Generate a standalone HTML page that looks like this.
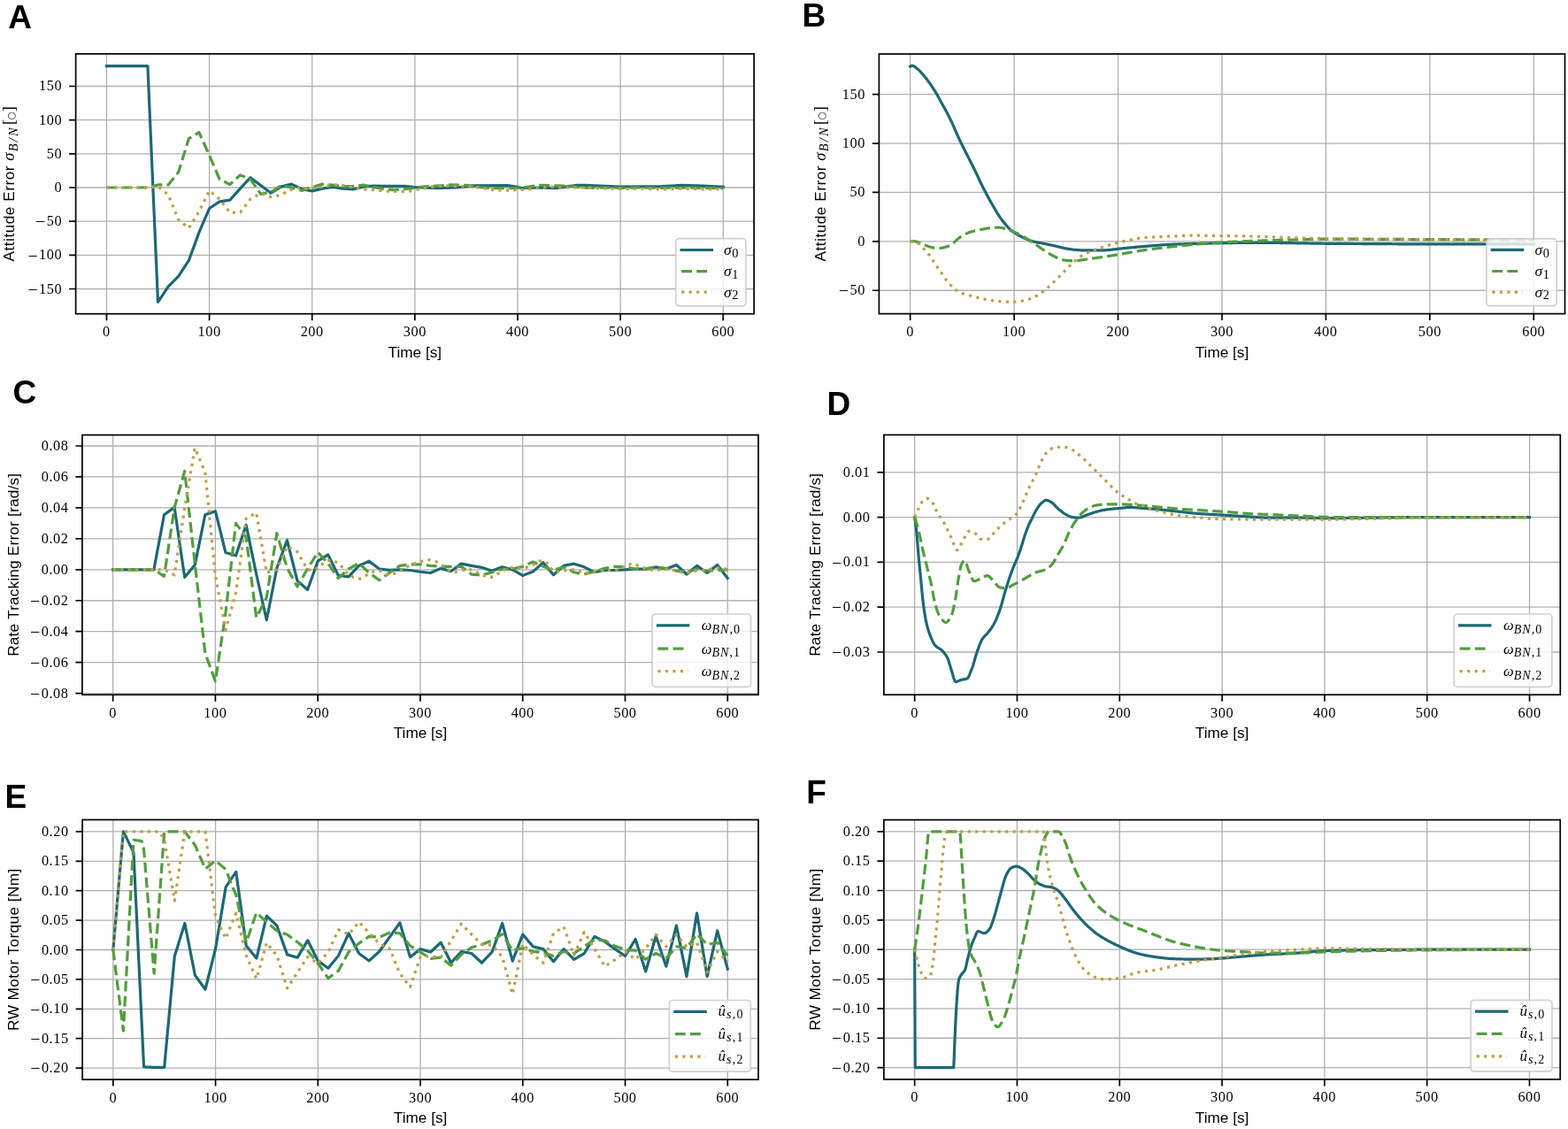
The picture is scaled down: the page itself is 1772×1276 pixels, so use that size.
<!DOCTYPE html>
<html><head><meta charset="utf-8"><title>Figure</title>
<style>
html,body{margin:0;padding:0;background:#fff;width:1772px;height:1276px;overflow:hidden;}
svg{display:block;}
</style></head>
<body>
<svg width="1772" height="1276" viewBox="0 0 1772 1276">
<rect width="1772" height="1276" fill="#fff"/>
<clipPath id="clipA"><rect x="85.60" y="60.90" width="766.50" height="293.80"/></clipPath>
<path d="M120.44 60.90V354.70M236.58 60.90V354.70M352.71 60.90V354.70M468.85 60.90V354.70M584.99 60.90V354.70M701.12 60.90V354.70M817.26 60.90V354.70M85.60 97.49H852.10M85.60 135.66H852.10M85.60 173.83H852.10M85.60 212.00H852.10M85.60 250.17H852.10M85.60 288.34H852.10M85.60 326.51H852.10" stroke="#b0b0b0" stroke-width="1.30" fill="none"/>
<path d="M120.44 74.59L166.90 74.59L178.51 341.40L190.12 323.76L201.74 312.01L213.35 294.45L224.96 262.61L236.58 235.51L248.19 227.80L259.80 226.12L271.42 213.15L283.03 200.70L306.26 218.18L317.87 210.85L329.49 208.11L341.10 213.68L352.71 215.89L364.33 213.15L375.94 211.47L387.55 213.15L399.17 213.98L410.78 210.85L422.40 210.02L434.01 210.32L445.62 210.32L457.24 210.32L468.85 211.54L494.40 212.69L516.47 212.00L533.89 209.86L573.37 209.63L584.99 211.24L589.63 212.69L607.05 212.00L629.12 212.69L652.35 209.33L660.47 209.33L677.90 210.09L701.12 211.08L724.35 210.85L747.58 210.55L770.80 209.40L794.03 210.17L817.26 211.31" stroke="#1d6874" stroke-width="3.20" fill="none" stroke-linejoin="round" stroke-linecap="square" clip-path="url(#clipA)"/>
<path d="M120.44 212.00L166.90 212.00L178.51 208.95L190.12 208.95L201.74 194.44L213.35 156.73L224.96 149.63L236.58 175.51L248.19 202.61L259.80 208.49L271.42 197.88L283.03 202.61L294.65 219.33L306.26 217.04L317.87 209.71L329.49 212.00L341.10 215.36L352.71 211.47L364.33 208.11L375.94 209.18L387.55 210.85L399.17 210.32L410.78 209.18L422.40 211.47L434.01 213.68L445.62 214.82L457.24 213.68L468.85 212.53L476.98 211.01L493.24 210.09L509.50 208.95L526.92 209.33L543.18 211.77L560.60 212.69L576.86 212.69L594.28 211.54L610.54 209.33L627.96 209.86L643.05 210.09L660.47 212.08L677.90 212.00L701.12 212.38L724.35 212.00L747.58 212.38L770.80 212.00L794.03 212.38L817.26 212.76" stroke="#529d3f" stroke-width="3.20" fill="none" stroke-linejoin="round" stroke-dasharray="11.9 5.2" clip-path="url(#clipA)"/>
<path d="M120.44 212.00L166.90 212.00L178.51 210.85L190.12 220.24L201.74 248.49L213.35 257.80L224.96 239.10L236.58 215.51L248.19 224.98L259.80 240.25L271.42 240.25L283.03 224.98L294.65 218.49L306.26 222.69L317.87 220.40L324.84 215.82L332.97 213.15L341.10 212.00L350.39 213.15L358.52 212.00L366.65 210.85L374.78 209.18L382.91 208.64L392.20 210.32L400.33 212.00L408.46 213.68L417.75 214.21L425.88 214.82L434.01 215.89L443.30 216.50L459.56 216.50L467.69 215.28L476.98 213.22L485.11 211.77L493.24 210.40L501.37 209.86L518.79 210.40L535.05 211.24L544.34 212.31L552.47 213.83L560.60 214.90L569.89 215.28L586.15 214.60L594.28 214.14L603.57 212.99L611.70 211.92L619.83 211.01L627.96 211.54L637.25 211.92L660.47 212.08L677.90 212.76L701.12 213.53L724.35 213.15L747.58 213.91L770.80 213.15L794.03 213.91L817.26 213.53" stroke="#bd9f4a" stroke-width="3.20" fill="none" stroke-linejoin="round" stroke-dasharray="3.2 5.3" clip-path="url(#clipA)"/>
<rect x="85.60" y="60.90" width="766.50" height="293.80" fill="none" stroke="#000" stroke-width="1.70" stroke-linejoin="miter"/>
<path d="M120.44 354.70v7.50M236.58 354.70v7.50M352.71 354.70v7.50M468.85 354.70v7.50M584.99 354.70v7.50M701.12 354.70v7.50M817.26 354.70v7.50M85.60 97.49h-7.50M85.60 135.66h-7.50M85.60 173.83h-7.50M85.60 212.00h-7.50M85.60 250.17h-7.50M85.60 288.34h-7.50M85.60 326.51h-7.50" stroke="#000" stroke-width="1.70" fill="none"/>
<g font-family="'Liberation Serif', 'DejaVu Serif', serif" font-size="16.3" letter-spacing="0.55" fill="#000"><text x="120.44" y="380.10" text-anchor="middle">0</text><text x="236.58" y="380.10" text-anchor="middle">100</text><text x="352.71" y="380.10" text-anchor="middle">200</text><text x="468.85" y="380.10" text-anchor="middle">300</text><text x="584.99" y="380.10" text-anchor="middle">400</text><text x="701.12" y="380.10" text-anchor="middle">500</text><text x="817.26" y="380.10" text-anchor="middle">600</text><text x="70.10" y="102.49" text-anchor="end">150</text><text x="70.10" y="140.66" text-anchor="end">100</text><text x="70.10" y="178.83" text-anchor="end">50</text><text x="70.10" y="217.00" text-anchor="end">0</text><text x="70.10" y="255.17" text-anchor="end"><tspan font-size="20" dy="2.2">−</tspan><tspan dx="0.8" dy="-2.2">50</tspan></text><text x="70.10" y="293.34" text-anchor="end"><tspan font-size="20" dy="2.2">−</tspan><tspan dx="0.8" dy="-2.2">100</tspan></text><text x="70.10" y="331.51" text-anchor="end"><tspan font-size="20" dy="2.2">−</tspan><tspan dx="0.8" dy="-2.2">150</tspan></text></g>
<text x="468.85" y="403.80" text-anchor="middle" font-family="'Liberation Sans', 'DejaVu Sans', sans-serif" font-size="17.2" fill="#000" textLength="60.5" lengthAdjust="spacing">Time [s]</text>
<text transform="translate(15.90 207.80) rotate(-90)" text-anchor="middle" font-family="'Liberation Sans', 'DejaVu Sans', sans-serif" font-size="17.2" fill="#000" textLength="175.5" lengthAdjust="spacing">Attitude Error <tspan font-family="'Liberation Serif', 'DejaVu Serif', serif" font-style="italic" font-size="18.5">σ</tspan><tspan font-family="'Liberation Serif', 'DejaVu Serif', serif" font-style="italic" font-size="14.5" dy="3.6" dx="0.8" letter-spacing="1.6">B/N</tspan><tspan font-family="'Liberation Serif', 'DejaVu Serif', serif" font-size="19.5" dy="-3.6" dx="1">[</tspan><tspan font-family="'DejaVu Sans', sans-serif" font-size="11" dy="-0.3" dx="-1.2">○</tspan><tspan font-family="'Liberation Serif', 'DejaVu Serif', serif" font-size="19.5" dy="0.3" dx="-1.2">]</tspan></text>
<rect x="763.70" y="269.70" width="79.20" height="76.20" rx="3.8" ry="3.8" fill="#fff" fill-opacity="0.8" stroke="#cccccc" stroke-opacity="0.9" stroke-width="1.7"/>
<path d="M770.10 282.50H804.40" stroke="#1d6874" stroke-width="3.20" stroke-linecap="square"/>
<text x="818.00" y="288.10" font-family="'Liberation Serif', 'DejaVu Serif', serif" fill="#000"><tspan font-style="italic" font-size="17.5">σ</tspan><tspan font-size="14.3" dy="2.6" dx="0.6">0</tspan></text>
<path d="M770.10 306.60H804.40" stroke="#529d3f" stroke-width="3.20" stroke-dasharray="11.9 5.2"/>
<text x="818.00" y="312.20" font-family="'Liberation Serif', 'DejaVu Serif', serif" fill="#000"><tspan font-style="italic" font-size="17.5">σ</tspan><tspan font-size="14.3" dy="2.6" dx="0.6">1</tspan></text>
<path d="M770.10 330.20H804.40" stroke="#bd9f4a" stroke-width="3.20" stroke-dasharray="3.2 5.3"/>
<text x="818.00" y="335.80" font-family="'Liberation Serif', 'DejaVu Serif', serif" fill="#000"><tspan font-style="italic" font-size="17.5">σ</tspan><tspan font-size="14.3" dy="2.6" dx="0.6">2</tspan></text>
<text x="9.30" y="31.90" font-family="'Liberation Sans', 'DejaVu Sans', sans-serif" font-weight="bold" font-size="37" fill="#000">A</text>
<clipPath id="clipB"><rect x="993.40" y="61.00" width="775.10" height="293.60"/></clipPath>
<path d="M1028.63 61.00V354.60M1146.07 61.00V354.60M1263.51 61.00V354.60M1380.95 61.00V354.60M1498.39 61.00V354.60M1615.83 61.00V354.60M1733.27 61.00V354.60M993.40 106.65H1768.50M993.40 162.05H1768.50M993.40 217.45H1768.50M993.40 272.85H1768.50M993.40 328.25H1768.50" stroke="#b0b0b0" stroke-width="1.30" fill="none"/>
<path d="M1028.63 75.07L1029.22 74.75L1029.81 74.51L1030.39 74.35L1030.98 74.30L1031.57 74.36L1032.15 74.54L1032.74 74.81L1033.33 75.16L1033.92 75.57L1034.50 76.02L1035.09 76.50L1035.68 76.98L1036.27 77.44L1036.50 77.62L1036.85 77.89L1037.44 78.38L1038.03 78.90L1038.61 79.46L1039.20 80.04L1039.79 80.65L1040.38 81.27L1040.96 81.90L1041.55 82.54L1042.02 83.05L1042.14 83.18L1042.72 83.83L1043.31 84.50L1043.90 85.19L1044.49 85.89L1045.07 86.61L1045.66 87.33L1046.25 88.08L1046.83 88.83L1047.42 89.59L1048.01 90.36L1048.60 91.14L1049.18 91.94L1049.77 92.76L1050.36 93.58L1050.95 94.42L1051.53 95.27L1052.12 96.13L1052.71 96.99L1052.94 97.34L1053.29 97.87L1053.88 98.76L1054.47 99.65L1055.06 100.56L1055.64 101.48L1056.23 102.42L1056.82 103.37L1057.40 104.33L1057.99 105.30L1058.46 106.10L1058.58 106.30L1059.17 107.32L1059.75 108.36L1060.34 109.43L1060.93 110.52L1061.51 111.61L1062.10 112.71L1062.69 113.80L1063.28 114.89L1063.86 115.96L1064.45 117.01L1065.04 118.05L1065.63 119.08L1066.21 120.11L1066.80 121.15L1067.39 122.18L1067.97 123.23L1068.56 124.30L1069.15 125.38L1069.38 125.82L1069.74 126.48L1070.32 127.60L1070.91 128.73L1071.50 129.88L1072.08 131.03L1072.67 132.20L1073.26 133.39L1073.85 134.59L1074.43 135.80L1074.90 136.79L1075.02 137.04L1075.61 138.29L1076.19 139.58L1076.78 140.89L1077.37 142.22L1077.96 143.56L1078.54 144.90L1079.13 146.23L1079.72 147.56L1080.31 148.86L1080.89 150.17L1081.48 151.47L1082.07 152.78L1082.65 154.08L1083.24 155.38L1083.83 156.67L1084.42 157.95L1085.00 159.21L1085.59 160.45L1085.82 160.94L1086.18 161.67L1086.76 162.87L1087.35 164.05L1087.94 165.22L1088.53 166.38L1089.11 167.53L1089.70 168.68L1090.29 169.83L1090.87 170.98L1091.34 171.91L1091.46 172.14L1092.05 173.31L1092.64 174.48L1093.22 175.65L1093.81 176.81L1094.40 177.98L1094.99 179.15L1095.57 180.31L1096.16 181.48L1096.75 182.65L1096.86 182.88L1097.33 183.81L1097.92 184.97L1098.51 186.12L1099.10 187.28L1099.68 188.43L1100.27 189.59L1100.86 190.76L1101.44 191.94L1102.03 193.13L1102.38 193.85L1102.62 194.34L1103.21 195.57L1103.79 196.83L1104.38 198.10L1104.97 199.39L1105.55 200.67L1106.14 201.95L1106.73 203.23L1107.32 204.48L1107.90 205.72L1108.49 206.92L1109.08 208.11L1109.66 209.29L1110.25 210.46L1110.84 211.63L1111.43 212.79L1112.01 213.94L1112.60 215.08L1113.19 216.22L1113.78 217.35L1114.36 218.47L1114.95 219.58L1115.54 220.69L1116.12 221.79L1116.71 222.87L1117.30 223.95L1117.89 225.02L1118.47 226.08L1119.06 227.13L1119.65 228.17L1120.23 229.19L1120.82 230.22L1121.41 231.25L1122.00 232.27L1122.58 233.29L1123.17 234.31L1123.76 235.33L1124.34 236.33L1124.93 237.33L1125.52 238.32L1126.11 239.30L1126.69 240.27L1127.28 241.22L1127.87 242.16L1128.46 243.08L1129.04 243.98L1129.63 244.86L1130.22 245.71L1130.80 246.55L1131.39 247.36L1131.98 248.14L1132.57 248.91L1133.15 249.67L1133.74 250.42L1134.33 251.17L1134.91 251.91L1135.50 252.63L1136.09 253.35L1136.68 254.05L1137.26 254.74L1137.85 255.41L1138.44 256.07L1139.02 256.71L1139.61 257.34L1140.20 257.94L1140.79 258.53L1141.37 259.09L1141.96 259.63L1142.55 260.15L1143.14 260.64L1143.72 261.11L1144.31 261.55L1144.90 261.98L1145.48 262.40L1146.07 262.81L1146.66 263.21L1147.25 263.59L1147.83 263.96L1148.42 264.33L1149.01 264.68L1149.59 265.02L1150.18 265.36L1150.77 265.68L1151.36 266.00L1151.94 266.32L1152.53 266.62L1153.12 266.93L1153.70 267.22L1154.29 267.51L1154.88 267.80L1155.47 268.09L1156.05 268.37L1156.64 268.65L1157.23 268.93L1157.82 269.21L1158.40 269.48L1158.99 269.75L1159.58 270.02L1160.16 270.28L1160.75 270.53L1161.34 270.78L1161.93 271.03L1162.51 271.27L1163.10 271.50L1163.69 271.72L1164.27 271.93L1164.86 272.14L1165.45 272.33L1166.04 272.51L1166.62 272.69L1167.21 272.85L1167.80 273.00L1168.38 273.15L1168.97 273.28L1169.56 273.42L1170.15 273.54L1170.73 273.66L1171.32 273.78L1171.91 273.89L1172.50 274.00L1173.08 274.11L1173.67 274.21L1174.26 274.32L1174.84 274.42L1175.43 274.52L1176.02 274.62L1176.61 274.73L1177.19 274.84L1177.78 274.95L1178.37 275.06L1178.95 275.18L1179.54 275.30L1180.13 275.41L1180.72 275.53L1181.30 275.65L1181.89 275.77L1182.48 275.89L1183.06 276.01L1183.65 276.13L1184.24 276.25L1184.83 276.37L1185.41 276.49L1186.00 276.61L1186.59 276.73L1187.17 276.86L1187.76 276.98L1188.35 277.11L1188.94 277.23L1189.52 277.36L1190.11 277.49L1190.70 277.61L1191.29 277.75L1191.87 277.88L1192.46 278.02L1193.05 278.16L1193.63 278.31L1194.22 278.45L1194.81 278.60L1195.40 278.75L1195.98 278.90L1196.57 279.04L1197.16 279.19L1197.74 279.34L1198.33 279.48L1198.92 279.62L1199.51 279.76L1200.09 279.89L1200.68 280.02L1201.27 280.15L1201.85 280.27L1202.44 280.38L1203.03 280.50L1203.62 280.61L1204.20 280.72L1204.79 280.84L1205.38 280.95L1205.97 281.06L1206.55 281.17L1207.14 281.28L1207.73 281.38L1208.31 281.48L1208.90 281.58L1209.49 281.68L1210.08 281.77L1210.66 281.86L1211.25 281.94L1211.84 282.02L1212.42 282.09L1213.01 282.16L1213.60 282.22L1214.19 282.27L1214.77 282.32L1215.36 282.37L1215.95 282.41L1216.53 282.46L1217.12 282.51L1217.71 282.56L1218.30 282.60L1218.88 282.64L1219.47 282.68L1220.06 282.72L1220.65 282.76L1221.23 282.79L1221.82 282.82L1222.41 282.85L1222.99 282.87L1223.58 282.90L1224.17 282.91L1224.76 282.92L1225.34 282.93L1225.93 282.93L1226.52 282.93L1227.10 282.93L1227.69 282.93L1228.28 282.93L1228.87 282.93L1229.45 282.93L1230.04 282.93L1230.63 282.93L1231.21 282.93L1231.80 282.93L1232.39 282.93L1232.98 282.93L1233.56 282.93L1234.15 282.93L1234.74 282.93L1235.33 282.93L1235.91 282.93L1236.50 282.93L1237.09 282.93L1237.67 282.93L1238.26 282.93L1238.85 282.93L1239.44 282.93L1240.02 282.92L1240.61 282.92L1241.20 282.91L1241.78 282.91L1242.37 282.90L1242.96 282.89L1243.55 282.88L1244.13 282.87L1244.72 282.86L1245.31 282.85L1245.89 282.83L1246.48 282.82L1247.07 282.81L1247.66 282.79L1248.24 282.78L1248.83 282.76L1249.42 282.75L1250.01 282.73L1250.59 282.71L1251.18 282.69L1251.77 282.66L1252.35 282.62L1252.94 282.58L1253.53 282.52L1254.12 282.47L1254.70 282.40L1255.29 282.33L1255.88 282.26L1256.46 282.19L1257.05 282.11L1257.64 282.03L1258.23 281.95L1258.81 281.87L1259.40 281.79L1259.99 281.71L1260.57 281.63L1261.16 281.55L1261.75 281.47L1262.34 281.40L1262.92 281.33L1263.51 281.27L1264.10 281.21L1264.68 281.15L1265.27 281.09L1265.86 281.03L1266.45 280.97L1267.03 280.91L1267.62 280.85L1268.21 280.79L1268.80 280.73L1269.38 280.67L1269.97 280.61L1270.56 280.56L1271.14 280.50L1271.73 280.44L1272.32 280.38L1272.91 280.32L1273.49 280.27L1274.08 280.21L1274.67 280.15L1275.25 280.09L1275.84 280.04L1276.43 279.98L1277.02 279.92L1277.60 279.87L1278.19 279.81L1278.78 279.76L1279.36 279.70L1279.95 279.65L1280.54 279.59L1281.13 279.54L1281.71 279.48L1282.30 279.43L1282.89 279.37L1283.48 279.32L1284.06 279.27L1284.65 279.21L1285.24 279.16L1285.82 279.11L1286.41 279.06L1287.00 279.00L1287.59 278.95L1288.17 278.90L1288.76 278.85L1289.35 278.80L1289.93 278.75L1290.52 278.70L1291.11 278.65L1291.70 278.60L1292.28 278.55L1292.87 278.50L1293.46 278.45L1294.04 278.40L1294.63 278.35L1295.22 278.30L1295.81 278.25L1296.39 278.20L1296.98 278.15L1297.57 278.10L1298.16 278.05L1298.74 278.00L1299.33 277.95L1299.92 277.91L1300.50 277.86L1301.09 277.81L1301.68 277.76L1302.27 277.71L1302.85 277.66L1303.44 277.61L1304.03 277.56L1304.61 277.51L1305.20 277.47L1305.79 277.42L1306.38 277.37L1306.96 277.32L1307.55 277.28L1308.14 277.23L1308.72 277.19L1309.31 277.14L1309.90 277.10L1310.49 277.05L1311.07 277.01L1311.66 276.97L1312.25 276.93L1312.84 276.88L1313.42 276.84L1314.01 276.80L1314.60 276.77L1315.18 276.73L1315.77 276.69L1316.36 276.65L1316.95 276.62L1317.53 276.58L1318.12 276.55L1318.71 276.52L1319.29 276.48L1319.88 276.45L1320.47 276.42L1321.06 276.40L1321.64 276.37L1322.23 276.34L1322.82 276.31L1323.40 276.29L1323.99 276.26L1324.58 276.23L1325.17 276.21L1325.75 276.18L1326.34 276.16L1326.93 276.13L1327.52 276.11L1328.10 276.08L1328.69 276.06L1329.28 276.04L1329.86 276.01L1330.45 275.99L1331.04 275.97L1331.63 275.95L1332.21 275.93L1332.80 275.90L1333.39 275.88L1333.97 275.86L1334.56 275.84L1335.15 275.82L1335.74 275.80L1336.32 275.78L1336.91 275.76L1337.50 275.74L1338.08 275.72L1338.67 275.70L1339.26 275.69L1339.85 275.67L1340.43 275.65L1341.02 275.63L1341.61 275.61L1342.19 275.60L1342.78 275.58L1343.37 275.56L1343.96 275.54L1344.54 275.53L1345.13 275.51L1345.72 275.49L1346.31 275.48L1346.89 275.46L1347.48 275.45L1348.07 275.43L1348.65 275.41L1349.24 275.40L1349.83 275.38L1350.42 275.37L1351.00 275.35L1351.59 275.34L1352.18 275.32L1352.76 275.31L1353.35 275.29L1353.94 275.28L1354.53 275.26L1355.11 275.25L1355.70 275.23L1356.29 275.22L1356.87 275.21L1357.46 275.19L1358.05 275.18L1358.64 275.16L1359.22 275.15L1359.81 275.14L1360.40 275.12L1360.99 275.11L1361.57 275.10L1362.16 275.08L1362.75 275.07L1363.33 275.06L1363.92 275.05L1364.51 275.03L1365.10 275.02L1365.68 275.01L1366.27 275.00L1366.86 274.98L1367.44 274.97L1368.03 274.96L1368.62 274.95L1369.21 274.94L1369.79 274.93L1370.38 274.91L1370.97 274.90L1371.55 274.89L1372.14 274.88L1372.73 274.87L1373.32 274.86L1373.90 274.85L1374.49 274.84L1375.08 274.83L1375.67 274.82L1376.25 274.81L1376.84 274.80L1377.43 274.79L1378.01 274.78L1378.60 274.77L1379.19 274.76L1379.78 274.75L1380.36 274.74L1380.95 274.73L1381.54 274.72L1382.12 274.72L1382.71 274.71L1383.30 274.70L1383.89 274.69L1384.47 274.68L1385.06 274.67L1385.65 274.66L1386.23 274.65L1386.82 274.64L1387.41 274.63L1388.00 274.62L1388.58 274.62L1389.17 274.61L1389.76 274.60L1390.35 274.59L1390.93 274.58L1391.52 274.57L1392.11 274.56L1392.69 274.55L1393.28 274.54L1393.87 274.53L1394.46 274.52L1395.04 274.52L1395.63 274.51L1396.22 274.50L1396.80 274.49L1397.39 274.48L1397.98 274.47L1398.57 274.46L1399.15 274.46L1399.74 274.45L1400.33 274.44L1400.91 274.43L1401.50 274.42L1402.09 274.42L1402.68 274.41L1403.26 274.40L1403.85 274.39L1404.44 274.39L1405.03 274.38L1405.61 274.37L1406.20 274.37L1406.79 274.36L1407.37 274.36L1407.96 274.35L1408.55 274.35L1409.14 274.34L1409.72 274.33L1410.31 274.33L1410.90 274.33L1411.48 274.32L1412.07 274.32L1412.66 274.31L1413.25 274.31L1413.83 274.31L1414.42 274.30L1415.01 274.30L1415.59 274.30L1416.18 274.30L1416.77 274.29L1417.36 274.29L1417.94 274.29L1418.53 274.29L1419.12 274.29L1419.70 274.29L1420.29 274.29L1420.88 274.29L1421.47 274.29L1422.05 274.29L1422.64 274.29L1423.23 274.30L1423.82 274.30L1424.40 274.30L1424.99 274.30L1425.58 274.31L1426.16 274.31L1426.75 274.31L1427.34 274.31L1427.93 274.32L1428.51 274.32L1429.10 274.33L1429.69 274.33L1430.27 274.34L1430.86 274.34L1431.45 274.35L1432.04 274.35L1432.62 274.36L1433.21 274.36L1433.80 274.37L1434.38 274.37L1434.97 274.38L1435.56 274.38L1436.15 274.39L1436.73 274.40L1437.32 274.40L1437.91 274.41L1438.50 274.42L1439.08 274.43L1439.67 274.43L1440.26 274.44L1440.84 274.45L1441.43 274.45L1442.02 274.46L1442.61 274.47L1443.19 274.48L1443.78 274.49L1444.37 274.49L1444.95 274.50L1445.54 274.51L1446.13 274.52L1446.72 274.53L1447.30 274.53L1447.89 274.54L1448.48 274.55L1449.06 274.56L1449.65 274.57L1450.24 274.57L1450.83 274.58L1451.41 274.59L1452.00 274.60L1452.59 274.61L1453.18 274.62L1453.76 274.62L1454.35 274.63L1454.94 274.64L1455.52 274.65L1456.11 274.66L1456.70 274.66L1457.29 274.67L1457.87 274.68L1458.46 274.69L1459.05 274.70L1459.63 274.70L1460.22 274.71L1460.81 274.72L1461.40 274.73L1461.98 274.73L1462.57 274.74L1463.16 274.75L1463.74 274.76L1464.33 274.76L1464.92 274.77L1465.51 274.78L1466.09 274.79L1466.68 274.80L1467.27 274.81L1467.86 274.81L1468.44 274.82L1469.03 274.83L1469.62 274.84L1470.20 274.85L1470.79 274.86L1471.38 274.87L1471.97 274.88L1472.55 274.89L1473.14 274.90L1473.73 274.91L1474.31 274.92L1474.90 274.93L1475.49 274.94L1476.08 274.95L1476.66 274.96L1477.25 274.97L1477.84 274.98L1478.42 274.99L1479.01 275.00L1479.60 275.01L1480.19 275.02L1480.77 275.03L1481.36 275.04L1481.95 275.05L1482.54 275.06L1483.12 275.07L1483.71 275.08L1484.30 275.09L1484.88 275.10L1485.47 275.11L1486.06 275.12L1486.65 275.12L1487.23 275.13L1487.82 275.14L1488.41 275.15L1488.99 275.16L1489.58 275.17L1490.17 275.18L1490.76 275.19L1491.34 275.19L1491.93 275.20L1492.52 275.21L1493.10 275.22L1493.69 275.22L1494.28 275.23L1494.87 275.24L1495.45 275.25L1496.04 275.25L1496.63 275.26L1497.21 275.27L1497.80 275.27L1498.39 275.28L1498.98 275.28L1499.56 275.29L1500.15 275.29L1500.74 275.30L1501.33 275.30L1501.91 275.31L1502.50 275.31L1503.09 275.32L1503.67 275.32L1504.26 275.33L1504.85 275.33L1505.44 275.33L1506.02 275.34L1506.61 275.34L1507.20 275.35L1507.78 275.35L1508.37 275.36L1508.96 275.36L1509.55 275.36L1510.13 275.37L1510.72 275.37L1511.31 275.38L1511.89 275.38L1512.48 275.38L1513.07 275.39L1513.66 275.39L1514.24 275.40L1514.83 275.40L1515.42 275.40L1516.01 275.41L1516.59 275.41L1517.18 275.41L1517.77 275.42L1518.35 275.42L1518.94 275.42L1519.53 275.43L1520.12 275.43L1520.70 275.43L1521.29 275.44L1521.88 275.44L1522.46 275.44L1523.05 275.45L1523.64 275.45L1524.23 275.45L1524.81 275.46L1525.40 275.46L1525.99 275.46L1526.57 275.47L1527.16 275.47L1527.75 275.47L1528.34 275.47L1528.92 275.48L1529.51 275.48L1530.10 275.48L1530.69 275.49L1531.27 275.49L1531.86 275.49L1532.45 275.49L1533.03 275.50L1533.62 275.50L1534.21 275.50L1534.80 275.51L1535.38 275.51L1535.97 275.51L1536.56 275.51L1537.14 275.52L1537.73 275.52L1538.32 275.52L1538.91 275.53L1539.49 275.53L1540.08 275.53L1540.67 275.53L1541.25 275.54L1541.84 275.54L1542.43 275.54L1543.02 275.55L1543.60 275.55L1544.19 275.55L1544.78 275.55L1545.37 275.56L1545.95 275.56L1546.54 275.56L1547.13 275.57L1547.71 275.57L1548.30 275.57L1548.89 275.58L1549.48 275.58L1550.06 275.58L1550.65 275.58L1551.24 275.59L1551.82 275.59L1552.41 275.59L1553.00 275.60L1553.59 275.60L1554.17 275.60L1554.76 275.61L1555.35 275.61L1555.93 275.61L1556.52 275.62L1557.11 275.62L1557.70 275.62L1558.28 275.63L1558.87 275.63L1559.46 275.63L1560.05 275.64L1560.63 275.64L1561.22 275.64L1561.81 275.65L1562.39 275.65L1562.98 275.66L1563.57 275.66L1564.16 275.66L1564.74 275.67L1565.33 275.67L1565.92 275.68L1566.50 275.68L1567.09 275.68L1567.68 275.69L1568.27 275.69L1568.85 275.70L1569.44 275.70L1570.03 275.71L1570.61 275.71L1571.20 275.71L1571.79 275.72L1572.38 275.72L1572.96 275.73L1573.55 275.73L1574.14 275.74L1574.72 275.74L1575.31 275.75L1575.90 275.75L1576.49 275.75L1577.07 275.76L1577.66 275.76L1578.25 275.77L1578.84 275.77L1579.42 275.78L1580.01 275.78L1580.60 275.79L1581.18 275.79L1581.77 275.79L1582.36 275.80L1582.95 275.80L1583.53 275.81L1584.12 275.81L1584.71 275.82L1585.29 275.82L1585.88 275.82L1586.47 275.83L1587.06 275.83L1587.64 275.84L1588.23 275.84L1588.82 275.84L1589.40 275.85L1589.99 275.85L1590.58 275.86L1591.17 275.86L1591.75 275.86L1592.34 275.87L1592.93 275.87L1593.52 275.87L1594.10 275.88L1594.69 275.88L1595.28 275.89L1595.86 275.89L1596.45 275.89L1597.04 275.90L1597.63 275.90L1598.21 275.90L1598.80 275.90L1599.39 275.91L1599.97 275.91L1600.56 275.91L1601.15 275.92L1601.74 275.92L1602.32 275.92L1602.91 275.92L1603.50 275.93L1604.08 275.93L1604.67 275.93L1605.26 275.93L1605.85 275.93L1606.43 275.94L1607.02 275.94L1607.61 275.94L1608.20 275.94L1608.78 275.94L1609.37 275.94L1609.96 275.95L1610.54 275.95L1611.13 275.95L1611.72 275.95L1612.31 275.95L1612.89 275.95L1613.48 275.95L1614.07 275.95L1614.65 275.95L1615.24 275.95L1615.83 275.95L1616.42 275.95L1617.00 275.95L1617.59 275.95L1618.18 275.95L1618.76 275.95L1619.35 275.95L1619.94 275.95L1620.53 275.95L1621.11 275.95L1621.70 275.95L1622.29 275.95L1622.88 275.95L1623.46 275.95L1624.05 275.95L1624.64 275.95L1625.22 275.95L1625.81 275.95L1626.40 275.95L1626.99 275.95L1627.57 275.95L1628.16 275.95L1628.75 275.95L1629.33 275.95L1629.92 275.95L1630.51 275.95L1631.10 275.95L1631.68 275.95L1632.27 275.95L1632.86 275.95L1633.44 275.95L1634.03 275.95L1634.62 275.95L1635.21 275.95L1635.79 275.95L1636.38 275.95L1636.97 275.95L1637.56 275.95L1638.14 275.95L1638.73 275.95L1639.32 275.95L1639.90 275.95L1640.49 275.95L1641.08 275.95L1641.67 275.95L1642.25 275.95L1642.84 275.95L1643.43 275.95L1644.01 275.95L1644.60 275.95L1645.19 275.95L1645.78 275.95L1646.36 275.95L1646.95 275.95L1647.54 275.95L1648.12 275.95L1648.71 275.95L1649.30 275.95L1649.89 275.95L1650.47 275.95L1651.06 275.95L1651.65 275.95L1652.23 275.95L1652.82 275.95L1653.41 275.95L1654.00 275.95L1654.58 275.95L1655.17 275.95L1655.76 275.95L1656.35 275.95L1656.93 275.95L1657.52 275.95L1658.11 275.95L1658.69 275.95L1659.28 275.95L1659.87 275.95L1660.46 275.95L1661.04 275.95L1661.63 275.95L1662.22 275.95L1662.80 275.95L1663.39 275.95L1663.98 275.95L1664.57 275.95L1665.15 275.95L1665.74 275.95L1666.33 275.95L1666.91 275.95L1667.50 275.95L1668.09 275.95L1668.68 275.95L1669.26 275.95L1669.85 275.95L1670.44 275.95L1671.03 275.95L1671.61 275.95L1672.20 275.95L1672.79 275.95L1673.37 275.95L1673.96 275.95L1674.55 275.95L1675.14 275.95L1675.72 275.95L1676.31 275.95L1676.90 275.95L1677.48 275.95L1678.07 275.95L1678.66 275.95L1679.25 275.95L1679.83 275.95L1680.42 275.95L1681.01 275.95L1681.59 275.95L1682.18 275.95L1682.77 275.95L1683.36 275.95L1683.94 275.95L1684.53 275.95L1685.12 275.95L1685.71 275.95L1686.29 275.95L1686.88 275.95L1687.47 275.95L1688.05 275.95L1688.64 275.95L1689.23 275.95L1689.82 275.95L1690.40 275.95L1690.99 275.95L1691.58 275.95L1692.16 275.95L1692.75 275.95L1693.34 275.95L1693.93 275.95L1694.51 275.95L1695.10 275.95L1695.69 275.95L1696.27 275.95L1696.86 275.95L1697.45 275.95L1698.04 275.95L1698.62 275.95L1699.21 275.95L1699.80 275.95L1700.39 275.95L1700.97 275.95L1701.56 275.95L1702.15 275.95L1702.73 275.95L1703.32 275.95L1703.91 275.95L1704.50 275.95L1705.08 275.95L1705.67 275.95L1706.26 275.95L1706.84 275.95L1707.43 275.95L1708.02 275.95L1708.61 275.95L1709.19 275.95L1709.78 275.95L1710.37 275.95L1710.95 275.95L1711.54 275.95L1712.13 275.95L1712.72 275.95L1713.30 275.95L1713.89 275.95L1714.48 275.95L1715.07 275.95L1715.65 275.95L1716.24 275.95L1716.83 275.95L1717.41 275.95L1718.00 275.95L1718.59 275.95L1719.18 275.95L1719.76 275.95L1720.35 275.95L1720.94 275.95L1721.52 275.95L1722.11 275.95L1722.70 275.95L1723.29 275.95L1723.87 275.95L1724.46 275.95L1725.05 275.95L1725.63 275.95L1726.22 275.95L1726.81 275.95L1727.40 275.95L1727.98 275.95L1728.57 275.95L1729.16 275.95L1729.74 275.95L1730.33 275.95L1730.92 275.95L1731.51 275.95L1732.09 275.95L1732.68 275.95L1733.27 275.95" stroke="#1d6874" stroke-width="3.20" fill="none" stroke-linejoin="round" stroke-linecap="square" clip-path="url(#clipB)"/>
<path d="M1028.63 272.85L1029.22 272.76L1029.81 272.70L1030.39 272.67L1030.98 272.64L1031.57 272.63L1032.15 272.63L1032.51 272.63L1032.74 272.63L1033.33 272.67L1033.92 272.74L1034.50 272.85L1035.09 272.99L1035.68 273.15L1036.27 273.33L1036.85 273.52L1037.44 273.73L1038.03 273.94L1038.61 274.15L1039.20 274.35L1039.67 274.51L1039.79 274.55L1040.38 274.76L1040.96 275.00L1041.55 275.25L1042.14 275.51L1042.72 275.78L1043.31 276.05L1043.90 276.32L1044.49 276.59L1045.07 276.84L1045.66 277.09L1046.25 277.34L1046.83 277.60L1047.42 277.85L1048.01 278.10L1048.60 278.33L1049.18 278.54L1049.77 278.72L1050.36 278.90L1050.95 279.07L1051.53 279.24L1052.12 279.41L1052.71 279.56L1053.29 279.71L1053.88 279.84L1054.47 279.95L1055.06 280.05L1055.64 280.12L1056.11 280.16L1056.23 280.17L1056.82 280.21L1057.40 280.25L1057.99 280.28L1058.58 280.31L1059.17 280.33L1059.75 280.36L1060.34 280.37L1060.93 280.38L1061.51 280.38L1062.10 280.37L1062.69 280.35L1063.28 280.30L1063.86 280.23L1064.45 280.15L1065.04 280.06L1065.63 279.95L1066.21 279.82L1066.80 279.68L1067.39 279.54L1067.97 279.38L1068.56 279.21L1069.15 279.03L1069.74 278.84L1070.32 278.65L1070.91 278.45L1071.50 278.25L1072.08 278.04L1072.67 277.83L1073.26 277.61L1073.85 277.37L1074.43 277.07L1075.02 276.71L1075.61 276.31L1076.19 275.86L1076.78 275.38L1077.37 274.87L1077.96 274.34L1078.54 273.79L1079.13 273.22L1079.72 272.65L1080.31 272.07L1080.89 271.50L1081.48 270.94L1082.07 270.40L1082.65 269.87L1083.24 269.37L1083.83 268.90L1084.42 268.47L1085.00 268.09L1085.59 267.72L1086.18 267.37L1086.76 267.01L1087.35 266.67L1087.94 266.32L1088.53 265.99L1089.11 265.66L1089.70 265.33L1090.29 265.02L1090.87 264.71L1091.46 264.41L1092.05 264.12L1092.64 263.85L1093.22 263.58L1093.81 263.32L1094.40 263.07L1094.99 262.84L1095.57 262.62L1096.16 262.41L1096.75 262.21L1097.33 262.03L1097.92 261.85L1098.51 261.68L1099.10 261.52L1099.68 261.36L1100.27 261.20L1100.86 261.05L1101.44 260.91L1102.03 260.77L1102.62 260.64L1103.21 260.51L1103.79 260.38L1104.38 260.26L1104.97 260.13L1105.55 260.01L1106.14 259.90L1106.73 259.78L1107.32 259.67L1107.90 259.56L1108.49 259.44L1109.08 259.33L1109.66 259.22L1110.25 259.11L1110.84 259.00L1111.43 258.89L1112.01 258.78L1112.60 258.68L1113.19 258.57L1113.78 258.47L1114.36 258.37L1114.95 258.27L1115.54 258.18L1116.12 258.09L1116.71 258.00L1117.30 257.92L1117.89 257.84L1118.47 257.76L1119.06 257.69L1119.65 257.62L1120.23 257.56L1120.82 257.50L1121.41 257.43L1122.00 257.37L1122.58 257.31L1123.17 257.25L1123.76 257.19L1124.34 257.14L1124.93 257.10L1125.52 257.06L1126.11 257.03L1126.69 257.01L1127.28 257.01L1127.87 257.02L1128.46 257.05L1129.04 257.09L1129.63 257.16L1130.22 257.24L1130.80 257.33L1131.39 257.44L1131.98 257.55L1132.57 257.68L1133.15 257.81L1133.74 257.95L1134.33 258.09L1134.91 258.23L1135.50 258.38L1136.09 258.52L1136.68 258.67L1137.26 258.82L1137.85 258.98L1138.44 259.16L1139.02 259.35L1139.61 259.55L1140.20 259.76L1140.79 259.99L1141.37 260.22L1141.96 260.45L1142.55 260.69L1143.14 260.94L1143.72 261.19L1144.31 261.45L1144.90 261.70L1145.48 261.96L1146.07 262.21L1146.66 262.47L1147.25 262.74L1147.83 263.01L1148.42 263.29L1149.01 263.57L1149.59 263.86L1150.18 264.16L1150.77 264.46L1151.36 264.76L1151.94 265.07L1152.53 265.38L1153.12 265.70L1153.70 266.02L1154.29 266.33L1154.88 266.66L1155.47 266.98L1156.05 267.30L1156.64 267.63L1157.23 267.96L1157.82 268.30L1158.40 268.64L1158.99 268.98L1159.58 269.32L1160.16 269.67L1160.75 270.02L1161.34 270.38L1161.93 270.74L1162.51 271.10L1163.10 271.46L1163.69 271.83L1164.27 272.19L1164.86 272.56L1165.45 272.94L1166.04 273.31L1166.62 273.69L1167.21 274.07L1167.80 274.45L1168.38 274.85L1168.97 275.25L1169.56 275.65L1170.15 276.06L1170.73 276.48L1171.32 276.90L1171.91 277.32L1172.50 277.74L1173.08 278.17L1173.67 278.59L1174.26 279.02L1174.84 279.44L1175.43 279.86L1176.02 280.27L1176.61 280.69L1177.19 281.09L1177.78 281.49L1178.37 281.88L1178.95 282.27L1179.54 282.65L1180.13 283.03L1180.72 283.42L1181.30 283.80L1181.89 284.18L1182.48 284.56L1183.06 284.94L1183.65 285.32L1184.24 285.69L1184.83 286.06L1185.41 286.43L1186.00 286.78L1186.59 287.14L1187.17 287.48L1187.76 287.82L1188.35 288.15L1188.94 288.46L1189.52 288.77L1190.11 289.07L1190.70 289.36L1191.29 289.64L1191.87 289.93L1192.46 290.23L1193.05 290.52L1193.63 290.81L1194.22 291.11L1194.81 291.40L1195.40 291.68L1195.98 291.96L1196.57 292.22L1197.16 292.48L1197.74 292.72L1198.33 292.95L1198.92 293.17L1199.51 293.36L1200.09 293.54L1200.68 293.69L1201.27 293.83L1201.85 293.93L1202.44 294.01L1203.03 294.08L1203.62 294.14L1204.20 294.20L1204.79 294.26L1205.38 294.32L1205.97 294.38L1206.55 294.43L1207.14 294.48L1207.73 294.52L1208.31 294.57L1208.90 294.61L1209.49 294.64L1210.08 294.68L1210.66 294.70L1211.25 294.73L1211.84 294.75L1212.42 294.77L1213.01 294.78L1213.60 294.79L1214.19 294.79L1214.77 294.78L1215.36 294.76L1215.95 294.73L1216.53 294.69L1217.12 294.64L1217.71 294.57L1218.30 294.51L1218.88 294.43L1219.47 294.35L1220.06 294.26L1220.65 294.17L1221.23 294.08L1221.82 293.98L1222.41 293.89L1222.99 293.79L1223.58 293.70L1224.17 293.60L1224.76 293.51L1225.34 293.43L1225.93 293.35L1226.52 293.27L1227.10 293.19L1227.69 293.11L1228.28 293.03L1228.87 292.95L1229.45 292.87L1230.04 292.79L1230.63 292.70L1231.21 292.62L1231.80 292.53L1232.39 292.45L1232.98 292.37L1233.56 292.28L1234.15 292.20L1234.74 292.11L1235.33 292.03L1235.91 291.94L1236.50 291.86L1237.09 291.77L1237.67 291.69L1238.26 291.60L1238.85 291.52L1239.44 291.43L1240.02 291.35L1240.61 291.27L1241.20 291.18L1241.78 291.10L1242.37 291.01L1242.96 290.93L1243.55 290.85L1244.13 290.76L1244.72 290.68L1245.31 290.59L1245.89 290.51L1246.48 290.42L1247.07 290.33L1247.66 290.25L1248.24 290.16L1248.83 290.07L1249.42 289.98L1250.01 289.89L1250.59 289.80L1251.18 289.71L1251.77 289.62L1252.35 289.53L1252.94 289.43L1253.53 289.34L1254.12 289.25L1254.70 289.15L1255.29 289.06L1255.88 288.96L1256.46 288.87L1257.05 288.77L1257.64 288.67L1258.23 288.58L1258.81 288.48L1259.40 288.38L1259.99 288.28L1260.57 288.19L1261.16 288.09L1261.75 287.99L1262.34 287.89L1262.92 287.79L1263.51 287.70L1264.10 287.60L1264.68 287.50L1265.27 287.40L1265.86 287.30L1266.45 287.20L1267.03 287.10L1267.62 287.00L1268.21 286.90L1268.80 286.79L1269.38 286.69L1269.97 286.59L1270.56 286.48L1271.14 286.38L1271.73 286.28L1272.32 286.17L1272.91 286.07L1273.49 285.96L1274.08 285.86L1274.67 285.75L1275.25 285.65L1275.84 285.54L1276.43 285.44L1277.02 285.33L1277.60 285.23L1278.19 285.13L1278.78 285.02L1279.36 284.92L1279.95 284.81L1280.54 284.71L1281.13 284.61L1281.71 284.51L1282.30 284.41L1282.89 284.30L1283.48 284.20L1284.06 284.10L1284.65 284.01L1285.24 283.91L1285.82 283.81L1286.41 283.71L1287.00 283.62L1287.59 283.52L1288.17 283.43L1288.76 283.33L1289.35 283.24L1289.93 283.15L1290.52 283.06L1291.11 282.97L1291.70 282.88L1292.28 282.80L1292.87 282.71L1293.46 282.63L1294.04 282.54L1294.63 282.46L1295.22 282.38L1295.81 282.29L1296.39 282.21L1296.98 282.13L1297.57 282.05L1298.16 281.97L1298.74 281.89L1299.33 281.81L1299.92 281.73L1300.50 281.65L1301.09 281.57L1301.68 281.50L1302.27 281.42L1302.85 281.34L1303.44 281.27L1304.03 281.19L1304.61 281.12L1305.20 281.04L1305.79 280.97L1306.38 280.89L1306.96 280.82L1307.55 280.75L1308.14 280.67L1308.72 280.60L1309.31 280.53L1309.90 280.46L1310.49 280.39L1311.07 280.31L1311.66 280.24L1312.25 280.17L1312.84 280.10L1313.42 280.04L1314.01 279.97L1314.60 279.90L1315.18 279.83L1315.77 279.76L1316.36 279.69L1316.95 279.63L1317.53 279.56L1318.12 279.49L1318.71 279.43L1319.29 279.36L1319.88 279.30L1320.47 279.23L1321.06 279.17L1321.64 279.10L1322.23 279.04L1322.82 278.97L1323.40 278.91L1323.99 278.85L1324.58 278.78L1325.17 278.72L1325.75 278.66L1326.34 278.60L1326.93 278.53L1327.52 278.47L1328.10 278.41L1328.69 278.35L1329.28 278.29L1329.86 278.23L1330.45 278.17L1331.04 278.11L1331.63 278.05L1332.21 277.99L1332.80 277.94L1333.39 277.88L1333.97 277.82L1334.56 277.76L1335.15 277.70L1335.74 277.65L1336.32 277.59L1336.91 277.53L1337.50 277.48L1338.08 277.42L1338.67 277.36L1339.26 277.31L1339.85 277.25L1340.43 277.20L1341.02 277.14L1341.61 277.09L1342.19 277.03L1342.78 276.98L1343.37 276.93L1343.96 276.87L1344.54 276.82L1345.13 276.76L1345.72 276.71L1346.31 276.66L1346.89 276.61L1347.48 276.55L1348.07 276.50L1348.65 276.45L1349.24 276.40L1349.83 276.34L1350.42 276.29L1351.00 276.24L1351.59 276.19L1352.18 276.13L1352.76 276.08L1353.35 276.03L1353.94 275.98L1354.53 275.92L1355.11 275.87L1355.70 275.82L1356.29 275.77L1356.87 275.71L1357.46 275.66L1358.05 275.61L1358.64 275.56L1359.22 275.50L1359.81 275.45L1360.40 275.40L1360.99 275.35L1361.57 275.30L1362.16 275.25L1362.75 275.19L1363.33 275.14L1363.92 275.09L1364.51 275.04L1365.10 274.99L1365.68 274.94L1366.27 274.90L1366.86 274.85L1367.44 274.80L1368.03 274.75L1368.62 274.70L1369.21 274.66L1369.79 274.61L1370.38 274.57L1370.97 274.52L1371.55 274.48L1372.14 274.43L1372.73 274.39L1373.32 274.34L1373.90 274.30L1374.49 274.26L1375.08 274.22L1375.67 274.18L1376.25 274.14L1376.84 274.10L1377.43 274.06L1378.01 274.02L1378.60 273.99L1379.19 273.95L1379.78 273.92L1380.36 273.88L1380.95 273.85L1381.54 273.81L1382.12 273.78L1382.71 273.75L1383.30 273.72L1383.89 273.69L1384.47 273.65L1385.06 273.62L1385.65 273.59L1386.23 273.56L1386.82 273.53L1387.41 273.50L1388.00 273.47L1388.58 273.44L1389.17 273.41L1389.76 273.39L1390.35 273.36L1390.93 273.33L1391.52 273.30L1392.11 273.27L1392.69 273.25L1393.28 273.22L1393.87 273.19L1394.46 273.16L1395.04 273.14L1395.63 273.11L1396.22 273.09L1396.80 273.06L1397.39 273.03L1397.98 273.01L1398.57 272.98L1399.15 272.96L1399.74 272.93L1400.33 272.91L1400.91 272.89L1401.50 272.86L1402.09 272.84L1402.68 272.81L1403.26 272.79L1403.85 272.77L1404.44 272.74L1405.03 272.72L1405.61 272.70L1406.20 272.68L1406.79 272.65L1407.37 272.63L1407.96 272.61L1408.55 272.59L1409.14 272.56L1409.72 272.54L1410.31 272.52L1410.90 272.50L1411.48 272.48L1412.07 272.46L1412.66 272.43L1413.25 272.41L1413.83 272.39L1414.42 272.37L1415.01 272.35L1415.59 272.33L1416.18 272.31L1416.77 272.29L1417.36 272.27L1417.94 272.25L1418.53 272.23L1419.12 272.21L1419.70 272.19L1420.29 272.16L1420.88 272.14L1421.47 272.12L1422.05 272.11L1422.64 272.09L1423.23 272.07L1423.82 272.05L1424.40 272.03L1424.99 272.01L1425.58 271.99L1426.16 271.97L1426.75 271.95L1427.34 271.93L1427.93 271.91L1428.51 271.90L1429.10 271.88L1429.69 271.86L1430.27 271.84L1430.86 271.82L1431.45 271.80L1432.04 271.79L1432.62 271.77L1433.21 271.75L1433.80 271.73L1434.38 271.72L1434.97 271.70L1435.56 271.68L1436.15 271.66L1436.73 271.65L1437.32 271.63L1437.91 271.61L1438.50 271.60L1439.08 271.58L1439.67 271.56L1440.26 271.55L1440.84 271.53L1441.43 271.51L1442.02 271.50L1442.61 271.48L1443.19 271.46L1443.78 271.45L1444.37 271.43L1444.95 271.42L1445.54 271.40L1446.13 271.38L1446.72 271.37L1447.30 271.35L1447.89 271.34L1448.48 271.32L1449.06 271.30L1449.65 271.29L1450.24 271.27L1450.83 271.26L1451.41 271.24L1452.00 271.23L1452.59 271.21L1453.18 271.20L1453.76 271.18L1454.35 271.16L1454.94 271.15L1455.52 271.13L1456.11 271.12L1456.70 271.10L1457.29 271.09L1457.87 271.07L1458.46 271.06L1459.05 271.04L1459.63 271.03L1460.22 271.01L1460.81 271.00L1461.40 270.98L1461.98 270.97L1462.57 270.95L1463.16 270.94L1463.74 270.92L1464.33 270.90L1464.92 270.89L1465.51 270.87L1466.09 270.85L1466.68 270.84L1467.27 270.82L1467.86 270.80L1468.44 270.78L1469.03 270.76L1469.62 270.75L1470.20 270.73L1470.79 270.71L1471.38 270.69L1471.97 270.67L1472.55 270.65L1473.14 270.64L1473.73 270.62L1474.31 270.60L1474.90 270.58L1475.49 270.56L1476.08 270.54L1476.66 270.53L1477.25 270.51L1477.84 270.49L1478.42 270.47L1479.01 270.45L1479.60 270.44L1480.19 270.42L1480.77 270.40L1481.36 270.38L1481.95 270.37L1482.54 270.35L1483.12 270.34L1483.71 270.32L1484.30 270.30L1484.88 270.29L1485.47 270.27L1486.06 270.26L1486.65 270.25L1487.23 270.23L1487.82 270.22L1488.41 270.21L1488.99 270.20L1489.58 270.18L1490.17 270.17L1490.76 270.16L1491.34 270.15L1491.93 270.14L1492.52 270.13L1493.10 270.13L1493.69 270.12L1494.28 270.11L1494.87 270.10L1495.45 270.10L1496.04 270.09L1496.63 270.09L1497.21 270.09L1497.80 270.08L1498.39 270.08L1498.98 270.08L1499.56 270.08L1500.15 270.08L1500.74 270.08L1501.33 270.08L1501.91 270.08L1502.50 270.08L1503.09 270.08L1503.67 270.08L1504.26 270.08L1504.85 270.08L1505.44 270.08L1506.02 270.08L1506.61 270.09L1507.20 270.09L1507.78 270.09L1508.37 270.09L1508.96 270.09L1509.55 270.09L1510.13 270.09L1510.72 270.09L1511.31 270.10L1511.89 270.10L1512.48 270.10L1513.07 270.10L1513.66 270.10L1514.24 270.10L1514.83 270.10L1515.42 270.11L1516.01 270.11L1516.59 270.11L1517.18 270.11L1517.77 270.11L1518.35 270.12L1518.94 270.12L1519.53 270.12L1520.12 270.12L1520.70 270.13L1521.29 270.13L1521.88 270.13L1522.46 270.13L1523.05 270.13L1523.64 270.14L1524.23 270.14L1524.81 270.14L1525.40 270.14L1525.99 270.15L1526.57 270.15L1527.16 270.15L1527.75 270.16L1528.34 270.16L1528.92 270.16L1529.51 270.16L1530.10 270.17L1530.69 270.17L1531.27 270.17L1531.86 270.17L1532.45 270.18L1533.03 270.18L1533.62 270.18L1534.21 270.19L1534.80 270.19L1535.38 270.19L1535.97 270.20L1536.56 270.20L1537.14 270.20L1537.73 270.20L1538.32 270.21L1538.91 270.21L1539.49 270.21L1540.08 270.22L1540.67 270.22L1541.25 270.22L1541.84 270.23L1542.43 270.23L1543.02 270.23L1543.60 270.23L1544.19 270.24L1544.78 270.24L1545.37 270.24L1545.95 270.25L1546.54 270.25L1547.13 270.25L1547.71 270.26L1548.30 270.26L1548.89 270.26L1549.48 270.26L1550.06 270.27L1550.65 270.27L1551.24 270.27L1551.82 270.28L1552.41 270.28L1553.00 270.28L1553.59 270.28L1554.17 270.29L1554.76 270.29L1555.35 270.29L1555.93 270.30L1556.52 270.30L1557.11 270.30L1557.70 270.30L1558.28 270.31L1558.87 270.31L1559.46 270.31L1560.05 270.32L1560.63 270.32L1561.22 270.32L1561.81 270.32L1562.39 270.33L1562.98 270.33L1563.57 270.33L1564.16 270.34L1564.74 270.34L1565.33 270.34L1565.92 270.35L1566.50 270.35L1567.09 270.35L1567.68 270.36L1568.27 270.36L1568.85 270.36L1569.44 270.37L1570.03 270.37L1570.61 270.37L1571.20 270.38L1571.79 270.38L1572.38 270.38L1572.96 270.39L1573.55 270.39L1574.14 270.39L1574.72 270.40L1575.31 270.40L1575.90 270.40L1576.49 270.41L1577.07 270.41L1577.66 270.41L1578.25 270.42L1578.84 270.42L1579.42 270.42L1580.01 270.43L1580.60 270.43L1581.18 270.44L1581.77 270.44L1582.36 270.44L1582.95 270.45L1583.53 270.45L1584.12 270.45L1584.71 270.46L1585.29 270.46L1585.88 270.46L1586.47 270.47L1587.06 270.47L1587.64 270.48L1588.23 270.48L1588.82 270.48L1589.40 270.49L1589.99 270.49L1590.58 270.49L1591.17 270.50L1591.75 270.50L1592.34 270.50L1592.93 270.51L1593.52 270.51L1594.10 270.52L1594.69 270.52L1595.28 270.52L1595.86 270.53L1596.45 270.53L1597.04 270.53L1597.63 270.54L1598.21 270.54L1598.80 270.54L1599.39 270.55L1599.97 270.55L1600.56 270.55L1601.15 270.56L1601.74 270.56L1602.32 270.56L1602.91 270.57L1603.50 270.57L1604.08 270.57L1604.67 270.58L1605.26 270.58L1605.85 270.58L1606.43 270.59L1607.02 270.59L1607.61 270.59L1608.20 270.60L1608.78 270.60L1609.37 270.60L1609.96 270.61L1610.54 270.61L1611.13 270.61L1611.72 270.61L1612.31 270.62L1612.89 270.62L1613.48 270.62L1614.07 270.63L1614.65 270.63L1615.24 270.63L1615.83 270.63L1616.42 270.64L1617.00 270.64L1617.59 270.64L1618.18 270.64L1618.76 270.65L1619.35 270.65L1619.94 270.65L1620.53 270.65L1621.11 270.66L1621.70 270.66L1622.29 270.66L1622.88 270.66L1623.46 270.67L1624.05 270.67L1624.64 270.67L1625.22 270.67L1625.81 270.68L1626.40 270.68L1626.99 270.68L1627.57 270.68L1628.16 270.68L1628.75 270.69L1629.33 270.69L1629.92 270.69L1630.51 270.69L1631.10 270.70L1631.68 270.70L1632.27 270.70L1632.86 270.70L1633.44 270.70L1634.03 270.71L1634.62 270.71L1635.21 270.71L1635.79 270.71L1636.38 270.71L1636.97 270.72L1637.56 270.72L1638.14 270.72L1638.73 270.72L1639.32 270.72L1639.90 270.73L1640.49 270.73L1641.08 270.73L1641.67 270.73L1642.25 270.73L1642.84 270.74L1643.43 270.74L1644.01 270.74L1644.60 270.74L1645.19 270.74L1645.78 270.75L1646.36 270.75L1646.95 270.75L1647.54 270.75L1648.12 270.75L1648.71 270.76L1649.30 270.76L1649.89 270.76L1650.47 270.76L1651.06 270.76L1651.65 270.77L1652.23 270.77L1652.82 270.77L1653.41 270.77L1654.00 270.78L1654.58 270.78L1655.17 270.78L1655.76 270.78L1656.35 270.78L1656.93 270.79L1657.52 270.79L1658.11 270.79L1658.69 270.79L1659.28 270.79L1659.87 270.80L1660.46 270.80L1661.04 270.80L1661.63 270.80L1662.22 270.80L1662.80 270.81L1663.39 270.81L1663.98 270.81L1664.57 270.81L1665.15 270.82L1665.74 270.82L1666.33 270.82L1666.91 270.82L1667.50 270.83L1668.09 270.83L1668.68 270.83L1669.26 270.83L1669.85 270.84L1670.44 270.84L1671.03 270.84L1671.61 270.84L1672.20 270.85L1672.79 270.85L1673.37 270.85L1673.96 270.85L1674.55 270.86L1675.14 270.86L1675.72 270.86L1676.31 270.86L1676.90 270.87L1677.48 270.87L1678.07 270.87L1678.66 270.87L1679.25 270.88L1679.83 270.88L1680.42 270.88L1681.01 270.89L1681.59 270.89L1682.18 270.89L1682.77 270.89L1683.36 270.90L1683.94 270.90L1684.53 270.90L1685.12 270.91L1685.71 270.91L1686.29 270.91L1686.88 270.91L1687.47 270.92L1688.05 270.92L1688.64 270.92L1689.23 270.93L1689.82 270.93L1690.40 270.93L1690.99 270.94L1691.58 270.94L1692.16 270.94L1692.75 270.95L1693.34 270.95L1693.93 270.95L1694.51 270.95L1695.10 270.96L1695.69 270.96L1696.27 270.96L1696.86 270.97L1697.45 270.97L1698.04 270.97L1698.62 270.98L1699.21 270.98L1699.80 270.98L1700.39 270.99L1700.97 270.99L1701.56 270.99L1702.15 271.00L1702.73 271.00L1703.32 271.00L1703.91 271.01L1704.50 271.01L1705.08 271.01L1705.67 271.02L1706.26 271.02L1706.84 271.02L1707.43 271.03L1708.02 271.03L1708.61 271.03L1709.19 271.04L1709.78 271.04L1710.37 271.04L1710.95 271.05L1711.54 271.05L1712.13 271.05L1712.72 271.06L1713.30 271.06L1713.89 271.07L1714.48 271.07L1715.07 271.07L1715.65 271.08L1716.24 271.08L1716.83 271.08L1717.41 271.09L1718.00 271.09L1718.59 271.09L1719.18 271.10L1719.76 271.10L1720.35 271.10L1720.94 271.11L1721.52 271.11L1722.11 271.12L1722.70 271.12L1723.29 271.12L1723.87 271.13L1724.46 271.13L1725.05 271.13L1725.63 271.14L1726.22 271.14L1726.81 271.15L1727.40 271.15L1727.98 271.15L1728.57 271.16L1729.16 271.16L1729.74 271.16L1730.33 271.17L1730.92 271.17L1731.51 271.18L1732.09 271.18L1732.68 271.18L1733.27 271.19" stroke="#529d3f" stroke-width="3.20" fill="none" stroke-linejoin="round" stroke-dasharray="11.9 5.2" clip-path="url(#clipB)"/>
<path d="M1028.63 272.85L1029.22 272.88L1029.81 272.92L1030.39 272.99L1030.98 273.08L1031.57 273.17L1032.15 273.28L1032.74 273.40L1033.33 273.51L1033.92 273.65L1034.50 273.81L1035.09 274.00L1035.68 274.21L1036.27 274.44L1036.85 274.70L1037.44 274.98L1038.03 275.29L1038.61 275.65L1039.20 276.09L1039.79 276.60L1040.38 277.17L1040.96 277.78L1041.55 278.43L1042.14 279.09L1042.72 279.75L1043.31 280.41L1043.90 281.05L1044.49 281.67L1045.07 282.31L1045.66 282.94L1046.25 283.59L1046.83 284.26L1047.42 284.93L1048.01 285.62L1048.60 286.33L1049.18 287.06L1049.77 287.81L1050.36 288.59L1050.95 289.41L1051.53 290.26L1052.12 291.14L1052.71 292.02L1053.29 292.92L1053.88 293.80L1054.47 294.68L1055.06 295.55L1055.64 296.42L1056.23 297.30L1056.82 298.18L1057.40 299.06L1057.99 299.93L1058.58 300.80L1059.17 301.66L1059.75 302.51L1060.34 303.35L1060.93 304.18L1061.51 305.01L1062.10 305.84L1062.69 306.67L1063.28 307.49L1063.86 308.31L1064.45 309.13L1065.04 309.98L1065.63 310.84L1066.21 311.71L1066.80 312.58L1067.39 313.45L1067.97 314.31L1068.56 315.17L1069.15 316.01L1069.74 316.84L1070.32 317.64L1070.91 318.42L1071.50 319.16L1072.08 319.87L1072.67 320.54L1073.26 321.16L1073.85 321.76L1074.43 322.35L1075.02 322.93L1075.61 323.51L1076.19 324.08L1076.78 324.63L1077.37 325.18L1077.96 325.71L1078.54 326.22L1079.13 326.72L1079.72 327.21L1080.31 327.67L1080.89 328.12L1081.48 328.54L1082.07 328.94L1082.65 329.32L1083.24 329.68L1083.83 330.00L1084.42 330.30L1085.00 330.58L1085.59 330.83L1086.18 331.06L1086.76 331.29L1087.35 331.50L1087.94 331.70L1088.53 331.89L1089.11 332.07L1089.70 332.25L1090.29 332.42L1090.87 332.58L1091.46 332.74L1092.05 332.89L1092.64 333.04L1093.22 333.19L1093.81 333.34L1094.40 333.49L1094.99 333.65L1095.57 333.80L1096.16 333.96L1096.75 334.12L1097.33 334.29L1097.92 334.45L1098.51 334.62L1099.10 334.78L1099.68 334.95L1100.27 335.11L1100.86 335.27L1101.44 335.44L1102.03 335.60L1102.62 335.75L1103.21 335.91L1103.79 336.07L1104.38 336.22L1104.97 336.37L1105.55 336.52L1106.14 336.67L1106.73 336.81L1107.32 336.95L1107.90 337.09L1108.49 337.22L1109.08 337.36L1109.66 337.49L1110.25 337.62L1110.84 337.76L1111.43 337.89L1112.01 338.02L1112.60 338.15L1113.19 338.27L1113.78 338.40L1114.36 338.52L1114.95 338.64L1115.54 338.76L1116.12 338.87L1116.71 338.98L1117.30 339.09L1117.89 339.19L1118.47 339.29L1119.06 339.38L1119.65 339.47L1120.23 339.55L1120.82 339.63L1121.41 339.71L1122.00 339.79L1122.58 339.86L1123.17 339.94L1123.76 340.01L1124.34 340.08L1124.93 340.15L1125.52 340.22L1126.11 340.28L1126.69 340.34L1127.28 340.40L1127.87 340.46L1128.46 340.51L1129.04 340.56L1129.63 340.61L1130.22 340.66L1130.80 340.70L1131.39 340.74L1131.98 340.77L1132.57 340.80L1133.15 340.84L1133.74 340.87L1134.33 340.90L1134.91 340.93L1135.50 340.96L1136.09 340.99L1136.68 341.02L1137.26 341.05L1137.85 341.07L1138.44 341.10L1139.02 341.12L1139.61 341.14L1140.20 341.16L1140.79 341.17L1141.37 341.19L1141.96 341.20L1142.55 341.21L1143.14 341.21L1143.72 341.21L1144.31 341.21L1144.90 341.20L1145.48 341.17L1146.07 341.14L1146.66 341.11L1147.25 341.06L1147.83 341.01L1148.42 340.96L1149.01 340.90L1149.59 340.83L1150.18 340.76L1150.77 340.69L1151.36 340.61L1151.94 340.52L1152.53 340.44L1153.12 340.35L1153.70 340.27L1154.29 340.18L1154.88 340.09L1155.47 339.99L1156.05 339.90L1156.64 339.79L1157.23 339.67L1157.82 339.55L1158.40 339.41L1158.99 339.26L1159.58 339.10L1160.16 338.94L1160.75 338.77L1161.34 338.59L1161.93 338.40L1162.51 338.20L1163.10 338.00L1163.69 337.80L1164.27 337.58L1164.86 337.37L1165.45 337.14L1166.04 336.92L1166.62 336.68L1167.21 336.45L1167.80 336.20L1168.38 335.94L1168.97 335.67L1169.56 335.38L1170.15 335.07L1170.73 334.76L1171.32 334.43L1171.91 334.09L1172.50 333.73L1173.08 333.37L1173.67 333.00L1174.26 332.62L1174.84 332.23L1175.43 331.84L1176.02 331.44L1176.61 331.03L1177.19 330.62L1177.78 330.20L1178.37 329.78L1178.95 329.36L1179.54 328.93L1180.13 328.48L1180.72 328.01L1181.30 327.53L1181.89 327.04L1182.48 326.54L1183.06 326.02L1183.65 325.50L1184.24 324.96L1184.83 324.42L1185.41 323.88L1186.00 323.32L1186.59 322.76L1187.17 322.20L1187.76 321.64L1188.35 321.08L1188.94 320.51L1189.52 319.95L1190.11 319.39L1190.70 318.83L1191.29 318.27L1191.87 317.71L1192.46 317.14L1193.05 316.57L1193.63 315.99L1194.22 315.41L1194.81 314.82L1195.40 314.23L1195.98 313.64L1196.57 313.05L1197.16 312.45L1197.74 311.85L1198.33 311.26L1198.92 310.66L1199.51 310.06L1200.09 309.46L1200.68 308.87L1201.27 308.27L1201.85 307.68L1202.44 307.09L1203.03 306.49L1203.62 305.89L1204.20 305.27L1204.79 304.65L1205.38 304.03L1205.97 303.40L1206.55 302.77L1207.14 302.15L1207.73 301.52L1208.31 300.90L1208.90 300.28L1209.49 299.67L1210.08 299.07L1210.66 298.47L1211.25 297.89L1211.84 297.33L1212.42 296.78L1213.01 296.24L1213.60 295.73L1214.19 295.23L1214.77 294.75L1215.36 294.27L1215.95 293.80L1216.53 293.33L1217.12 292.87L1217.71 292.42L1218.30 291.97L1218.88 291.53L1219.47 291.10L1220.06 290.67L1220.65 290.26L1221.23 289.86L1221.82 289.46L1222.41 289.08L1222.99 288.71L1223.58 288.35L1224.17 288.00L1224.76 287.66L1225.34 287.34L1225.93 287.03L1226.52 286.74L1227.10 286.45L1227.69 286.17L1228.28 285.91L1228.87 285.65L1229.45 285.39L1230.04 285.15L1230.63 284.91L1231.21 284.67L1231.80 284.44L1232.39 284.22L1232.98 284.00L1233.56 283.78L1234.15 283.56L1234.74 283.34L1235.33 283.13L1235.91 282.92L1236.50 282.70L1237.09 282.49L1237.67 282.27L1238.26 282.05L1238.85 281.83L1239.44 281.62L1240.02 281.40L1240.61 281.19L1241.20 280.98L1241.78 280.77L1242.37 280.56L1242.96 280.35L1243.55 280.15L1244.13 279.94L1244.72 279.74L1245.31 279.54L1245.89 279.34L1246.48 279.15L1247.07 278.95L1247.66 278.76L1248.24 278.57L1248.83 278.38L1249.42 278.20L1250.01 278.02L1250.59 277.84L1251.18 277.66L1251.77 277.48L1252.35 277.31L1252.94 277.14L1253.53 276.97L1254.12 276.80L1254.70 276.63L1255.29 276.46L1255.88 276.30L1256.46 276.14L1257.05 275.98L1257.64 275.82L1258.23 275.66L1258.81 275.50L1259.40 275.35L1259.99 275.19L1260.57 275.04L1261.16 274.89L1261.75 274.74L1262.34 274.59L1262.92 274.44L1263.51 274.29L1264.10 274.14L1264.68 273.99L1265.27 273.84L1265.86 273.70L1266.45 273.55L1267.03 273.40L1267.62 273.25L1268.21 273.10L1268.80 272.96L1269.38 272.81L1269.97 272.67L1270.56 272.52L1271.14 272.38L1271.73 272.24L1272.32 272.10L1272.91 271.97L1273.49 271.83L1274.08 271.70L1274.67 271.57L1275.25 271.44L1275.84 271.32L1276.43 271.20L1277.02 271.08L1277.60 270.96L1278.19 270.85L1278.78 270.74L1279.36 270.64L1279.95 270.53L1280.54 270.43L1281.13 270.32L1281.71 270.21L1282.30 270.11L1282.89 270.01L1283.48 269.90L1284.06 269.80L1284.65 269.71L1285.24 269.61L1285.82 269.51L1286.41 269.42L1287.00 269.33L1287.59 269.25L1288.17 269.16L1288.76 269.08L1289.35 269.01L1289.93 268.94L1290.52 268.87L1291.11 268.80L1291.70 268.74L1292.28 268.69L1292.87 268.64L1293.46 268.59L1294.04 268.55L1294.63 268.50L1295.22 268.46L1295.81 268.42L1296.39 268.38L1296.98 268.34L1297.57 268.30L1298.16 268.26L1298.74 268.22L1299.33 268.19L1299.92 268.15L1300.50 268.12L1301.09 268.08L1301.68 268.05L1302.27 268.02L1302.85 267.99L1303.44 267.95L1304.03 267.92L1304.61 267.90L1305.20 267.87L1305.79 267.84L1306.38 267.81L1306.96 267.78L1307.55 267.76L1308.14 267.73L1308.72 267.70L1309.31 267.68L1309.90 267.65L1310.49 267.63L1311.07 267.60L1311.66 267.58L1312.25 267.55L1312.84 267.53L1313.42 267.51L1314.01 267.48L1314.60 267.46L1315.18 267.44L1315.77 267.41L1316.36 267.39L1316.95 267.37L1317.53 267.34L1318.12 267.32L1318.71 267.30L1319.29 267.27L1319.88 267.25L1320.47 267.22L1321.06 267.20L1321.64 267.17L1322.23 267.15L1322.82 267.12L1323.40 267.10L1323.99 267.07L1324.58 267.04L1325.17 267.02L1325.75 266.99L1326.34 266.96L1326.93 266.93L1327.52 266.91L1328.10 266.88L1328.69 266.85L1329.28 266.82L1329.86 266.79L1330.45 266.77L1331.04 266.74L1331.63 266.71L1332.21 266.68L1332.80 266.66L1333.39 266.63L1333.97 266.60L1334.56 266.58L1335.15 266.55L1335.74 266.53L1336.32 266.50L1336.91 266.48L1337.50 266.46L1338.08 266.44L1338.67 266.41L1339.26 266.39L1339.85 266.37L1340.43 266.35L1341.02 266.34L1341.61 266.32L1342.19 266.30L1342.78 266.29L1343.37 266.27L1343.96 266.26L1344.54 266.25L1345.13 266.24L1345.72 266.23L1346.31 266.22L1346.89 266.21L1347.48 266.21L1348.07 266.21L1348.65 266.20L1349.24 266.20L1349.83 266.20L1350.42 266.20L1351.00 266.20L1351.59 266.21L1352.18 266.21L1352.76 266.21L1353.35 266.21L1353.94 266.21L1354.53 266.22L1355.11 266.22L1355.70 266.22L1356.29 266.23L1356.87 266.23L1357.46 266.24L1358.05 266.24L1358.64 266.25L1359.22 266.25L1359.81 266.26L1360.40 266.26L1360.99 266.27L1361.57 266.28L1362.16 266.28L1362.75 266.29L1363.33 266.30L1363.92 266.30L1364.51 266.31L1365.10 266.32L1365.68 266.32L1366.27 266.33L1366.86 266.34L1367.44 266.35L1368.03 266.36L1368.62 266.36L1369.21 266.37L1369.79 266.38L1370.38 266.39L1370.97 266.40L1371.55 266.40L1372.14 266.41L1372.73 266.42L1373.32 266.43L1373.90 266.44L1374.49 266.45L1375.08 266.45L1375.67 266.46L1376.25 266.47L1376.84 266.48L1377.43 266.49L1378.01 266.50L1378.60 266.50L1379.19 266.51L1379.78 266.52L1380.36 266.53L1380.95 266.53L1381.54 266.54L1382.12 266.55L1382.71 266.56L1383.30 266.57L1383.89 266.57L1384.47 266.58L1385.06 266.59L1385.65 266.60L1386.23 266.60L1386.82 266.61L1387.41 266.62L1388.00 266.63L1388.58 266.64L1389.17 266.65L1389.76 266.65L1390.35 266.66L1390.93 266.67L1391.52 266.68L1392.11 266.69L1392.69 266.70L1393.28 266.71L1393.87 266.72L1394.46 266.72L1395.04 266.73L1395.63 266.74L1396.22 266.75L1396.80 266.76L1397.39 266.77L1397.98 266.78L1398.57 266.79L1399.15 266.80L1399.74 266.81L1400.33 266.82L1400.91 266.83L1401.50 266.84L1402.09 266.85L1402.68 266.86L1403.26 266.87L1403.85 266.88L1404.44 266.89L1405.03 266.90L1405.61 266.91L1406.20 266.92L1406.79 266.93L1407.37 266.94L1407.96 266.96L1408.55 266.97L1409.14 266.98L1409.72 266.99L1410.31 267.00L1410.90 267.01L1411.48 267.02L1412.07 267.04L1412.66 267.05L1413.25 267.06L1413.83 267.07L1414.42 267.08L1415.01 267.10L1415.59 267.11L1416.18 267.12L1416.77 267.13L1417.36 267.15L1417.94 267.16L1418.53 267.17L1419.12 267.19L1419.70 267.20L1420.29 267.21L1420.88 267.23L1421.47 267.24L1422.05 267.26L1422.64 267.27L1423.23 267.29L1423.82 267.30L1424.40 267.32L1424.99 267.34L1425.58 267.35L1426.16 267.37L1426.75 267.39L1427.34 267.41L1427.93 267.42L1428.51 267.44L1429.10 267.46L1429.69 267.48L1430.27 267.50L1430.86 267.52L1431.45 267.54L1432.04 267.56L1432.62 267.58L1433.21 267.60L1433.80 267.62L1434.38 267.64L1434.97 267.66L1435.56 267.69L1436.15 267.71L1436.73 267.73L1437.32 267.75L1437.91 267.77L1438.50 267.79L1439.08 267.82L1439.67 267.84L1440.26 267.86L1440.84 267.88L1441.43 267.90L1442.02 267.93L1442.61 267.95L1443.19 267.97L1443.78 267.99L1444.37 268.02L1444.95 268.04L1445.54 268.06L1446.13 268.08L1446.72 268.11L1447.30 268.13L1447.89 268.15L1448.48 268.17L1449.06 268.20L1449.65 268.22L1450.24 268.24L1450.83 268.26L1451.41 268.28L1452.00 268.30L1452.59 268.33L1453.18 268.35L1453.76 268.37L1454.35 268.39L1454.94 268.41L1455.52 268.43L1456.11 268.45L1456.70 268.47L1457.29 268.49L1457.87 268.51L1458.46 268.53L1459.05 268.55L1459.63 268.57L1460.22 268.59L1460.81 268.60L1461.40 268.62L1461.98 268.64L1462.57 268.66L1463.16 268.67L1463.74 268.69L1464.33 268.71L1464.92 268.73L1465.51 268.75L1466.09 268.76L1466.68 268.78L1467.27 268.80L1467.86 268.82L1468.44 268.83L1469.03 268.85L1469.62 268.87L1470.20 268.89L1470.79 268.91L1471.38 268.92L1471.97 268.94L1472.55 268.96L1473.14 268.98L1473.73 268.99L1474.31 269.01L1474.90 269.03L1475.49 269.05L1476.08 269.06L1476.66 269.08L1477.25 269.10L1477.84 269.12L1478.42 269.13L1479.01 269.15L1479.60 269.17L1480.19 269.18L1480.77 269.20L1481.36 269.22L1481.95 269.23L1482.54 269.25L1483.12 269.27L1483.71 269.28L1484.30 269.30L1484.88 269.31L1485.47 269.33L1486.06 269.34L1486.65 269.36L1487.23 269.37L1487.82 269.39L1488.41 269.40L1488.99 269.42L1489.58 269.43L1490.17 269.45L1490.76 269.46L1491.34 269.47L1491.93 269.49L1492.52 269.50L1493.10 269.51L1493.69 269.53L1494.28 269.54L1494.87 269.55L1495.45 269.56L1496.04 269.57L1496.63 269.58L1497.21 269.60L1497.80 269.61L1498.39 269.62L1498.98 269.63L1499.56 269.64L1500.15 269.65L1500.74 269.66L1501.33 269.67L1501.91 269.68L1502.50 269.68L1503.09 269.69L1503.67 269.70L1504.26 269.71L1504.85 269.72L1505.44 269.73L1506.02 269.74L1506.61 269.75L1507.20 269.76L1507.78 269.77L1508.37 269.77L1508.96 269.78L1509.55 269.79L1510.13 269.80L1510.72 269.81L1511.31 269.82L1511.89 269.83L1512.48 269.83L1513.07 269.84L1513.66 269.85L1514.24 269.86L1514.83 269.87L1515.42 269.87L1516.01 269.88L1516.59 269.89L1517.18 269.90L1517.77 269.91L1518.35 269.91L1518.94 269.92L1519.53 269.93L1520.12 269.94L1520.70 269.94L1521.29 269.95L1521.88 269.96L1522.46 269.96L1523.05 269.97L1523.64 269.98L1524.23 269.99L1524.81 269.99L1525.40 270.00L1525.99 270.01L1526.57 270.01L1527.16 270.02L1527.75 270.03L1528.34 270.03L1528.92 270.04L1529.51 270.05L1530.10 270.05L1530.69 270.06L1531.27 270.07L1531.86 270.07L1532.45 270.08L1533.03 270.08L1533.62 270.09L1534.21 270.10L1534.80 270.10L1535.38 270.11L1535.97 270.12L1536.56 270.12L1537.14 270.13L1537.73 270.13L1538.32 270.14L1538.91 270.14L1539.49 270.15L1540.08 270.16L1540.67 270.16L1541.25 270.17L1541.84 270.17L1542.43 270.18L1543.02 270.18L1543.60 270.19L1544.19 270.19L1544.78 270.20L1545.37 270.20L1545.95 270.21L1546.54 270.22L1547.13 270.22L1547.71 270.23L1548.30 270.23L1548.89 270.24L1549.48 270.24L1550.06 270.25L1550.65 270.25L1551.24 270.26L1551.82 270.26L1552.41 270.26L1553.00 270.27L1553.59 270.27L1554.17 270.28L1554.76 270.28L1555.35 270.29L1555.93 270.29L1556.52 270.30L1557.11 270.30L1557.70 270.31L1558.28 270.31L1558.87 270.31L1559.46 270.32L1560.05 270.32L1560.63 270.33L1561.22 270.33L1561.81 270.34L1562.39 270.34L1562.98 270.34L1563.57 270.35L1564.16 270.35L1564.74 270.35L1565.33 270.36L1565.92 270.36L1566.50 270.37L1567.09 270.37L1567.68 270.37L1568.27 270.38L1568.85 270.38L1569.44 270.38L1570.03 270.39L1570.61 270.39L1571.20 270.39L1571.79 270.40L1572.38 270.40L1572.96 270.40L1573.55 270.41L1574.14 270.41L1574.72 270.41L1575.31 270.42L1575.90 270.42L1576.49 270.42L1577.07 270.43L1577.66 270.43L1578.25 270.43L1578.84 270.43L1579.42 270.44L1580.01 270.44L1580.60 270.44L1581.18 270.45L1581.77 270.45L1582.36 270.45L1582.95 270.45L1583.53 270.46L1584.12 270.46L1584.71 270.46L1585.29 270.47L1585.88 270.47L1586.47 270.47L1587.06 270.47L1587.64 270.48L1588.23 270.48L1588.82 270.48L1589.40 270.49L1589.99 270.49L1590.58 270.49L1591.17 270.49L1591.75 270.50L1592.34 270.50L1592.93 270.50L1593.52 270.51L1594.10 270.51L1594.69 270.51L1595.28 270.51L1595.86 270.52L1596.45 270.52L1597.04 270.52L1597.63 270.53L1598.21 270.53L1598.80 270.53L1599.39 270.54L1599.97 270.54L1600.56 270.54L1601.15 270.54L1601.74 270.55L1602.32 270.55L1602.91 270.55L1603.50 270.56L1604.08 270.56L1604.67 270.56L1605.26 270.57L1605.85 270.57L1606.43 270.57L1607.02 270.58L1607.61 270.58L1608.20 270.58L1608.78 270.59L1609.37 270.59L1609.96 270.60L1610.54 270.60L1611.13 270.60L1611.72 270.61L1612.31 270.61L1612.89 270.61L1613.48 270.62L1614.07 270.62L1614.65 270.63L1615.24 270.63L1615.83 270.63L1616.42 270.64L1617.00 270.64L1617.59 270.65L1618.18 270.65L1618.76 270.66L1619.35 270.66L1619.94 270.67L1620.53 270.67L1621.11 270.67L1621.70 270.68L1622.29 270.68L1622.88 270.69L1623.46 270.69L1624.05 270.70L1624.64 270.70L1625.22 270.71L1625.81 270.72L1626.40 270.72L1626.99 270.73L1627.57 270.73L1628.16 270.74L1628.75 270.74L1629.33 270.75L1629.92 270.75L1630.51 270.76L1631.10 270.77L1631.68 270.77L1632.27 270.78L1632.86 270.78L1633.44 270.79L1634.03 270.79L1634.62 270.80L1635.21 270.81L1635.79 270.81L1636.38 270.82L1636.97 270.82L1637.56 270.83L1638.14 270.84L1638.73 270.84L1639.32 270.85L1639.90 270.86L1640.49 270.86L1641.08 270.87L1641.67 270.87L1642.25 270.88L1642.84 270.89L1643.43 270.89L1644.01 270.90L1644.60 270.90L1645.19 270.91L1645.78 270.92L1646.36 270.92L1646.95 270.93L1647.54 270.94L1648.12 270.94L1648.71 270.95L1649.30 270.95L1649.89 270.96L1650.47 270.97L1651.06 270.97L1651.65 270.98L1652.23 270.99L1652.82 270.99L1653.41 271.00L1654.00 271.00L1654.58 271.01L1655.17 271.02L1655.76 271.02L1656.35 271.03L1656.93 271.03L1657.52 271.04L1658.11 271.05L1658.69 271.05L1659.28 271.06L1659.87 271.06L1660.46 271.07L1661.04 271.07L1661.63 271.08L1662.22 271.08L1662.80 271.09L1663.39 271.10L1663.98 271.10L1664.57 271.11L1665.15 271.11L1665.74 271.12L1666.33 271.12L1666.91 271.13L1667.50 271.13L1668.09 271.14L1668.68 271.14L1669.26 271.15L1669.85 271.15L1670.44 271.16L1671.03 271.16L1671.61 271.17L1672.20 271.17L1672.79 271.18L1673.37 271.18L1673.96 271.18L1674.55 271.19L1675.14 271.19L1675.72 271.20L1676.31 271.20L1676.90 271.20L1677.48 271.21L1678.07 271.21L1678.66 271.22L1679.25 271.22L1679.83 271.22L1680.42 271.23L1681.01 271.23L1681.59 271.24L1682.18 271.24L1682.77 271.25L1683.36 271.25L1683.94 271.25L1684.53 271.26L1685.12 271.26L1685.71 271.26L1686.29 271.27L1686.88 271.27L1687.47 271.28L1688.05 271.28L1688.64 271.28L1689.23 271.29L1689.82 271.29L1690.40 271.30L1690.99 271.30L1691.58 271.30L1692.16 271.31L1692.75 271.31L1693.34 271.31L1693.93 271.32L1694.51 271.32L1695.10 271.33L1695.69 271.33L1696.27 271.33L1696.86 271.34L1697.45 271.34L1698.04 271.34L1698.62 271.35L1699.21 271.35L1699.80 271.35L1700.39 271.36L1700.97 271.36L1701.56 271.36L1702.15 271.37L1702.73 271.37L1703.32 271.38L1703.91 271.38L1704.50 271.38L1705.08 271.39L1705.67 271.39L1706.26 271.39L1706.84 271.40L1707.43 271.40L1708.02 271.40L1708.61 271.40L1709.19 271.41L1709.78 271.41L1710.37 271.41L1710.95 271.42L1711.54 271.42L1712.13 271.42L1712.72 271.43L1713.30 271.43L1713.89 271.43L1714.48 271.44L1715.07 271.44L1715.65 271.44L1716.24 271.45L1716.83 271.45L1717.41 271.45L1718.00 271.45L1718.59 271.46L1719.18 271.46L1719.76 271.46L1720.35 271.47L1720.94 271.47L1721.52 271.47L1722.11 271.47L1722.70 271.48L1723.29 271.48L1723.87 271.48L1724.46 271.48L1725.05 271.49L1725.63 271.49L1726.22 271.49L1726.81 271.49L1727.40 271.50L1727.98 271.50L1728.57 271.50L1729.16 271.50L1729.74 271.51L1730.33 271.51L1730.92 271.51L1731.51 271.51L1732.09 271.52L1732.68 271.52L1733.27 271.52" stroke="#bd9f4a" stroke-width="3.20" fill="none" stroke-linejoin="round" stroke-dasharray="3.2 5.3" clip-path="url(#clipB)"/>
<rect x="993.40" y="61.00" width="775.10" height="293.60" fill="none" stroke="#000" stroke-width="1.70" stroke-linejoin="miter"/>
<path d="M1028.63 354.60v7.50M1146.07 354.60v7.50M1263.51 354.60v7.50M1380.95 354.60v7.50M1498.39 354.60v7.50M1615.83 354.60v7.50M1733.27 354.60v7.50M993.40 106.65h-7.50M993.40 162.05h-7.50M993.40 217.45h-7.50M993.40 272.85h-7.50M993.40 328.25h-7.50" stroke="#000" stroke-width="1.70" fill="none"/>
<g font-family="'Liberation Serif', 'DejaVu Serif', serif" font-size="16.3" letter-spacing="0.55" fill="#000"><text x="1028.63" y="380.00" text-anchor="middle">0</text><text x="1146.07" y="380.00" text-anchor="middle">100</text><text x="1263.51" y="380.00" text-anchor="middle">200</text><text x="1380.95" y="380.00" text-anchor="middle">300</text><text x="1498.39" y="380.00" text-anchor="middle">400</text><text x="1615.83" y="380.00" text-anchor="middle">500</text><text x="1733.27" y="380.00" text-anchor="middle">600</text><text x="977.90" y="111.65" text-anchor="end">150</text><text x="977.90" y="167.05" text-anchor="end">100</text><text x="977.90" y="222.45" text-anchor="end">50</text><text x="977.90" y="277.85" text-anchor="end">0</text><text x="977.90" y="333.25" text-anchor="end"><tspan font-size="20" dy="2.2">−</tspan><tspan dx="0.8" dy="-2.2">50</tspan></text></g>
<text x="1380.95" y="403.70" text-anchor="middle" font-family="'Liberation Sans', 'DejaVu Sans', sans-serif" font-size="17.2" fill="#000" textLength="60.5" lengthAdjust="spacing">Time [s]</text>
<text transform="translate(932.60 207.80) rotate(-90)" text-anchor="middle" font-family="'Liberation Sans', 'DejaVu Sans', sans-serif" font-size="17.2" fill="#000" textLength="175.5" lengthAdjust="spacing">Attitude Error <tspan font-family="'Liberation Serif', 'DejaVu Serif', serif" font-style="italic" font-size="18.5">σ</tspan><tspan font-family="'Liberation Serif', 'DejaVu Serif', serif" font-style="italic" font-size="14.5" dy="3.6" dx="0.8" letter-spacing="1.6">B/N</tspan><tspan font-family="'Liberation Serif', 'DejaVu Serif', serif" font-size="19.5" dy="-3.6" dx="1">[</tspan><tspan font-family="'DejaVu Sans', sans-serif" font-size="11" dy="-0.3" dx="-1.2">○</tspan><tspan font-family="'Liberation Serif', 'DejaVu Serif', serif" font-size="19.5" dy="0.3" dx="-1.2">]</tspan></text>
<rect x="1679.90" y="269.90" width="79.30" height="75.80" rx="3.8" ry="3.8" fill="#fff" fill-opacity="0.8" stroke="#cccccc" stroke-opacity="0.9" stroke-width="1.7"/>
<path d="M1686.30 282.40H1720.60" stroke="#1d6874" stroke-width="3.20" stroke-linecap="square"/>
<text x="1734.50" y="288.00" font-family="'Liberation Serif', 'DejaVu Serif', serif" fill="#000"><tspan font-style="italic" font-size="17.5">σ</tspan><tspan font-size="14.3" dy="2.6" dx="0.6">0</tspan></text>
<path d="M1686.30 306.50H1720.60" stroke="#529d3f" stroke-width="3.20" stroke-dasharray="11.9 5.2"/>
<text x="1734.50" y="312.10" font-family="'Liberation Serif', 'DejaVu Serif', serif" fill="#000"><tspan font-style="italic" font-size="17.5">σ</tspan><tspan font-size="14.3" dy="2.6" dx="0.6">1</tspan></text>
<path d="M1686.30 330.20H1720.60" stroke="#bd9f4a" stroke-width="3.20" stroke-dasharray="3.2 5.3"/>
<text x="1734.50" y="335.80" font-family="'Liberation Serif', 'DejaVu Serif', serif" fill="#000"><tspan font-style="italic" font-size="17.5">σ</tspan><tspan font-size="14.3" dy="2.6" dx="0.6">2</tspan></text>
<text x="906.60" y="30.00" font-family="'Liberation Sans', 'DejaVu Sans', sans-serif" font-weight="bold" font-size="37" fill="#000">B</text>
<clipPath id="clipC"><rect x="92.90" y="491.60" width="764.10" height="293.60"/></clipPath>
<path d="M127.63 491.60V785.20M243.40 491.60V785.20M359.18 491.60V785.20M474.95 491.60V785.20M590.72 491.60V785.20M706.50 491.60V785.20M822.27 491.60V785.20M92.90 504.00H857.00M92.90 538.95H857.00M92.90 573.90H857.00M92.90 608.85H857.00M92.90 643.80H857.00M92.90 678.75H857.00M92.90 713.70H857.00M92.90 748.65H857.00M92.90 783.60H857.00" stroke="#b0b0b0" stroke-width="1.30" fill="none"/>
<path d="M127.63 643.80L173.94 643.80L185.52 581.76L197.10 573.38L208.67 652.36L220.25 638.56L231.83 581.76L243.40 577.74L254.98 624.58L266.56 628.07L278.14 593.30L289.71 649.04L301.29 700.77L312.87 642.05L324.45 610.60L336.02 656.38L347.60 666.52L359.18 634.19L370.75 626.85L382.33 650.44L393.91 651.84L405.49 639.43L417.06 634.19L428.64 643.10L440.22 644.32L451.80 643.80L463.37 644.50L474.95 646.25L486.53 647.47L498.10 642.40L509.68 645.72L521.26 637.16L532.84 639.43L544.41 641.35L555.99 645.20L567.57 640.83L579.15 643.80L590.72 650.44L602.30 646.07L613.88 635.76L625.45 649.74L637.03 639.43L648.61 637.16L660.19 640.83L671.76 646.77L683.34 644.50L694.92 644.50L706.50 643.80L718.07 643.10L729.65 643.10L741.23 640.83L752.80 643.10L764.38 638.56L775.96 649.04L787.54 639.43L799.11 647.47L810.69 638.56L822.27 653.41" stroke="#1d6874" stroke-width="3.20" fill="none" stroke-linejoin="round" stroke-linecap="square" clip-path="url(#clipC)"/>
<path d="M127.63 643.80L173.94 643.80L185.52 651.31L197.10 573.90L208.67 532.48L220.25 636.81L231.83 738.16L243.40 769.97L254.98 692.73L266.56 591.38L278.14 607.10L289.71 697.97L301.29 675.25L312.87 602.73L324.45 642.05L336.02 663.02L347.60 642.75L359.18 624.23L370.75 636.81L382.33 653.41L393.91 643.10L405.49 636.46L417.06 647.29L428.64 655.68L440.22 647.29L451.80 639.43L463.37 637.86L474.95 637.86L486.53 639.43L498.10 640.30L509.68 640.30L521.26 640.30L532.84 649.04L544.41 650.09L555.99 646.77L567.57 643.28L579.15 643.10L590.72 640.30L602.30 635.06L613.88 640.30L625.45 644.50L637.03 640.83L648.61 646.77L660.19 649.04L671.76 646.07L683.34 642.40L694.92 640.30L706.50 640.83L718.07 643.10L729.65 643.10L741.23 641.35L752.80 642.40L764.38 645.20L775.96 646.77L787.54 643.10L799.11 645.20L810.69 644.50L822.27 643.80" stroke="#529d3f" stroke-width="3.20" fill="none" stroke-linejoin="round" stroke-dasharray="11.9 5.2" clip-path="url(#clipC)"/>
<path d="M127.63 643.80L185.52 643.80L197.10 649.92L208.67 573.90L220.25 506.27L231.83 533.71L243.40 650.79L254.98 711.95L266.56 670.01L271.19 636.81L278.14 586.13L289.71 579.49L301.29 647.29L312.87 643.80L324.45 617.59L336.02 623.70L347.60 643.80L354.55 644.50L360.33 640.83L367.28 635.06L374.23 632.79L381.17 635.76L388.12 642.40L392.75 648.17L399.70 652.54L406.64 654.11L414.75 649.74L421.69 646.07L429.80 645.20L437.90 649.74L446.01 648.17L454.11 644.50L461.06 640.13L469.16 636.46L477.27 634.19L485.37 632.79L493.47 635.06L500.42 639.43L507.37 644.50L514.31 646.77L522.42 644.50L530.52 643.10L538.62 646.77L546.73 650.44L554.83 652.54L561.78 649.04L568.73 644.50L576.83 641.53L584.93 642.40L594.20 641.53L602.30 638.56L609.25 634.19L616.19 634.19L620.82 640.30L626.61 646.07L634.72 646.07L642.82 643.80L650.92 643.80L659.03 647.29L667.13 647.29L676.39 646.07L684.50 643.80L692.60 645.55L700.71 643.80L707.65 638.56L715.76 637.16L723.86 640.30L731.97 643.80L740.07 644.50L748.17 643.80L756.28 643.10L764.38 645.20L772.49 647.29L780.59 646.77L788.69 644.50L797.96 644.50L806.06 642.40L814.16 641.53L822.27 643.80" stroke="#bd9f4a" stroke-width="3.20" fill="none" stroke-linejoin="round" stroke-dasharray="3.2 5.3" clip-path="url(#clipC)"/>
<rect x="92.90" y="491.60" width="764.10" height="293.60" fill="none" stroke="#000" stroke-width="1.70" stroke-linejoin="miter"/>
<path d="M127.63 785.20v7.50M243.40 785.20v7.50M359.18 785.20v7.50M474.95 785.20v7.50M590.72 785.20v7.50M706.50 785.20v7.50M822.27 785.20v7.50M92.90 504.00h-7.50M92.90 538.95h-7.50M92.90 573.90h-7.50M92.90 608.85h-7.50M92.90 643.80h-7.50M92.90 678.75h-7.50M92.90 713.70h-7.50M92.90 748.65h-7.50M92.90 783.60h-7.50" stroke="#000" stroke-width="1.70" fill="none"/>
<g font-family="'Liberation Serif', 'DejaVu Serif', serif" font-size="16.3" letter-spacing="0.55" fill="#000"><text x="127.63" y="810.60" text-anchor="middle">0</text><text x="243.40" y="810.60" text-anchor="middle">100</text><text x="359.18" y="810.60" text-anchor="middle">200</text><text x="474.95" y="810.60" text-anchor="middle">300</text><text x="590.72" y="810.60" text-anchor="middle">400</text><text x="706.50" y="810.60" text-anchor="middle">500</text><text x="822.27" y="810.60" text-anchor="middle">600</text><text x="77.40" y="509.00" text-anchor="end">0.08</text><text x="77.40" y="543.95" text-anchor="end">0.06</text><text x="77.40" y="578.90" text-anchor="end">0.04</text><text x="77.40" y="613.85" text-anchor="end">0.02</text><text x="77.40" y="648.80" text-anchor="end">0.00</text><text x="77.40" y="683.75" text-anchor="end"><tspan font-size="20" dy="2.2">−</tspan><tspan dx="0.8" dy="-2.2">0.02</tspan></text><text x="77.40" y="718.70" text-anchor="end"><tspan font-size="20" dy="2.2">−</tspan><tspan dx="0.8" dy="-2.2">0.04</tspan></text><text x="77.40" y="753.65" text-anchor="end"><tspan font-size="20" dy="2.2">−</tspan><tspan dx="0.8" dy="-2.2">0.06</tspan></text><text x="77.40" y="788.60" text-anchor="end"><tspan font-size="20" dy="2.2">−</tspan><tspan dx="0.8" dy="-2.2">0.08</tspan></text></g>
<text x="474.95" y="834.30" text-anchor="middle" font-family="'Liberation Sans', 'DejaVu Sans', sans-serif" font-size="17.2" fill="#000" textLength="60.5" lengthAdjust="spacing">Time [s]</text>
<text transform="translate(20.70 638.40) rotate(-90)" text-anchor="middle" font-family="'Liberation Sans', 'DejaVu Sans', sans-serif" font-size="17.2" fill="#000" textLength="206.8" lengthAdjust="spacing">Rate Tracking Error [rad/s]</text>
<rect x="737.00" y="694.00" width="111.50" height="82.30" rx="3.8" ry="3.8" fill="#fff" fill-opacity="0.8" stroke="#cccccc" stroke-opacity="0.9" stroke-width="1.7"/>
<path d="M743.40 706.80H777.70" stroke="#1d6874" stroke-width="3.20" stroke-linecap="square"/>
<text x="792.80" y="712.20" font-family="'Liberation Serif', 'DejaVu Serif', serif" fill="#000"><tspan font-style="italic" font-size="16.5">ω</tspan><tspan font-style="italic" font-size="14" dy="3.9" letter-spacing="1.1">BN</tspan><tspan font-size="14" letter-spacing="1.0">,0</tspan></text>
<path d="M743.40 733.10H777.70" stroke="#529d3f" stroke-width="3.20" stroke-dasharray="11.9 5.2"/>
<text x="792.80" y="738.50" font-family="'Liberation Serif', 'DejaVu Serif', serif" fill="#000"><tspan font-style="italic" font-size="16.5">ω</tspan><tspan font-style="italic" font-size="14" dy="3.9" letter-spacing="1.1">BN</tspan><tspan font-size="14" letter-spacing="1.0">,1</tspan></text>
<path d="M743.40 758.60H777.70" stroke="#bd9f4a" stroke-width="3.20" stroke-dasharray="3.2 5.3"/>
<text x="792.80" y="764.00" font-family="'Liberation Serif', 'DejaVu Serif', serif" fill="#000"><tspan font-style="italic" font-size="16.5">ω</tspan><tspan font-style="italic" font-size="14" dy="3.9" letter-spacing="1.1">BN</tspan><tspan font-size="14" letter-spacing="1.0">,2</tspan></text>
<text x="14.50" y="455.80" font-family="'Liberation Sans', 'DejaVu Sans', sans-serif" font-weight="bold" font-size="37" fill="#000">C</text>
<clipPath id="clipD"><rect x="998.90" y="491.50" width="764.40" height="293.70"/></clipPath>
<path d="M1033.65 491.50V785.20M1149.46 491.50V785.20M1265.28 491.50V785.20M1381.10 491.50V785.20M1496.92 491.50V785.20M1612.74 491.50V785.20M1728.55 491.50V785.20M998.90 533.80H1763.30M998.90 584.60H1763.30M998.90 635.40H1763.30M998.90 686.20H1763.30M998.90 737.00H1763.30" stroke="#b0b0b0" stroke-width="1.30" fill="none"/>
<path d="M1033.65 584.60L1034.22 588.31L1034.80 592.66L1035.38 597.55L1035.96 602.89L1036.54 609.17L1037.12 616.44L1037.70 623.92L1038.28 630.83L1038.86 636.95L1039.44 642.74L1040.02 648.42L1040.59 654.20L1041.17 660.35L1041.75 666.70L1042.33 672.76L1042.91 678.07L1043.49 682.75L1044.07 687.17L1044.65 691.31L1045.23 695.10L1045.81 698.49L1046.39 701.44L1046.96 704.05L1047.54 706.47L1048.12 708.71L1048.70 710.78L1049.28 712.70L1049.86 714.49L1050.44 716.15L1051.02 717.70L1051.60 719.18L1052.18 720.62L1052.76 722.01L1053.33 723.34L1053.91 724.60L1054.49 725.77L1055.07 726.84L1055.65 727.81L1056.23 728.66L1056.81 729.38L1057.39 729.99L1057.97 730.53L1058.55 731.01L1059.13 731.45L1059.70 731.84L1060.28 732.21L1060.86 732.56L1061.44 732.90L1062.02 733.25L1062.60 733.62L1063.18 734.02L1063.76 734.45L1064.34 734.93L1064.92 735.48L1065.50 736.07L1066.07 736.70L1066.65 737.37L1067.23 738.08L1067.81 738.85L1068.39 739.67L1068.97 740.55L1069.55 741.50L1070.13 742.51L1070.71 743.60L1071.29 744.90L1071.87 746.47L1072.44 748.25L1073.02 750.17L1073.60 752.16L1074.18 754.14L1074.76 756.06L1075.34 757.83L1075.92 759.66L1076.50 761.70L1077.08 763.81L1077.66 765.86L1078.24 767.69L1078.81 769.17L1079.39 770.17L1079.97 770.53L1080.55 770.49L1081.13 770.37L1081.71 770.19L1082.29 769.96L1082.87 769.71L1083.45 769.44L1084.03 769.17L1084.61 768.91L1085.18 768.68L1085.76 768.50L1086.34 768.35L1086.92 768.23L1087.50 768.12L1088.08 768.03L1088.66 767.94L1089.24 767.85L1089.82 767.75L1090.40 767.64L1090.98 767.52L1091.55 767.37L1092.13 767.19L1092.71 766.97L1093.29 766.58L1093.87 765.92L1094.45 765.01L1095.03 763.90L1095.61 762.64L1096.19 761.25L1096.77 759.78L1097.35 758.27L1097.92 756.76L1098.50 755.29L1099.08 753.74L1099.66 752.01L1100.24 750.13L1100.82 748.15L1101.40 746.11L1101.98 744.06L1102.56 742.02L1103.14 740.06L1103.72 738.20L1104.29 736.49L1104.87 734.86L1105.45 733.23L1106.03 731.61L1106.61 730.02L1107.19 728.48L1107.77 727.02L1108.35 725.65L1108.93 724.38L1109.51 723.25L1110.09 722.27L1110.66 721.42L1111.24 720.66L1111.82 719.97L1112.40 719.34L1112.98 718.74L1113.56 718.16L1114.14 717.59L1114.72 716.99L1115.30 716.35L1115.88 715.66L1116.46 714.94L1117.03 714.23L1117.61 713.50L1118.19 712.77L1118.77 712.03L1119.35 711.27L1119.93 710.48L1120.51 709.67L1121.09 708.82L1121.67 707.93L1122.25 706.99L1122.83 706.01L1123.40 704.97L1123.98 703.85L1124.56 702.68L1125.14 701.44L1125.72 700.14L1126.30 698.79L1126.88 697.39L1127.46 695.94L1128.04 694.45L1128.62 692.92L1129.20 691.35L1129.77 689.76L1130.35 688.07L1130.93 686.26L1131.51 684.35L1132.09 682.35L1132.67 680.29L1133.25 678.18L1133.83 676.06L1134.41 673.93L1134.99 671.83L1135.57 669.78L1136.14 667.78L1136.72 665.88L1137.30 664.03L1137.88 662.19L1138.46 660.37L1139.04 658.56L1139.62 656.77L1140.20 655.01L1140.78 653.27L1141.36 651.56L1141.94 649.88L1142.51 648.23L1143.09 646.62L1143.67 645.05L1144.25 643.54L1144.83 642.09L1145.41 640.69L1145.99 639.33L1146.57 637.99L1147.15 636.67L1147.73 635.35L1148.31 634.01L1148.88 632.65L1149.46 631.25L1150.04 629.80L1150.62 628.29L1151.20 626.71L1151.78 625.06L1152.36 623.37L1152.94 621.64L1153.52 619.89L1154.10 618.13L1154.68 616.33L1155.25 614.47L1155.83 612.57L1156.41 610.66L1156.99 608.76L1157.57 606.91L1158.15 605.11L1158.73 603.40L1159.31 601.75L1159.89 600.14L1160.47 598.58L1161.05 597.07L1161.62 595.62L1162.20 594.25L1162.78 592.96L1163.36 591.75L1163.94 590.58L1164.52 589.44L1165.10 588.30L1165.68 587.14L1166.26 585.94L1166.84 584.73L1167.42 583.52L1167.99 582.32L1168.57 581.15L1169.15 580.03L1169.73 578.93L1170.31 577.85L1170.89 576.79L1171.47 575.77L1172.05 574.81L1172.63 573.93L1173.21 573.10L1173.79 572.29L1174.36 571.51L1174.94 570.76L1175.52 570.06L1176.10 569.42L1176.68 568.84L1177.26 568.34L1177.84 567.88L1178.42 567.40L1179.00 566.94L1179.58 566.51L1180.16 566.11L1180.73 565.78L1181.31 565.52L1181.89 565.36L1182.47 565.30L1183.05 565.34L1183.63 565.45L1184.21 565.62L1184.79 565.84L1185.37 566.10L1185.95 566.39L1186.53 566.70L1187.10 567.01L1187.68 567.33L1188.26 567.67L1188.84 568.09L1189.42 568.56L1190.00 569.08L1190.58 569.63L1191.16 570.22L1191.74 570.83L1192.32 571.46L1192.90 572.08L1193.47 572.70L1194.05 573.31L1194.63 573.89L1195.21 574.44L1195.79 574.95L1196.37 575.43L1196.95 575.92L1197.53 576.40L1198.11 576.88L1198.69 577.36L1199.27 577.82L1199.84 578.28L1200.42 578.73L1201.00 579.16L1201.58 579.58L1202.16 579.97L1202.74 580.35L1203.32 580.71L1203.90 581.04L1204.48 581.37L1205.06 581.69L1205.64 582.02L1206.21 582.35L1206.79 582.66L1207.37 582.97L1207.95 583.26L1208.53 583.53L1209.11 583.78L1209.69 584.01L1210.27 584.21L1210.85 584.38L1211.43 584.51L1212.01 584.60L1212.58 584.67L1213.16 584.74L1213.74 584.80L1214.32 584.86L1214.90 584.91L1215.48 584.96L1216.06 585.00L1216.64 585.04L1217.22 585.07L1217.80 585.09L1218.38 585.10L1218.95 585.11L1219.53 585.09L1220.11 585.02L1220.69 584.92L1221.27 584.78L1221.85 584.61L1222.43 584.42L1223.01 584.20L1223.59 583.97L1224.17 583.73L1224.75 583.48L1225.32 583.23L1225.90 582.97L1226.48 582.73L1227.06 582.49L1227.64 582.26L1228.22 582.06L1228.80 581.86L1229.38 581.66L1229.96 581.46L1230.54 581.25L1231.12 581.04L1231.69 580.83L1232.27 580.62L1232.85 580.40L1233.43 580.19L1234.01 579.99L1234.59 579.78L1235.17 579.58L1235.75 579.38L1236.33 579.19L1236.91 579.01L1237.49 578.83L1238.06 578.66L1238.64 578.50L1239.22 578.35L1239.80 578.20L1240.38 578.04L1240.96 577.89L1241.54 577.75L1242.12 577.60L1242.70 577.46L1243.28 577.32L1243.86 577.18L1244.43 577.05L1245.01 576.92L1245.59 576.79L1246.17 576.67L1246.75 576.56L1247.33 576.44L1247.91 576.34L1248.49 576.24L1249.07 576.14L1249.65 576.05L1250.23 575.96L1250.80 575.88L1251.38 575.81L1251.96 575.73L1252.54 575.66L1253.12 575.59L1253.70 575.52L1254.28 575.46L1254.86 575.40L1255.44 575.33L1256.02 575.27L1256.60 575.22L1257.17 575.16L1257.75 575.10L1258.33 575.05L1258.91 575.00L1259.49 574.94L1260.07 574.89L1260.65 574.84L1261.23 574.79L1261.81 574.74L1262.39 574.69L1262.97 574.64L1263.54 574.59L1264.12 574.54L1264.70 574.49L1265.28 574.44L1265.86 574.39L1266.44 574.33L1267.02 574.27L1267.60 574.21L1268.18 574.15L1268.76 574.09L1269.34 574.03L1269.91 573.97L1270.49 573.91L1271.07 573.85L1271.65 573.79L1272.23 573.74L1272.81 573.68L1273.39 573.63L1273.97 573.59L1274.55 573.55L1275.13 573.51L1275.71 573.48L1276.28 573.46L1276.86 573.44L1277.44 573.43L1278.02 573.42L1278.60 573.43L1279.18 573.44L1279.76 573.45L1280.34 573.48L1280.92 573.50L1281.50 573.54L1282.08 573.57L1282.65 573.61L1283.23 573.66L1283.81 573.70L1284.39 573.75L1284.97 573.81L1285.55 573.86L1286.13 573.91L1286.71 573.97L1287.29 574.03L1287.87 574.08L1288.45 574.14L1289.02 574.19L1289.60 574.25L1290.18 574.30L1290.76 574.35L1291.34 574.40L1291.92 574.44L1292.50 574.48L1293.08 574.52L1293.66 574.56L1294.24 574.61L1294.82 574.65L1295.39 574.69L1295.97 574.73L1296.55 574.77L1297.13 574.81L1297.71 574.85L1298.29 574.89L1298.87 574.93L1299.45 574.97L1300.03 575.01L1300.61 575.05L1301.19 575.09L1301.76 575.14L1302.34 575.18L1302.92 575.22L1303.50 575.27L1304.08 575.31L1304.66 575.36L1305.24 575.41L1305.82 575.46L1306.40 575.51L1306.98 575.56L1307.56 575.61L1308.13 575.66L1308.71 575.72L1309.29 575.77L1309.87 575.83L1310.45 575.88L1311.03 575.94L1311.61 576.00L1312.19 576.06L1312.77 576.12L1313.35 576.18L1313.93 576.24L1314.50 576.30L1315.08 576.36L1315.66 576.42L1316.24 576.49L1316.82 576.55L1317.40 576.61L1317.98 576.67L1318.56 576.73L1319.14 576.80L1319.72 576.86L1320.30 576.92L1320.87 576.98L1321.45 577.04L1322.03 577.10L1322.61 577.16L1323.19 577.23L1323.77 577.29L1324.35 577.35L1324.93 577.42L1325.51 577.48L1326.09 577.54L1326.67 577.61L1327.24 577.67L1327.82 577.73L1328.40 577.80L1328.98 577.86L1329.56 577.93L1330.14 577.99L1330.72 578.06L1331.30 578.12L1331.88 578.18L1332.46 578.25L1333.04 578.31L1333.61 578.38L1334.19 578.44L1334.77 578.50L1335.35 578.57L1335.93 578.63L1336.51 578.70L1337.09 578.77L1337.67 578.83L1338.25 578.90L1338.83 578.97L1339.41 579.03L1339.98 579.10L1340.56 579.17L1341.14 579.24L1341.72 579.30L1342.30 579.37L1342.88 579.44L1343.46 579.50L1344.04 579.57L1344.62 579.63L1345.20 579.69L1345.78 579.75L1346.35 579.81L1346.93 579.87L1347.51 579.92L1348.09 579.98L1348.67 580.03L1349.25 580.08L1349.83 580.13L1350.41 580.18L1350.99 580.22L1351.57 580.27L1352.15 580.32L1352.72 580.36L1353.30 580.41L1353.88 580.45L1354.46 580.49L1355.04 580.54L1355.62 580.58L1356.20 580.62L1356.78 580.66L1357.36 580.70L1357.94 580.74L1358.52 580.78L1359.09 580.82L1359.67 580.86L1360.25 580.90L1360.83 580.93L1361.41 580.97L1361.99 581.01L1362.57 581.04L1363.15 581.08L1363.73 581.12L1364.31 581.15L1364.89 581.18L1365.46 581.22L1366.04 581.25L1366.62 581.28L1367.20 581.32L1367.78 581.35L1368.36 581.38L1368.94 581.41L1369.52 581.44L1370.10 581.47L1370.68 581.50L1371.26 581.53L1371.83 581.56L1372.41 581.59L1372.99 581.62L1373.57 581.65L1374.15 581.68L1374.73 581.71L1375.31 581.74L1375.89 581.77L1376.47 581.80L1377.05 581.83L1377.63 581.87L1378.20 581.90L1378.78 581.93L1379.36 581.96L1379.94 581.99L1380.52 582.03L1381.10 582.06L1381.68 582.09L1382.26 582.13L1382.84 582.16L1383.42 582.20L1384.00 582.23L1384.57 582.27L1385.15 582.30L1385.73 582.34L1386.31 582.38L1386.89 582.41L1387.47 582.45L1388.05 582.49L1388.63 582.52L1389.21 582.56L1389.79 582.60L1390.37 582.63L1390.94 582.67L1391.52 582.71L1392.10 582.75L1392.68 582.78L1393.26 582.82L1393.84 582.86L1394.42 582.90L1395.00 582.93L1395.58 582.97L1396.16 583.01L1396.74 583.05L1397.31 583.08L1397.89 583.12L1398.47 583.16L1399.05 583.19L1399.63 583.23L1400.21 583.27L1400.79 583.30L1401.37 583.34L1401.95 583.37L1402.53 583.41L1403.11 583.45L1403.68 583.48L1404.26 583.52L1404.84 583.55L1405.42 583.58L1406.00 583.62L1406.58 583.65L1407.16 583.69L1407.74 583.73L1408.32 583.77L1408.90 583.81L1409.48 583.85L1410.05 583.89L1410.63 583.93L1411.21 583.97L1411.79 584.01L1412.37 584.05L1412.95 584.09L1413.53 584.14L1414.11 584.18L1414.69 584.22L1415.27 584.26L1415.85 584.30L1416.42 584.35L1417.00 584.39L1417.58 584.43L1418.16 584.47L1418.74 584.51L1419.32 584.55L1419.90 584.59L1420.48 584.63L1421.06 584.66L1421.64 584.70L1422.22 584.73L1422.79 584.77L1423.37 584.80L1423.95 584.83L1424.53 584.86L1425.11 584.89L1425.69 584.92L1426.27 584.95L1426.85 584.97L1427.43 584.99L1428.01 585.01L1428.59 585.03L1429.16 585.05L1429.74 585.06L1430.32 585.08L1430.90 585.09L1431.48 585.10L1432.06 585.10L1432.64 585.11L1433.22 585.11L1433.80 585.11L1434.38 585.11L1434.96 585.11L1435.53 585.11L1436.11 585.11L1436.69 585.11L1437.27 585.11L1437.85 585.11L1438.43 585.11L1439.01 585.11L1439.59 585.11L1440.17 585.11L1440.75 585.11L1441.33 585.11L1441.90 585.11L1442.48 585.11L1443.06 585.11L1443.64 585.11L1444.22 585.11L1444.80 585.11L1445.38 585.11L1445.96 585.11L1446.54 585.11L1447.12 585.11L1447.70 585.11L1448.27 585.11L1448.85 585.11L1449.43 585.11L1450.01 585.11L1450.59 585.11L1451.17 585.11L1451.75 585.11L1452.33 585.11L1452.91 585.11L1453.49 585.11L1454.07 585.11L1454.64 585.11L1455.22 585.11L1455.80 585.11L1456.38 585.11L1456.96 585.11L1457.54 585.11L1458.12 585.11L1458.70 585.11L1459.28 585.11L1459.86 585.11L1460.44 585.11L1461.01 585.11L1461.59 585.11L1462.17 585.11L1462.75 585.11L1463.33 585.11L1463.91 585.11L1464.49 585.11L1465.07 585.12L1465.65 585.12L1466.23 585.12L1466.81 585.13L1467.38 585.13L1467.96 585.14L1468.54 585.15L1469.12 585.15L1469.70 585.16L1470.28 585.17L1470.86 585.17L1471.44 585.18L1472.02 585.19L1472.60 585.20L1473.18 585.21L1473.75 585.22L1474.33 585.23L1474.91 585.24L1475.49 585.25L1476.07 585.26L1476.65 585.27L1477.23 585.28L1477.81 585.29L1478.39 585.30L1478.97 585.32L1479.55 585.33L1480.12 585.34L1480.70 585.35L1481.28 585.36L1481.86 585.37L1482.44 585.39L1483.02 585.40L1483.60 585.41L1484.18 585.42L1484.76 585.43L1485.34 585.44L1485.92 585.45L1486.49 585.46L1487.07 585.47L1487.65 585.48L1488.23 585.49L1488.81 585.50L1489.39 585.51L1489.97 585.52L1490.55 585.53L1491.13 585.54L1491.71 585.55L1492.29 585.56L1492.86 585.56L1493.44 585.57L1494.02 585.58L1494.60 585.58L1495.18 585.59L1495.76 585.60L1496.34 585.60L1496.92 585.60L1497.50 585.61L1498.08 585.61L1498.66 585.61L1499.23 585.61L1499.81 585.62L1500.39 585.62L1500.97 585.62L1501.55 585.62L1502.13 585.61L1502.71 585.61L1503.29 585.61L1503.87 585.61L1504.45 585.61L1505.03 585.61L1505.60 585.61L1506.18 585.60L1506.76 585.60L1507.34 585.60L1507.92 585.60L1508.50 585.59L1509.08 585.59L1509.66 585.59L1510.24 585.59L1510.82 585.58L1511.40 585.58L1511.97 585.57L1512.55 585.57L1513.13 585.57L1513.71 585.56L1514.29 585.56L1514.87 585.55L1515.45 585.55L1516.03 585.54L1516.61 585.54L1517.19 585.53L1517.77 585.53L1518.34 585.52L1518.92 585.52L1519.50 585.51L1520.08 585.51L1520.66 585.50L1521.24 585.49L1521.82 585.49L1522.40 585.48L1522.98 585.48L1523.56 585.47L1524.14 585.46L1524.71 585.46L1525.29 585.45L1525.87 585.44L1526.45 585.44L1527.03 585.43L1527.61 585.42L1528.19 585.42L1528.77 585.41L1529.35 585.40L1529.93 585.40L1530.51 585.39L1531.08 585.38L1531.66 585.37L1532.24 585.37L1532.82 585.36L1533.40 585.35L1533.98 585.35L1534.56 585.34L1535.14 585.33L1535.72 585.32L1536.30 585.32L1536.88 585.31L1537.45 585.30L1538.03 585.30L1538.61 585.29L1539.19 585.28L1539.77 585.27L1540.35 585.27L1540.93 585.26L1541.51 585.25L1542.09 585.25L1542.67 585.24L1543.25 585.23L1543.82 585.23L1544.40 585.22L1544.98 585.21L1545.56 585.20L1546.14 585.20L1546.72 585.19L1547.30 585.19L1547.88 585.18L1548.46 585.17L1549.04 585.17L1549.62 585.16L1550.19 585.15L1550.77 585.15L1551.35 585.14L1551.93 585.14L1552.51 585.13L1553.09 585.12L1553.67 585.12L1554.25 585.11L1554.83 585.11L1555.41 585.10L1555.99 585.10L1556.56 585.09L1557.14 585.09L1557.72 585.08L1558.30 585.07L1558.88 585.07L1559.46 585.06L1560.04 585.06L1560.62 585.05L1561.20 585.05L1561.78 585.04L1562.36 585.03L1562.93 585.03L1563.51 585.02L1564.09 585.01L1564.67 585.01L1565.25 585.00L1565.83 584.99L1566.41 584.99L1566.99 584.98L1567.57 584.97L1568.15 584.97L1568.73 584.96L1569.30 584.95L1569.88 584.95L1570.46 584.94L1571.04 584.93L1571.62 584.93L1572.20 584.92L1572.78 584.91L1573.36 584.91L1573.94 584.90L1574.52 584.89L1575.10 584.89L1575.67 584.88L1576.25 584.87L1576.83 584.87L1577.41 584.86L1577.99 584.85L1578.57 584.85L1579.15 584.84L1579.73 584.83L1580.31 584.83L1580.89 584.82L1581.47 584.81L1582.04 584.81L1582.62 584.80L1583.20 584.79L1583.78 584.79L1584.36 584.78L1584.94 584.78L1585.52 584.77L1586.10 584.76L1586.68 584.76L1587.26 584.75L1587.84 584.75L1588.41 584.74L1588.99 584.73L1589.57 584.73L1590.15 584.72L1590.73 584.72L1591.31 584.71L1591.89 584.71L1592.47 584.70L1593.05 584.70L1593.63 584.69L1594.21 584.69L1594.78 584.68L1595.36 584.68L1595.94 584.67L1596.52 584.67L1597.10 584.66L1597.68 584.66L1598.26 584.65L1598.84 584.65L1599.42 584.65L1600.00 584.64L1600.58 584.64L1601.15 584.64L1601.73 584.63L1602.31 584.63L1602.89 584.63L1603.47 584.62L1604.05 584.62L1604.63 584.62L1605.21 584.62L1605.79 584.61L1606.37 584.61L1606.95 584.61L1607.52 584.61L1608.10 584.61L1608.68 584.60L1609.26 584.60L1609.84 584.60L1610.42 584.60L1611.00 584.60L1611.58 584.60L1612.16 584.60L1612.74 584.60L1613.32 584.60L1613.89 584.60L1614.47 584.60L1615.05 584.60L1615.63 584.60L1616.21 584.60L1616.79 584.60L1617.37 584.60L1617.95 584.60L1618.53 584.60L1619.11 584.60L1619.69 584.60L1620.26 584.60L1620.84 584.60L1621.42 584.60L1622.00 584.60L1622.58 584.60L1623.16 584.60L1623.74 584.60L1624.32 584.60L1624.90 584.60L1625.48 584.60L1626.06 584.60L1626.63 584.60L1627.21 584.60L1627.79 584.60L1628.37 584.60L1628.95 584.60L1629.53 584.60L1630.11 584.60L1630.69 584.60L1631.27 584.60L1631.85 584.60L1632.43 584.60L1633.00 584.60L1633.58 584.60L1634.16 584.60L1634.74 584.60L1635.32 584.60L1635.90 584.60L1636.48 584.60L1637.06 584.60L1637.64 584.60L1638.22 584.60L1638.80 584.60L1639.37 584.60L1639.95 584.60L1640.53 584.60L1641.11 584.60L1641.69 584.60L1642.27 584.60L1642.85 584.60L1643.43 584.60L1644.01 584.60L1644.59 584.60L1645.17 584.60L1645.74 584.60L1646.32 584.60L1646.90 584.60L1647.48 584.60L1648.06 584.60L1648.64 584.60L1649.22 584.60L1649.80 584.60L1650.38 584.60L1650.96 584.60L1651.54 584.60L1652.11 584.60L1652.69 584.60L1653.27 584.60L1653.85 584.60L1654.43 584.60L1655.01 584.60L1655.59 584.60L1656.17 584.60L1656.75 584.60L1657.33 584.60L1657.91 584.60L1658.48 584.60L1659.06 584.60L1659.64 584.60L1660.22 584.60L1660.80 584.60L1661.38 584.60L1661.96 584.60L1662.54 584.60L1663.12 584.60L1663.70 584.60L1664.28 584.60L1664.85 584.60L1665.43 584.60L1666.01 584.60L1666.59 584.60L1667.17 584.60L1667.75 584.60L1668.33 584.60L1668.91 584.60L1669.49 584.60L1670.07 584.60L1670.65 584.60L1671.22 584.60L1671.80 584.60L1672.38 584.60L1672.96 584.60L1673.54 584.60L1674.12 584.60L1674.70 584.60L1675.28 584.60L1675.86 584.60L1676.44 584.60L1677.02 584.60L1677.59 584.60L1678.17 584.60L1678.75 584.60L1679.33 584.60L1679.91 584.60L1680.49 584.60L1681.07 584.60L1681.65 584.60L1682.23 584.60L1682.81 584.60L1683.39 584.60L1683.96 584.60L1684.54 584.60L1685.12 584.60L1685.70 584.60L1686.28 584.60L1686.86 584.60L1687.44 584.60L1688.02 584.60L1688.60 584.60L1689.18 584.60L1689.76 584.60L1690.33 584.60L1690.91 584.60L1691.49 584.60L1692.07 584.60L1692.65 584.60L1693.23 584.60L1693.81 584.60L1694.39 584.60L1694.97 584.60L1695.55 584.60L1696.13 584.60L1696.70 584.60L1697.28 584.60L1697.86 584.60L1698.44 584.60L1699.02 584.60L1699.60 584.60L1700.18 584.60L1700.76 584.60L1701.34 584.60L1701.92 584.60L1702.50 584.60L1703.07 584.60L1703.65 584.60L1704.23 584.60L1704.81 584.60L1705.39 584.60L1705.97 584.60L1706.55 584.60L1707.13 584.60L1707.71 584.60L1708.29 584.60L1708.87 584.60L1709.44 584.60L1710.02 584.60L1710.60 584.60L1711.18 584.60L1711.76 584.60L1712.34 584.60L1712.92 584.60L1713.50 584.60L1714.08 584.60L1714.66 584.60L1715.24 584.60L1715.81 584.60L1716.39 584.60L1716.97 584.60L1717.55 584.60L1718.13 584.60L1718.71 584.60L1719.29 584.60L1719.87 584.60L1720.45 584.60L1721.03 584.60L1721.61 584.60L1722.18 584.60L1722.76 584.60L1723.34 584.60L1723.92 584.60L1724.50 584.60L1725.08 584.60L1725.66 584.60L1726.24 584.60L1726.82 584.60L1727.40 584.60L1727.98 584.60L1728.55 584.60" stroke="#1d6874" stroke-width="3.20" fill="none" stroke-linejoin="round" stroke-linecap="square" clip-path="url(#clipD)"/>
<path d="M1033.65 584.60L1034.22 586.27L1034.80 588.03L1035.38 589.89L1035.96 591.83L1036.54 593.85L1037.12 595.95L1037.70 598.11L1038.28 600.35L1038.86 602.73L1039.44 605.29L1040.02 608.00L1040.59 610.78L1041.17 613.60L1041.75 616.39L1042.33 619.10L1042.91 621.68L1043.49 624.15L1044.07 626.55L1044.65 628.91L1045.23 631.23L1045.81 633.54L1046.39 635.84L1046.96 638.15L1047.54 640.48L1048.12 642.80L1048.70 645.08L1049.28 647.35L1049.86 649.62L1050.44 651.93L1051.02 654.29L1051.60 656.73L1052.18 659.28L1052.76 662.05L1053.33 665.09L1053.91 668.29L1054.49 671.52L1055.07 674.69L1055.65 677.67L1056.23 680.36L1056.81 682.64L1057.39 684.65L1057.97 686.58L1058.55 688.41L1059.13 690.14L1059.70 691.73L1060.28 693.19L1060.86 694.48L1061.44 695.60L1061.91 696.36L1062.02 696.53L1062.60 697.40L1063.18 698.26L1063.76 699.09L1064.34 699.88L1064.92 700.62L1065.50 701.31L1066.07 701.92L1066.65 702.45L1067.23 702.88L1067.81 703.20L1068.39 703.40L1068.97 703.47L1069.55 703.38L1070.13 703.10L1070.71 702.67L1071.29 702.09L1071.87 701.39L1072.44 700.57L1073.02 699.67L1073.60 698.69L1074.18 697.65L1074.76 696.58L1074.88 696.36L1075.34 695.35L1075.92 693.73L1076.50 691.76L1077.08 689.51L1077.66 687.01L1078.24 684.34L1078.81 681.53L1079.39 678.65L1079.51 678.07L1079.97 675.51L1080.55 671.75L1081.13 667.62L1081.71 663.37L1082.29 659.26L1082.87 655.52L1083.10 654.20L1083.45 652.26L1084.03 648.97L1084.61 645.77L1085.18 642.84L1085.76 640.34L1086.34 638.47L1086.57 637.94L1086.92 637.25L1087.50 636.16L1088.08 635.18L1088.66 634.37L1089.24 633.77L1089.82 633.43L1090.16 633.37L1090.40 633.43L1090.98 634.06L1091.55 635.25L1092.13 636.84L1092.71 638.69L1093.29 640.64L1093.87 642.53L1094.45 644.21L1094.80 645.05L1095.03 645.57L1095.61 646.97L1096.19 648.45L1096.77 649.95L1097.35 651.43L1097.92 652.83L1098.50 654.09L1099.08 655.17L1099.66 656.00L1100.24 656.54L1100.82 656.74L1101.40 656.70L1101.98 656.61L1102.56 656.47L1103.14 656.28L1103.72 656.06L1104.29 655.81L1104.87 655.54L1105.45 655.26L1106.03 654.98L1106.61 654.70L1107.19 654.44L1107.77 654.20L1108.35 653.95L1108.93 653.66L1109.51 653.35L1110.09 653.02L1110.66 652.68L1111.24 652.35L1111.82 652.01L1112.40 651.70L1112.98 651.41L1113.56 651.16L1114.14 650.94L1114.72 650.78L1115.30 650.68L1115.88 650.64L1116.46 650.72L1117.03 650.94L1117.61 651.28L1118.19 651.73L1118.77 652.27L1119.35 652.87L1119.93 653.51L1120.51 654.18L1121.09 654.86L1121.67 655.52L1122.25 656.16L1122.83 656.74L1123.40 657.32L1123.98 657.98L1124.56 658.69L1125.14 659.43L1125.72 660.17L1126.30 660.90L1126.88 661.60L1127.46 662.24L1128.04 662.81L1128.62 663.28L1129.20 663.63L1129.77 663.85L1130.35 663.99L1130.93 664.12L1131.51 664.24L1132.09 664.35L1132.67 664.45L1133.25 664.55L1133.83 664.63L1134.41 664.70L1134.99 664.76L1135.57 664.81L1136.14 664.84L1136.72 664.86L1137.19 664.86L1137.30 664.86L1137.88 664.80L1138.46 664.65L1139.04 664.44L1139.62 664.17L1140.20 663.85L1140.78 663.49L1141.36 663.12L1141.94 662.73L1142.51 662.34L1143.09 661.97L1143.67 661.62L1144.25 661.31L1144.83 661.02L1145.41 660.73L1145.99 660.44L1146.57 660.16L1147.15 659.87L1147.73 659.59L1148.31 659.30L1148.88 659.01L1149.46 658.72L1150.04 658.42L1150.62 658.12L1151.20 657.81L1151.32 657.75L1151.78 657.50L1152.36 657.18L1152.94 656.86L1153.52 656.54L1154.10 656.20L1154.68 655.87L1155.25 655.53L1155.83 655.19L1156.41 654.85L1156.99 654.51L1157.57 654.17L1158.15 653.83L1158.73 653.49L1159.31 653.16L1159.89 652.82L1160.47 652.49L1161.05 652.16L1161.62 651.83L1162.20 651.50L1162.78 651.16L1163.36 650.81L1163.94 650.47L1164.52 650.12L1165.10 649.78L1165.68 649.44L1166.26 649.10L1166.84 648.77L1167.42 648.46L1167.99 648.15L1168.57 647.86L1169.15 647.58L1169.73 647.32L1170.31 647.08L1170.89 646.86L1171.47 646.66L1172.05 646.47L1172.63 646.30L1173.21 646.13L1173.79 645.98L1174.36 645.83L1174.94 645.68L1175.52 645.54L1176.10 645.40L1176.68 645.25L1177.26 645.11L1177.84 644.95L1178.42 644.79L1179.00 644.62L1179.58 644.43L1180.16 644.24L1180.73 644.02L1181.31 643.78L1181.89 643.53L1182.47 643.24L1183.05 642.92L1183.63 642.56L1184.21 642.16L1184.79 641.74L1185.37 641.28L1185.95 640.79L1186.53 640.27L1187.10 639.73L1187.68 639.15L1188.26 638.56L1188.84 637.94L1189.42 637.25L1190.00 636.47L1190.58 635.60L1191.16 634.65L1191.74 633.65L1192.32 632.61L1192.90 631.53L1193.47 630.45L1194.05 629.36L1194.63 628.29L1195.21 627.25L1195.79 626.26L1196.37 625.30L1196.95 624.37L1197.53 623.44L1198.11 622.53L1198.69 621.60L1199.27 620.67L1199.84 619.71L1200.42 618.71L1201.00 617.68L1201.58 616.60L1202.16 615.45L1202.74 614.21L1203.32 612.90L1203.90 611.54L1204.48 610.15L1205.06 608.74L1205.64 607.33L1206.21 605.93L1206.79 604.57L1207.37 603.26L1207.95 602.02L1208.53 600.86L1209.11 599.75L1209.69 598.66L1210.27 597.59L1210.85 596.54L1211.43 595.50L1212.01 594.49L1212.58 593.50L1213.16 592.53L1213.74 591.58L1214.32 590.66L1214.90 589.76L1215.48 588.89L1216.06 588.04L1216.64 587.22L1217.22 586.43L1217.45 586.12L1217.80 585.67L1218.38 584.92L1218.95 584.19L1219.53 583.47L1220.11 582.78L1220.69 582.11L1221.27 581.46L1221.85 580.83L1222.43 580.23L1223.01 579.66L1223.59 579.11L1224.17 578.60L1224.28 578.50L1224.75 578.12L1225.32 577.64L1225.90 577.18L1226.48 576.74L1227.06 576.31L1227.64 575.90L1228.22 575.51L1228.80 575.14L1229.38 574.79L1229.96 574.46L1230.54 574.16L1231.00 573.93L1231.12 573.88L1231.69 573.61L1232.27 573.35L1232.85 573.09L1233.43 572.83L1234.01 572.59L1234.59 572.35L1235.17 572.13L1235.75 571.92L1236.33 571.72L1236.91 571.53L1237.49 571.37L1238.06 571.22L1238.64 571.08L1239.22 570.97L1239.80 570.88L1240.38 570.81L1240.96 570.73L1241.54 570.66L1242.12 570.59L1242.70 570.52L1243.28 570.45L1243.86 570.39L1244.43 570.33L1245.01 570.27L1245.59 570.21L1246.17 570.16L1246.75 570.11L1247.33 570.07L1247.91 570.03L1248.49 569.99L1249.07 569.96L1249.65 569.93L1250.23 569.91L1250.80 569.89L1251.38 569.88L1251.96 569.87L1252.54 569.87L1253.12 569.87L1253.70 569.87L1254.28 569.87L1254.86 569.87L1255.44 569.87L1256.02 569.87L1256.60 569.87L1257.17 569.87L1257.75 569.87L1258.33 569.87L1258.91 569.87L1259.49 569.87L1260.07 569.87L1260.65 569.87L1261.23 569.87L1261.81 569.87L1262.39 569.87L1262.97 569.87L1263.54 569.87L1264.12 569.87L1264.70 569.87L1265.28 569.87L1265.86 569.87L1266.44 569.87L1267.02 569.88L1267.60 569.89L1268.18 569.90L1268.76 569.92L1269.34 569.94L1269.91 569.96L1270.49 569.98L1271.07 570.00L1271.65 570.03L1272.23 570.05L1272.81 570.08L1273.39 570.11L1273.97 570.15L1274.55 570.18L1275.13 570.22L1275.71 570.25L1276.28 570.29L1276.86 570.33L1277.44 570.36L1278.02 570.40L1278.60 570.44L1279.18 570.48L1279.76 570.52L1280.34 570.56L1280.92 570.61L1281.50 570.65L1282.08 570.69L1282.65 570.73L1283.23 570.77L1283.81 570.81L1284.39 570.85L1284.97 570.88L1285.55 570.92L1286.13 570.96L1286.71 571.00L1287.29 571.05L1287.87 571.09L1288.45 571.14L1289.02 571.18L1289.60 571.23L1290.18 571.28L1290.76 571.33L1291.34 571.38L1291.92 571.43L1292.50 571.48L1293.08 571.54L1293.66 571.59L1294.24 571.64L1294.82 571.70L1295.39 571.75L1295.97 571.81L1296.55 571.86L1297.13 571.92L1297.71 571.97L1298.29 572.03L1298.87 572.08L1299.45 572.14L1300.03 572.19L1300.61 572.25L1301.19 572.30L1301.76 572.36L1302.34 572.41L1302.92 572.46L1303.50 572.51L1304.08 572.57L1304.66 572.62L1305.24 572.68L1305.82 572.73L1306.40 572.78L1306.98 572.84L1307.56 572.89L1308.13 572.95L1308.71 573.00L1309.29 573.06L1309.87 573.11L1310.45 573.17L1311.03 573.23L1311.61 573.28L1312.19 573.34L1312.77 573.39L1313.35 573.45L1313.93 573.50L1314.50 573.56L1315.08 573.61L1315.66 573.66L1316.24 573.72L1316.82 573.77L1317.40 573.83L1317.98 573.88L1318.56 573.93L1319.14 573.98L1319.72 574.04L1320.30 574.09L1320.87 574.15L1321.45 574.20L1322.03 574.25L1322.61 574.31L1323.19 574.36L1323.77 574.42L1324.35 574.47L1324.93 574.52L1325.51 574.58L1326.09 574.63L1326.67 574.69L1327.24 574.74L1327.82 574.79L1328.40 574.84L1328.98 574.90L1329.56 574.95L1330.14 575.00L1330.72 575.05L1331.30 575.10L1331.88 575.14L1332.46 575.19L1333.04 575.24L1333.61 575.28L1334.19 575.33L1334.77 575.37L1335.35 575.41L1335.93 575.46L1336.51 575.50L1337.09 575.54L1337.67 575.57L1338.25 575.61L1338.83 575.65L1339.41 575.68L1339.98 575.72L1340.56 575.75L1341.14 575.79L1341.72 575.82L1342.30 575.86L1342.88 575.89L1343.46 575.92L1344.04 575.95L1344.62 575.98L1345.20 576.02L1345.78 576.05L1346.35 576.08L1346.93 576.11L1347.51 576.14L1348.09 576.17L1348.67 576.21L1349.25 576.24L1349.83 576.27L1350.41 576.30L1350.99 576.34L1351.57 576.37L1352.15 576.40L1352.72 576.44L1353.30 576.47L1353.88 576.51L1354.46 576.54L1355.04 576.58L1355.62 576.61L1356.20 576.65L1356.78 576.69L1357.36 576.72L1357.94 576.76L1358.52 576.80L1359.09 576.83L1359.67 576.87L1360.25 576.91L1360.83 576.94L1361.41 576.98L1361.99 577.02L1362.57 577.05L1363.15 577.09L1363.73 577.13L1364.31 577.16L1364.89 577.20L1365.46 577.24L1366.04 577.27L1366.62 577.31L1367.20 577.35L1367.78 577.38L1368.36 577.42L1368.94 577.45L1369.52 577.49L1370.10 577.52L1370.68 577.56L1371.26 577.59L1371.83 577.62L1372.41 577.66L1372.99 577.69L1373.57 577.72L1374.15 577.75L1374.73 577.79L1375.31 577.82L1375.89 577.85L1376.47 577.88L1377.05 577.91L1377.63 577.94L1378.20 577.98L1378.78 578.01L1379.36 578.04L1379.94 578.07L1380.52 578.10L1381.10 578.14L1381.68 578.17L1382.26 578.21L1382.84 578.24L1383.42 578.28L1384.00 578.31L1384.57 578.35L1385.15 578.39L1385.73 578.42L1386.31 578.46L1386.89 578.50L1387.47 578.55L1388.05 578.59L1388.63 578.63L1389.21 578.68L1389.79 578.73L1390.37 578.78L1390.94 578.83L1391.52 578.88L1392.10 578.93L1392.68 578.99L1393.26 579.04L1393.84 579.09L1394.42 579.15L1395.00 579.20L1395.58 579.26L1396.16 579.32L1396.74 579.37L1397.31 579.43L1397.89 579.48L1398.47 579.54L1399.05 579.59L1399.63 579.64L1400.21 579.69L1400.79 579.75L1401.37 579.80L1401.95 579.85L1402.53 579.89L1403.11 579.94L1403.68 579.98L1404.26 580.03L1404.84 580.07L1405.42 580.11L1406.00 580.15L1406.58 580.20L1407.16 580.24L1407.74 580.28L1408.32 580.32L1408.90 580.36L1409.48 580.41L1410.05 580.45L1410.63 580.49L1411.21 580.53L1411.79 580.56L1412.37 580.60L1412.95 580.64L1413.53 580.68L1414.11 580.71L1414.69 580.75L1415.27 580.78L1415.85 580.82L1416.42 580.85L1417.00 580.88L1417.58 580.91L1418.16 580.94L1418.74 580.97L1419.32 580.99L1419.90 581.02L1420.48 581.04L1421.06 581.07L1421.64 581.09L1422.22 581.11L1422.79 581.13L1423.37 581.15L1423.95 581.16L1424.53 581.18L1425.11 581.20L1425.69 581.21L1426.27 581.23L1426.85 581.24L1427.43 581.26L1428.01 581.27L1428.59 581.29L1429.16 581.30L1429.74 581.31L1430.32 581.33L1430.90 581.34L1431.48 581.36L1432.06 581.37L1432.64 581.39L1433.22 581.40L1433.80 581.42L1434.38 581.43L1434.96 581.45L1435.53 581.47L1436.11 581.49L1436.69 581.51L1437.27 581.53L1437.85 581.55L1438.43 581.58L1439.01 581.60L1439.59 581.63L1440.17 581.66L1440.75 581.69L1441.33 581.72L1441.90 581.76L1442.48 581.79L1443.06 581.83L1443.64 581.86L1444.22 581.90L1444.80 581.94L1445.38 581.98L1445.96 582.02L1446.54 582.06L1447.12 582.10L1447.70 582.13L1448.27 582.17L1448.85 582.21L1449.43 582.25L1450.01 582.29L1450.59 582.32L1451.17 582.36L1451.75 582.39L1452.33 582.43L1452.91 582.46L1453.49 582.49L1454.07 582.52L1454.64 582.54L1455.22 582.57L1455.80 582.59L1456.38 582.61L1456.96 582.63L1457.54 582.65L1458.12 582.67L1458.70 582.69L1459.28 582.71L1459.86 582.73L1460.44 582.74L1461.01 582.76L1461.59 582.78L1462.17 582.79L1462.75 582.81L1463.33 582.82L1463.91 582.84L1464.49 582.85L1465.07 582.87L1465.65 582.88L1466.23 582.90L1466.81 582.92L1467.38 582.93L1467.96 582.95L1468.54 582.97L1469.12 582.99L1469.70 583.01L1470.28 583.03L1470.86 583.05L1471.44 583.08L1472.02 583.10L1472.60 583.13L1473.18 583.16L1473.75 583.19L1474.33 583.22L1474.91 583.26L1475.49 583.29L1476.07 583.33L1476.65 583.37L1477.23 583.41L1477.81 583.45L1478.39 583.49L1478.97 583.53L1479.55 583.57L1480.12 583.61L1480.70 583.65L1481.28 583.70L1481.86 583.73L1482.44 583.77L1483.02 583.81L1483.60 583.85L1484.18 583.88L1484.76 583.92L1485.34 583.95L1485.92 583.98L1486.49 584.01L1487.07 584.03L1487.65 584.05L1488.23 584.07L1488.81 584.09L1489.39 584.11L1489.97 584.12L1490.55 584.14L1491.13 584.15L1491.71 584.17L1492.29 584.18L1492.86 584.20L1493.44 584.21L1494.02 584.23L1494.60 584.24L1495.18 584.26L1495.76 584.27L1496.34 584.28L1496.92 584.30L1497.50 584.31L1498.08 584.32L1498.66 584.34L1499.23 584.35L1499.81 584.36L1500.39 584.37L1500.97 584.38L1501.55 584.40L1502.13 584.41L1502.71 584.42L1503.29 584.43L1503.87 584.44L1504.45 584.45L1505.03 584.46L1505.60 584.47L1506.18 584.48L1506.76 584.49L1507.34 584.50L1507.92 584.51L1508.50 584.52L1509.08 584.52L1509.66 584.53L1510.24 584.54L1510.82 584.54L1511.40 584.55L1511.97 584.56L1512.55 584.56L1513.13 584.57L1513.71 584.57L1514.29 584.58L1514.87 584.58L1515.45 584.59L1516.03 584.59L1516.61 584.59L1517.19 584.59L1517.77 584.60L1518.34 584.60L1518.92 584.60L1519.50 584.60L1520.08 584.60L1520.66 584.60L1521.24 584.60L1521.82 584.60L1522.40 584.60L1522.98 584.60L1523.56 584.60L1524.14 584.60L1524.71 584.60L1525.29 584.60L1525.87 584.60L1526.45 584.60L1527.03 584.60L1527.61 584.60L1528.19 584.60L1528.77 584.60L1529.35 584.60L1529.93 584.60L1530.51 584.60L1531.08 584.60L1531.66 584.60L1532.24 584.60L1532.82 584.60L1533.40 584.60L1533.98 584.60L1534.56 584.60L1535.14 584.60L1535.72 584.60L1536.30 584.60L1536.88 584.60L1537.45 584.60L1538.03 584.60L1538.61 584.60L1539.19 584.60L1539.77 584.60L1540.35 584.60L1540.93 584.60L1541.51 584.60L1542.09 584.60L1542.67 584.60L1543.25 584.60L1543.82 584.60L1544.40 584.60L1544.98 584.60L1545.56 584.60L1546.14 584.60L1546.72 584.60L1547.30 584.60L1547.88 584.60L1548.46 584.60L1549.04 584.60L1549.62 584.60L1550.19 584.60L1550.77 584.60L1551.35 584.60L1551.93 584.60L1552.51 584.60L1553.09 584.60L1553.67 584.60L1554.25 584.60L1554.83 584.60L1555.41 584.60L1555.99 584.60L1556.56 584.60L1557.14 584.60L1557.72 584.60L1558.30 584.60L1558.88 584.60L1559.46 584.60L1560.04 584.60L1560.62 584.60L1561.20 584.60L1561.78 584.60L1562.36 584.60L1562.93 584.60L1563.51 584.60L1564.09 584.60L1564.67 584.60L1565.25 584.60L1565.83 584.60L1566.41 584.60L1566.99 584.60L1567.57 584.60L1568.15 584.60L1568.73 584.60L1569.30 584.60L1569.88 584.60L1570.46 584.60L1571.04 584.60L1571.62 584.60L1572.20 584.60L1572.78 584.60L1573.36 584.60L1573.94 584.60L1574.52 584.60L1575.10 584.60L1575.67 584.60L1576.25 584.60L1576.83 584.60L1577.41 584.60L1577.99 584.60L1578.57 584.60L1579.15 584.60L1579.73 584.60L1580.31 584.60L1580.89 584.60L1581.47 584.60L1582.04 584.60L1582.62 584.60L1583.20 584.60L1583.78 584.60L1584.36 584.60L1584.94 584.60L1585.52 584.60L1586.10 584.60L1586.68 584.60L1587.26 584.60L1587.84 584.60L1588.41 584.60L1588.99 584.60L1589.57 584.60L1590.15 584.60L1590.73 584.60L1591.31 584.60L1591.89 584.60L1592.47 584.60L1593.05 584.60L1593.63 584.60L1594.21 584.60L1594.78 584.60L1595.36 584.60L1595.94 584.60L1596.52 584.60L1597.10 584.60L1597.68 584.60L1598.26 584.60L1598.84 584.60L1599.42 584.60L1600.00 584.60L1600.58 584.60L1601.15 584.60L1601.73 584.60L1602.31 584.60L1602.89 584.60L1603.47 584.60L1604.05 584.60L1604.63 584.60L1605.21 584.60L1605.79 584.60L1606.37 584.60L1606.95 584.60L1607.52 584.60L1608.10 584.60L1608.68 584.60L1609.26 584.60L1609.84 584.60L1610.42 584.60L1611.00 584.60L1611.58 584.60L1612.16 584.60L1612.74 584.60L1613.32 584.60L1613.89 584.60L1614.47 584.60L1615.05 584.60L1615.63 584.60L1616.21 584.60L1616.79 584.60L1617.37 584.60L1617.95 584.60L1618.53 584.60L1619.11 584.60L1619.69 584.60L1620.26 584.60L1620.84 584.60L1621.42 584.60L1622.00 584.60L1622.58 584.60L1623.16 584.60L1623.74 584.60L1624.32 584.60L1624.90 584.60L1625.48 584.60L1626.06 584.60L1626.63 584.60L1627.21 584.60L1627.79 584.60L1628.37 584.60L1628.95 584.60L1629.53 584.60L1630.11 584.60L1630.69 584.60L1631.27 584.60L1631.85 584.60L1632.43 584.60L1633.00 584.60L1633.58 584.60L1634.16 584.60L1634.74 584.60L1635.32 584.60L1635.90 584.60L1636.48 584.60L1637.06 584.60L1637.64 584.60L1638.22 584.60L1638.80 584.60L1639.37 584.60L1639.95 584.60L1640.53 584.60L1641.11 584.60L1641.69 584.60L1642.27 584.60L1642.85 584.60L1643.43 584.60L1644.01 584.60L1644.59 584.60L1645.17 584.60L1645.74 584.60L1646.32 584.60L1646.90 584.60L1647.48 584.60L1648.06 584.60L1648.64 584.60L1649.22 584.60L1649.80 584.60L1650.38 584.60L1650.96 584.60L1651.54 584.60L1652.11 584.60L1652.69 584.60L1653.27 584.60L1653.85 584.60L1654.43 584.60L1655.01 584.60L1655.59 584.60L1656.17 584.60L1656.75 584.60L1657.33 584.60L1657.91 584.60L1658.48 584.60L1659.06 584.60L1659.64 584.60L1660.22 584.60L1660.80 584.60L1661.38 584.60L1661.96 584.60L1662.54 584.60L1663.12 584.60L1663.70 584.60L1664.28 584.60L1664.85 584.60L1665.43 584.60L1666.01 584.60L1666.59 584.60L1667.17 584.60L1667.75 584.60L1668.33 584.60L1668.91 584.60L1669.49 584.60L1670.07 584.60L1670.65 584.60L1671.22 584.60L1671.80 584.60L1672.38 584.60L1672.96 584.60L1673.54 584.60L1674.12 584.60L1674.70 584.60L1675.28 584.60L1675.86 584.60L1676.44 584.60L1677.02 584.60L1677.59 584.60L1678.17 584.60L1678.75 584.60L1679.33 584.60L1679.91 584.60L1680.49 584.60L1681.07 584.60L1681.65 584.60L1682.23 584.60L1682.81 584.60L1683.39 584.60L1683.96 584.60L1684.54 584.60L1685.12 584.60L1685.70 584.60L1686.28 584.60L1686.86 584.60L1687.44 584.60L1688.02 584.60L1688.60 584.60L1689.18 584.60L1689.76 584.60L1690.33 584.60L1690.91 584.60L1691.49 584.60L1692.07 584.60L1692.65 584.60L1693.23 584.60L1693.81 584.60L1694.39 584.60L1694.97 584.60L1695.55 584.60L1696.13 584.60L1696.70 584.60L1697.28 584.60L1697.86 584.60L1698.44 584.60L1699.02 584.60L1699.60 584.60L1700.18 584.60L1700.76 584.60L1701.34 584.60L1701.92 584.60L1702.50 584.60L1703.07 584.60L1703.65 584.60L1704.23 584.60L1704.81 584.60L1705.39 584.60L1705.97 584.60L1706.55 584.60L1707.13 584.60L1707.71 584.60L1708.29 584.60L1708.87 584.60L1709.44 584.60L1710.02 584.60L1710.60 584.60L1711.18 584.60L1711.76 584.60L1712.34 584.60L1712.92 584.60L1713.50 584.60L1714.08 584.60L1714.66 584.60L1715.24 584.60L1715.81 584.60L1716.39 584.60L1716.97 584.60L1717.55 584.60L1718.13 584.60L1718.71 584.60L1719.29 584.60L1719.87 584.60L1720.45 584.60L1721.03 584.60L1721.61 584.60L1722.18 584.60L1722.76 584.60L1723.34 584.60L1723.92 584.60L1724.50 584.60L1725.08 584.60L1725.66 584.60L1726.24 584.60L1726.82 584.60L1727.40 584.60L1727.98 584.60L1728.55 584.60" stroke="#529d3f" stroke-width="3.20" fill="none" stroke-linejoin="round" stroke-dasharray="11.9 5.2" clip-path="url(#clipD)"/>
<path d="M1033.65 584.60L1034.22 583.22L1034.80 581.86L1035.38 580.54L1035.96 579.25L1036.54 578.00L1037.12 576.77L1037.70 575.59L1038.28 574.44L1038.86 573.29L1039.44 572.11L1040.02 570.93L1040.59 569.80L1041.17 568.74L1041.75 567.78L1042.33 566.96L1042.91 566.31L1043.49 565.76L1044.07 565.21L1044.65 564.70L1045.23 564.23L1045.81 563.84L1046.39 563.53L1046.96 563.33L1047.54 563.26L1048.12 563.32L1048.70 563.49L1049.28 563.76L1049.86 564.12L1050.44 564.54L1051.02 565.03L1051.60 565.56L1052.18 566.13L1052.76 566.73L1053.33 567.33L1053.91 568.05L1054.49 568.99L1055.07 570.09L1055.65 571.33L1056.23 572.65L1056.81 574.01L1057.39 575.37L1057.97 576.68L1058.55 577.91L1059.13 579.01L1059.70 580.01L1060.28 580.95L1060.86 581.86L1061.44 582.74L1062.02 583.60L1062.60 584.44L1063.18 585.28L1063.76 586.12L1064.34 586.98L1064.92 587.85L1065.50 588.76L1066.07 589.70L1066.65 590.70L1067.23 591.74L1067.81 592.82L1068.39 593.94L1068.97 595.09L1069.55 596.27L1070.13 597.47L1070.71 598.68L1071.29 599.91L1071.87 601.14L1072.44 602.38L1073.02 603.61L1073.60 604.83L1074.18 606.04L1074.76 607.22L1074.88 607.46L1075.34 608.45L1075.92 609.83L1076.50 611.31L1077.08 612.85L1077.66 614.40L1078.24 615.92L1078.81 617.35L1079.39 618.66L1079.97 619.79L1080.55 620.69L1081.13 621.33L1081.71 621.65L1081.94 621.68L1082.29 621.62L1082.87 621.23L1083.45 620.54L1084.03 619.62L1084.61 618.52L1085.18 617.30L1085.76 616.02L1086.34 614.75L1086.92 613.53L1087.50 612.43L1087.73 612.03L1088.08 611.44L1088.66 610.36L1089.24 609.19L1089.82 607.98L1090.40 606.74L1090.98 605.52L1091.55 604.36L1092.13 603.27L1092.71 602.31L1093.29 601.50L1093.87 600.88L1094.45 600.49L1095.03 600.35L1095.61 600.37L1096.19 600.45L1096.77 600.57L1097.35 600.73L1097.92 600.93L1098.50 601.16L1099.08 601.41L1099.66 601.69L1100.24 601.98L1100.82 602.28L1101.40 602.58L1101.98 602.89L1102.56 603.27L1103.14 603.80L1103.72 604.44L1104.29 605.14L1104.87 605.89L1105.45 606.65L1106.03 607.38L1106.61 608.05L1107.19 608.63L1107.77 609.09L1108.35 609.39L1108.93 609.49L1109.51 609.49L1110.09 609.49L1110.66 609.49L1111.24 609.49L1111.82 609.49L1112.40 609.49L1112.98 609.49L1113.56 609.49L1114.14 609.49L1114.72 609.49L1115.30 609.49L1115.88 609.49L1116.46 609.41L1117.03 609.16L1117.61 608.78L1118.19 608.29L1118.77 607.71L1119.35 607.05L1119.93 606.35L1120.51 605.62L1121.09 604.89L1121.67 604.17L1122.25 603.50L1122.83 602.89L1123.40 602.30L1123.98 601.70L1124.56 601.09L1125.14 600.46L1125.72 599.82L1126.30 599.18L1126.88 598.54L1127.46 597.90L1128.04 597.27L1128.62 596.64L1129.20 596.03L1129.77 595.43L1130.35 594.84L1130.93 594.28L1131.51 593.75L1132.09 593.24L1132.67 592.75L1133.25 592.28L1133.83 591.83L1134.41 591.40L1134.99 590.97L1135.57 590.56L1136.14 590.16L1136.72 589.76L1137.30 589.36L1137.88 588.97L1138.46 588.58L1139.04 588.19L1139.62 587.79L1140.20 587.39L1140.78 586.98L1141.36 586.56L1141.94 586.12L1142.51 585.70L1143.09 585.29L1143.67 584.89L1144.25 584.49L1144.83 584.09L1145.41 583.68L1145.99 583.26L1146.57 582.81L1147.15 582.34L1147.73 581.82L1148.31 581.27L1148.88 580.66L1149.00 580.54L1149.46 579.98L1150.04 579.19L1150.62 578.29L1151.20 577.30L1151.78 576.24L1152.36 575.12L1152.94 573.95L1153.52 572.74L1154.10 571.51L1154.68 570.27L1155.25 569.03L1155.83 567.81L1156.07 567.33L1156.41 566.60L1156.99 565.34L1157.57 564.04L1158.15 562.70L1158.73 561.34L1159.31 559.95L1159.89 558.56L1160.47 557.17L1161.05 555.79L1161.62 554.44L1162.20 553.11L1162.78 551.82L1163.13 551.07L1163.36 550.58L1163.94 549.38L1164.52 548.22L1165.10 547.08L1165.68 545.96L1166.26 544.86L1166.84 543.75L1167.42 542.65L1167.99 541.54L1168.57 540.41L1169.15 539.25L1169.73 538.07L1170.31 536.85L1170.89 535.57L1171.47 534.22L1172.05 532.81L1172.63 531.38L1173.21 529.92L1173.79 528.47L1174.36 527.02L1174.94 525.61L1175.52 524.24L1176.10 522.94L1176.68 521.72L1177.26 520.59L1177.84 519.51L1178.42 518.43L1179.00 517.36L1179.58 516.31L1180.16 515.29L1180.73 514.31L1181.31 513.39L1181.89 512.52L1182.47 511.74L1183.05 511.03L1183.63 510.42L1184.21 509.92L1184.79 509.48L1185.37 509.05L1185.95 508.62L1186.53 508.21L1187.10 507.82L1187.68 507.44L1188.26 507.08L1188.84 506.75L1189.42 506.45L1190.00 506.18L1190.58 505.94L1191.16 505.73L1191.74 505.57L1192.32 505.45L1192.90 505.38L1193.47 505.35L1194.05 505.35L1194.63 505.35L1195.21 505.35L1195.79 505.35L1196.37 505.35L1196.95 505.35L1197.53 505.35L1198.11 505.35L1198.69 505.35L1199.27 505.35L1199.84 505.35L1200.42 505.35L1201.00 505.35L1201.58 505.35L1202.16 505.35L1202.74 505.35L1203.32 505.37L1203.90 505.43L1204.48 505.52L1205.06 505.65L1205.64 505.80L1206.21 505.98L1206.79 506.18L1207.37 506.41L1207.95 506.65L1208.53 506.91L1209.11 507.18L1209.69 507.46L1210.27 507.75L1210.85 508.04L1211.43 508.33L1212.01 508.62L1212.58 508.91L1213.16 509.21L1213.74 509.54L1214.32 509.89L1214.90 510.27L1215.48 510.67L1216.06 511.10L1216.64 511.54L1217.22 511.99L1217.80 512.46L1218.38 512.94L1218.95 513.43L1219.53 513.92L1220.11 514.42L1220.69 514.92L1221.27 515.42L1221.85 515.92L1221.97 516.02L1222.43 516.42L1223.01 516.93L1223.59 517.46L1224.17 518.00L1224.75 518.55L1225.32 519.11L1225.90 519.68L1226.48 520.26L1227.06 520.84L1227.64 521.42L1228.22 522.01L1228.80 522.60L1229.38 523.19L1229.96 523.77L1230.54 524.36L1231.12 524.93L1231.35 525.16L1231.69 525.51L1232.27 526.08L1232.85 526.66L1233.43 527.24L1234.01 527.82L1234.59 528.41L1235.17 528.99L1235.75 529.57L1236.33 530.16L1236.91 530.74L1237.49 531.33L1238.06 531.91L1238.64 532.50L1239.22 533.08L1239.80 533.66L1240.38 534.24L1240.96 534.82L1241.54 535.39L1242.12 535.96L1242.70 536.54L1243.28 537.11L1243.86 537.67L1244.43 538.24L1245.01 538.81L1245.59 539.38L1246.17 539.95L1246.75 540.51L1247.33 541.08L1247.91 541.65L1248.49 542.23L1249.07 542.80L1249.65 543.38L1250.23 543.96L1250.80 544.55L1251.38 545.15L1251.96 545.76L1252.54 546.38L1253.12 547.00L1253.70 547.63L1254.28 548.25L1254.86 548.88L1255.44 549.50L1256.02 550.12L1256.60 550.73L1257.17 551.34L1257.75 551.93L1258.33 552.50L1258.91 553.06L1259.49 553.61L1260.07 554.13L1260.65 554.63L1261.23 555.11L1261.81 555.58L1262.39 556.03L1262.97 556.47L1263.54 556.90L1264.12 557.32L1264.70 557.74L1265.28 558.14L1265.86 558.54L1266.44 558.93L1267.02 559.32L1267.60 559.71L1268.18 560.09L1268.76 560.46L1269.34 560.82L1269.91 561.18L1270.49 561.53L1271.07 561.88L1271.65 562.22L1272.23 562.56L1272.81 562.90L1273.39 563.24L1273.97 563.59L1274.55 563.93L1275.13 564.28L1275.71 564.64L1276.28 565.01L1276.86 565.39L1277.44 565.78L1278.02 566.17L1278.60 566.56L1279.18 566.94L1279.76 567.30L1280.34 567.66L1280.92 567.99L1281.50 568.31L1282.08 568.60L1282.65 568.85L1283.23 569.08L1283.81 569.30L1284.39 569.50L1284.97 569.68L1285.55 569.86L1286.13 570.03L1286.71 570.20L1287.29 570.36L1287.87 570.52L1288.45 570.68L1289.02 570.85L1289.60 571.02L1290.18 571.20L1290.76 571.39L1291.34 571.59L1291.92 571.80L1292.50 572.02L1293.08 572.24L1293.66 572.46L1294.24 572.69L1294.82 572.92L1295.39 573.14L1295.97 573.37L1296.55 573.59L1297.13 573.81L1297.71 574.03L1298.29 574.24L1298.87 574.44L1299.45 574.64L1300.03 574.83L1300.61 575.03L1301.19 575.22L1301.76 575.40L1302.34 575.59L1302.92 575.77L1303.50 575.96L1304.08 576.13L1304.66 576.31L1305.24 576.48L1305.82 576.65L1306.40 576.82L1306.98 576.98L1307.56 577.14L1308.13 577.29L1308.71 577.45L1309.29 577.59L1309.87 577.74L1310.45 577.88L1311.03 578.02L1311.61 578.16L1312.19 578.30L1312.77 578.44L1313.35 578.58L1313.93 578.73L1314.50 578.87L1315.08 579.01L1315.66 579.16L1316.24 579.31L1316.82 579.46L1317.40 579.61L1317.98 579.76L1318.56 579.91L1319.14 580.06L1319.72 580.21L1320.30 580.36L1320.87 580.51L1321.45 580.65L1322.03 580.78L1322.61 580.92L1323.19 581.04L1323.77 581.17L1324.35 581.29L1324.93 581.41L1325.51 581.53L1326.09 581.65L1326.67 581.77L1327.24 581.88L1327.82 581.99L1328.40 582.10L1328.98 582.20L1329.56 582.30L1330.14 582.40L1330.72 582.48L1331.30 582.57L1331.88 582.65L1332.46 582.72L1333.04 582.79L1333.61 582.86L1334.19 582.92L1334.77 582.98L1335.35 583.04L1335.93 583.10L1336.51 583.16L1337.09 583.22L1337.67 583.27L1338.25 583.33L1338.83 583.39L1339.41 583.45L1339.98 583.52L1340.56 583.58L1341.14 583.65L1341.72 583.73L1342.30 583.81L1342.88 583.88L1343.46 583.96L1344.04 584.05L1344.62 584.13L1345.20 584.21L1345.78 584.28L1346.35 584.36L1346.93 584.42L1347.51 584.49L1348.09 584.55L1348.67 584.60L1349.25 584.65L1349.83 584.69L1350.41 584.73L1350.99 584.76L1351.57 584.80L1352.15 584.83L1352.72 584.86L1353.30 584.89L1353.88 584.92L1354.46 584.95L1355.04 584.99L1355.62 585.02L1356.20 585.06L1356.78 585.11L1357.36 585.16L1357.94 585.22L1358.52 585.28L1359.09 585.35L1359.67 585.42L1360.25 585.49L1360.83 585.57L1361.41 585.65L1361.99 585.72L1362.57 585.79L1363.15 585.86L1363.73 585.93L1364.31 585.99L1364.89 586.04L1365.46 586.09L1366.04 586.12L1366.62 586.15L1367.20 586.18L1367.78 586.21L1368.36 586.24L1368.94 586.27L1369.52 586.29L1370.10 586.32L1370.68 586.34L1371.26 586.36L1371.83 586.38L1372.41 586.41L1372.99 586.43L1373.57 586.45L1374.15 586.46L1374.73 586.48L1375.31 586.50L1375.89 586.51L1376.47 586.53L1377.05 586.55L1377.63 586.56L1378.20 586.57L1378.78 586.59L1379.36 586.60L1379.94 586.61L1380.52 586.62L1381.10 586.63L1381.68 586.64L1382.26 586.65L1382.84 586.66L1383.42 586.67L1384.00 586.68L1384.57 586.69L1385.15 586.70L1385.73 586.71L1386.31 586.72L1386.89 586.73L1387.47 586.74L1388.05 586.75L1388.63 586.76L1389.21 586.77L1389.79 586.78L1390.37 586.79L1390.94 586.80L1391.52 586.81L1392.10 586.82L1392.68 586.83L1393.26 586.84L1393.84 586.85L1394.42 586.86L1395.00 586.87L1395.58 586.87L1396.16 586.88L1396.74 586.89L1397.31 586.90L1397.89 586.91L1398.47 586.92L1399.05 586.92L1399.63 586.93L1400.21 586.94L1400.79 586.95L1401.37 586.95L1401.95 586.96L1402.53 586.97L1403.11 586.98L1403.68 586.98L1404.26 586.99L1404.84 587.00L1405.42 587.00L1406.00 587.01L1406.58 587.02L1407.16 587.02L1407.74 587.03L1408.32 587.04L1408.90 587.04L1409.48 587.05L1410.05 587.05L1410.63 587.06L1411.21 587.06L1411.79 587.07L1412.37 587.07L1412.95 587.08L1413.53 587.08L1414.11 587.09L1414.69 587.09L1415.27 587.10L1415.85 587.10L1416.42 587.10L1417.00 587.11L1417.58 587.11L1418.16 587.11L1418.74 587.12L1419.32 587.12L1419.90 587.12L1420.48 587.13L1421.06 587.13L1421.64 587.13L1422.22 587.13L1422.79 587.13L1423.37 587.13L1423.95 587.14L1424.53 587.14L1425.11 587.14L1425.69 587.14L1426.27 587.14L1426.85 587.14L1427.43 587.14L1428.01 587.14L1428.59 587.14L1429.16 587.14L1429.74 587.14L1430.32 587.14L1430.90 587.14L1431.48 587.14L1432.06 587.14L1432.64 587.14L1433.22 587.14L1433.80 587.14L1434.38 587.14L1434.96 587.14L1435.53 587.14L1436.11 587.14L1436.69 587.14L1437.27 587.14L1437.85 587.14L1438.43 587.14L1439.01 587.14L1439.59 587.14L1440.17 587.14L1440.75 587.14L1441.33 587.14L1441.90 587.14L1442.48 587.14L1443.06 587.14L1443.64 587.14L1444.22 587.14L1444.80 587.14L1445.38 587.14L1445.96 587.14L1446.54 587.14L1447.12 587.14L1447.70 587.14L1448.27 587.14L1448.85 587.14L1449.43 587.14L1450.01 587.14L1450.59 587.14L1451.17 587.14L1451.75 587.14L1452.33 587.14L1452.91 587.14L1453.49 587.14L1454.07 587.14L1454.64 587.14L1455.22 587.14L1455.80 587.14L1456.38 587.14L1456.96 587.14L1457.54 587.14L1458.12 587.14L1458.70 587.14L1459.28 587.14L1459.86 587.14L1460.44 587.14L1461.01 587.14L1461.59 587.14L1462.17 587.14L1462.75 587.14L1463.33 587.14L1463.91 587.14L1464.49 587.14L1465.07 587.14L1465.65 587.14L1466.23 587.14L1466.81 587.14L1467.38 587.14L1467.96 587.14L1468.54 587.14L1469.12 587.14L1469.70 587.14L1470.28 587.14L1470.86 587.14L1471.44 587.14L1472.02 587.14L1472.60 587.14L1473.18 587.14L1473.75 587.14L1474.33 587.14L1474.91 587.14L1475.49 587.14L1476.07 587.14L1476.65 587.14L1477.23 587.14L1477.81 587.14L1478.39 587.14L1478.97 587.14L1479.55 587.14L1480.12 587.14L1480.70 587.14L1481.28 587.14L1481.86 587.14L1482.44 587.14L1483.02 587.14L1483.60 587.14L1484.18 587.14L1484.76 587.14L1485.34 587.14L1485.92 587.14L1486.49 587.14L1487.07 587.14L1487.65 587.14L1488.23 587.14L1488.81 587.14L1489.39 587.14L1489.97 587.14L1490.55 587.14L1491.13 587.14L1491.71 587.14L1492.29 587.14L1492.86 587.14L1493.44 587.14L1494.02 587.14L1494.60 587.14L1495.18 587.14L1495.76 587.14L1496.34 587.14L1496.92 587.14L1497.50 587.14L1498.08 587.14L1498.66 587.14L1499.23 587.14L1499.81 587.14L1500.39 587.13L1500.97 587.13L1501.55 587.13L1502.13 587.12L1502.71 587.12L1503.29 587.12L1503.87 587.11L1504.45 587.11L1505.03 587.10L1505.60 587.10L1506.18 587.09L1506.76 587.09L1507.34 587.08L1507.92 587.07L1508.50 587.07L1509.08 587.06L1509.66 587.05L1510.24 587.04L1510.82 587.04L1511.40 587.03L1511.97 587.02L1512.55 587.01L1513.13 587.00L1513.71 586.99L1514.29 586.98L1514.87 586.97L1515.45 586.97L1516.03 586.96L1516.61 586.95L1517.19 586.93L1517.77 586.92L1518.34 586.91L1518.92 586.90L1519.50 586.89L1520.08 586.88L1520.66 586.87L1521.24 586.86L1521.82 586.85L1522.40 586.83L1522.98 586.82L1523.56 586.81L1524.14 586.80L1524.71 586.78L1525.29 586.77L1525.87 586.76L1526.45 586.75L1527.03 586.73L1527.61 586.72L1528.19 586.71L1528.77 586.69L1529.35 586.68L1529.93 586.67L1530.51 586.65L1531.08 586.64L1531.66 586.63L1532.24 586.61L1532.82 586.60L1533.40 586.59L1533.98 586.57L1534.56 586.56L1535.14 586.55L1535.72 586.53L1536.30 586.52L1536.88 586.51L1537.45 586.49L1538.03 586.48L1538.61 586.47L1539.19 586.45L1539.77 586.44L1540.35 586.43L1540.93 586.41L1541.51 586.40L1542.09 586.39L1542.67 586.37L1543.25 586.36L1543.82 586.35L1544.40 586.33L1544.98 586.32L1545.56 586.31L1546.14 586.30L1546.72 586.28L1547.30 586.27L1547.88 586.26L1548.46 586.25L1549.04 586.23L1549.62 586.22L1550.19 586.21L1550.77 586.20L1551.35 586.19L1551.93 586.18L1552.51 586.17L1553.09 586.16L1553.67 586.14L1554.25 586.13L1554.83 586.12L1555.41 586.11L1555.99 586.10L1556.56 586.09L1557.14 586.08L1557.72 586.07L1558.30 586.06L1558.88 586.05L1559.46 586.04L1560.04 586.03L1560.62 586.02L1561.20 586.01L1561.78 585.99L1562.36 585.98L1562.93 585.97L1563.51 585.96L1564.09 585.95L1564.67 585.94L1565.25 585.93L1565.83 585.91L1566.41 585.90L1566.99 585.89L1567.57 585.88L1568.15 585.87L1568.73 585.85L1569.30 585.84L1569.88 585.83L1570.46 585.82L1571.04 585.81L1571.62 585.79L1572.20 585.78L1572.78 585.77L1573.36 585.76L1573.94 585.75L1574.52 585.73L1575.10 585.72L1575.67 585.71L1576.25 585.70L1576.83 585.69L1577.41 585.67L1577.99 585.66L1578.57 585.65L1579.15 585.64L1579.73 585.63L1580.31 585.61L1580.89 585.60L1581.47 585.59L1582.04 585.58L1582.62 585.57L1583.20 585.56L1583.78 585.54L1584.36 585.53L1584.94 585.52L1585.52 585.51L1586.10 585.50L1586.68 585.49L1587.26 585.47L1587.84 585.46L1588.41 585.45L1588.99 585.44L1589.57 585.43L1590.15 585.42L1590.73 585.41L1591.31 585.40L1591.89 585.39L1592.47 585.38L1593.05 585.37L1593.63 585.36L1594.21 585.35L1594.78 585.34L1595.36 585.33L1595.94 585.32L1596.52 585.31L1597.10 585.30L1597.68 585.29L1598.26 585.28L1598.84 585.27L1599.42 585.26L1600.00 585.25L1600.58 585.25L1601.15 585.24L1601.73 585.23L1602.31 585.22L1602.89 585.21L1603.47 585.21L1604.05 585.20L1604.63 585.19L1605.21 585.18L1605.79 585.18L1606.37 585.17L1606.95 585.16L1607.52 585.16L1608.10 585.15L1608.68 585.14L1609.26 585.14L1609.84 585.13L1610.42 585.13L1611.00 585.12L1611.58 585.12L1612.16 585.11L1612.74 585.11L1613.32 585.10L1613.89 585.10L1614.47 585.09L1615.05 585.09L1615.63 585.09L1616.21 585.08L1616.79 585.08L1617.37 585.07L1617.95 585.07L1618.53 585.07L1619.11 585.06L1619.69 585.06L1620.26 585.05L1620.84 585.05L1621.42 585.04L1622.00 585.04L1622.58 585.04L1623.16 585.03L1623.74 585.03L1624.32 585.02L1624.90 585.02L1625.48 585.02L1626.06 585.01L1626.63 585.01L1627.21 585.00L1627.79 585.00L1628.37 584.99L1628.95 584.99L1629.53 584.99L1630.11 584.98L1630.69 584.98L1631.27 584.97L1631.85 584.97L1632.43 584.97L1633.00 584.96L1633.58 584.96L1634.16 584.96L1634.74 584.95L1635.32 584.95L1635.90 584.94L1636.48 584.94L1637.06 584.94L1637.64 584.93L1638.22 584.93L1638.80 584.92L1639.37 584.92L1639.95 584.92L1640.53 584.91L1641.11 584.91L1641.69 584.91L1642.27 584.90L1642.85 584.90L1643.43 584.90L1644.01 584.89L1644.59 584.89L1645.17 584.88L1645.74 584.88L1646.32 584.88L1646.90 584.87L1647.48 584.87L1648.06 584.87L1648.64 584.86L1649.22 584.86L1649.80 584.86L1650.38 584.85L1650.96 584.85L1651.54 584.85L1652.11 584.84L1652.69 584.84L1653.27 584.84L1653.85 584.83L1654.43 584.83L1655.01 584.83L1655.59 584.82L1656.17 584.82L1656.75 584.82L1657.33 584.81L1657.91 584.81L1658.48 584.81L1659.06 584.80L1659.64 584.80L1660.22 584.80L1660.80 584.79L1661.38 584.79L1661.96 584.79L1662.54 584.79L1663.12 584.78L1663.70 584.78L1664.28 584.78L1664.85 584.77L1665.43 584.77L1666.01 584.77L1666.59 584.76L1667.17 584.76L1667.75 584.76L1668.33 584.76L1668.91 584.75L1669.49 584.75L1670.07 584.75L1670.65 584.75L1671.22 584.74L1671.80 584.74L1672.38 584.74L1672.96 584.73L1673.54 584.73L1674.12 584.73L1674.70 584.73L1675.28 584.72L1675.86 584.72L1676.44 584.72L1677.02 584.72L1677.59 584.71L1678.17 584.71L1678.75 584.71L1679.33 584.71L1679.91 584.70L1680.49 584.70L1681.07 584.70L1681.65 584.70L1682.23 584.70L1682.81 584.69L1683.39 584.69L1683.96 584.69L1684.54 584.69L1685.12 584.68L1685.70 584.68L1686.28 584.68L1686.86 584.68L1687.44 584.68L1688.02 584.67L1688.60 584.67L1689.18 584.67L1689.76 584.67L1690.33 584.67L1690.91 584.66L1691.49 584.66L1692.07 584.66L1692.65 584.66L1693.23 584.66L1693.81 584.65L1694.39 584.65L1694.97 584.65L1695.55 584.65L1696.13 584.65L1696.70 584.65L1697.28 584.64L1697.86 584.64L1698.44 584.64L1699.02 584.64L1699.60 584.64L1700.18 584.64L1700.76 584.64L1701.34 584.63L1701.92 584.63L1702.50 584.63L1703.07 584.63L1703.65 584.63L1704.23 584.63L1704.81 584.63L1705.39 584.62L1705.97 584.62L1706.55 584.62L1707.13 584.62L1707.71 584.62L1708.29 584.62L1708.87 584.62L1709.44 584.62L1710.02 584.62L1710.60 584.62L1711.18 584.61L1711.76 584.61L1712.34 584.61L1712.92 584.61L1713.50 584.61L1714.08 584.61L1714.66 584.61L1715.24 584.61L1715.81 584.61L1716.39 584.61L1716.97 584.61L1717.55 584.61L1718.13 584.61L1718.71 584.60L1719.29 584.60L1719.87 584.60L1720.45 584.60L1721.03 584.60L1721.61 584.60L1722.18 584.60L1722.76 584.60L1723.34 584.60L1723.92 584.60L1724.50 584.60L1725.08 584.60L1725.66 584.60L1726.24 584.60L1726.82 584.60L1727.40 584.60L1727.98 584.60L1728.55 584.60" stroke="#bd9f4a" stroke-width="3.20" fill="none" stroke-linejoin="round" stroke-dasharray="3.2 5.3" clip-path="url(#clipD)"/>
<rect x="998.90" y="491.50" width="764.40" height="293.70" fill="none" stroke="#000" stroke-width="1.70" stroke-linejoin="miter"/>
<path d="M1033.65 785.20v7.50M1149.46 785.20v7.50M1265.28 785.20v7.50M1381.10 785.20v7.50M1496.92 785.20v7.50M1612.74 785.20v7.50M1728.55 785.20v7.50M998.90 533.80h-7.50M998.90 584.60h-7.50M998.90 635.40h-7.50M998.90 686.20h-7.50M998.90 737.00h-7.50" stroke="#000" stroke-width="1.70" fill="none"/>
<g font-family="'Liberation Serif', 'DejaVu Serif', serif" font-size="16.3" letter-spacing="0.55" fill="#000"><text x="1033.65" y="810.60" text-anchor="middle">0</text><text x="1149.46" y="810.60" text-anchor="middle">100</text><text x="1265.28" y="810.60" text-anchor="middle">200</text><text x="1381.10" y="810.60" text-anchor="middle">300</text><text x="1496.92" y="810.60" text-anchor="middle">400</text><text x="1612.74" y="810.60" text-anchor="middle">500</text><text x="1728.55" y="810.60" text-anchor="middle">600</text><text x="983.40" y="538.80" text-anchor="end">0.01</text><text x="983.40" y="589.60" text-anchor="end">0.00</text><text x="983.40" y="640.40" text-anchor="end"><tspan font-size="20" dy="2.2">−</tspan><tspan dx="0.8" dy="-2.2">0.01</tspan></text><text x="983.40" y="691.20" text-anchor="end"><tspan font-size="20" dy="2.2">−</tspan><tspan dx="0.8" dy="-2.2">0.02</tspan></text><text x="983.40" y="742.00" text-anchor="end"><tspan font-size="20" dy="2.2">−</tspan><tspan dx="0.8" dy="-2.2">0.03</tspan></text></g>
<text x="1381.10" y="834.30" text-anchor="middle" font-family="'Liberation Sans', 'DejaVu Sans', sans-serif" font-size="17.2" fill="#000" textLength="60.5" lengthAdjust="spacing">Time [s]</text>
<text transform="translate(926.60 638.35) rotate(-90)" text-anchor="middle" font-family="'Liberation Sans', 'DejaVu Sans', sans-serif" font-size="17.2" fill="#000" textLength="206.8" lengthAdjust="spacing">Rate Tracking Error [rad/s]</text>
<rect x="1643.20" y="694.00" width="110.70" height="82.30" rx="3.8" ry="3.8" fill="#fff" fill-opacity="0.8" stroke="#cccccc" stroke-opacity="0.9" stroke-width="1.7"/>
<path d="M1649.60 706.80H1683.90" stroke="#1d6874" stroke-width="3.20" stroke-linecap="square"/>
<text x="1699.00" y="712.20" font-family="'Liberation Serif', 'DejaVu Serif', serif" fill="#000"><tspan font-style="italic" font-size="16.5">ω</tspan><tspan font-style="italic" font-size="14" dy="3.9" letter-spacing="1.1">BN</tspan><tspan font-size="14" letter-spacing="1.0">,0</tspan></text>
<path d="M1649.60 733.10H1683.90" stroke="#529d3f" stroke-width="3.20" stroke-dasharray="11.9 5.2"/>
<text x="1699.00" y="738.50" font-family="'Liberation Serif', 'DejaVu Serif', serif" fill="#000"><tspan font-style="italic" font-size="16.5">ω</tspan><tspan font-style="italic" font-size="14" dy="3.9" letter-spacing="1.1">BN</tspan><tspan font-size="14" letter-spacing="1.0">,1</tspan></text>
<path d="M1649.60 758.60H1683.90" stroke="#bd9f4a" stroke-width="3.20" stroke-dasharray="3.2 5.3"/>
<text x="1699.00" y="764.00" font-family="'Liberation Serif', 'DejaVu Serif', serif" fill="#000"><tspan font-style="italic" font-size="16.5">ω</tspan><tspan font-style="italic" font-size="14" dy="3.9" letter-spacing="1.1">BN</tspan><tspan font-size="14" letter-spacing="1.0">,2</tspan></text>
<text x="934.50" y="469.10" font-family="'Liberation Sans', 'DejaVu Sans', sans-serif" font-weight="bold" font-size="37" fill="#000">D</text>
<clipPath id="clipE"><rect x="93.10" y="926.50" width="763.90" height="293.60"/></clipPath>
<path d="M127.82 926.50V1220.10M243.57 926.50V1220.10M359.31 926.50V1220.10M475.05 926.50V1220.10M590.79 926.50V1220.10M706.53 926.50V1220.10M822.28 926.50V1220.10M93.10 939.90H857.00M93.10 973.30H857.00M93.10 1006.70H857.00M93.10 1040.10H857.00M93.10 1073.50H857.00M93.10 1106.90H857.00M93.10 1140.30H857.00M93.10 1173.70H857.00M93.10 1207.10H857.00" stroke="#b0b0b0" stroke-width="1.30" fill="none"/>
<path d="M127.82 1073.50L139.40 939.90L150.97 963.28L162.55 1205.76L174.12 1206.43L185.69 1206.43L197.27 1080.85L208.84 1043.44L220.42 1102.22L231.99 1118.26L243.57 1072.16L255.14 1002.69L266.71 985.32L278.29 1068.96L289.86 1083.05L301.44 1035.16L313.01 1046.45L324.58 1078.84L336.16 1082.18L347.73 1062.81L359.31 1085.92L370.88 1094.21L382.46 1080.18L394.03 1054.93L405.60 1077.51L417.18 1085.92L428.75 1075.30L440.33 1059.14L451.90 1042.91L463.48 1081.65L475.05 1072.63L486.62 1075.97L498.20 1065.28L509.77 1088.20L521.35 1075.50L532.92 1077.51L544.50 1088.20L556.07 1075.97L567.64 1043.44L579.22 1086.19L590.79 1056.13L602.37 1069.76L613.94 1072.63L625.52 1086.66L637.09 1072.63L648.66 1084.46L660.24 1077.51L671.81 1058.54L683.39 1064.15L694.96 1072.63L706.53 1080.51L718.11 1061.48L729.68 1097.95L741.26 1057.94L752.83 1092.20L764.41 1046.11L775.98 1103.56L787.55 1032.08L799.13 1103.56L810.70 1051.79L822.28 1095.14" stroke="#1d6874" stroke-width="3.20" fill="none" stroke-linejoin="round" stroke-linecap="square" clip-path="url(#clipE)"/>
<path d="M127.82 1073.50L139.40 1165.02L150.97 949.25L160.23 950.59L162.55 959.94L174.12 1100.22L185.69 939.90L197.27 939.90L208.84 939.90L220.42 955.26L231.99 981.98L243.57 972.63L255.14 982.65L263.24 1003.36L266.71 1011.38L278.29 1064.82L289.86 1031.62L301.44 1042.10L313.01 1052.12L324.58 1056.33L336.16 1064.82L347.73 1074.64L359.31 1088.73L370.88 1105.56L382.46 1097.15L394.03 1076.04L405.60 1066.15L417.18 1058.40L428.75 1059.14L440.33 1054.13L451.90 1054.80L463.48 1068.96L475.05 1076.04L486.62 1083.32L498.20 1082.18L509.77 1091.20L521.35 1078.84L532.92 1070.83L544.50 1067.49L556.07 1063.01L567.64 1055.73L579.22 1074.30L590.79 1071.50L602.37 1075.50L613.94 1076.57L625.52 1080.51L637.09 1075.50L648.66 1077.51L660.24 1069.76L671.81 1062.14L683.39 1063.01L694.96 1069.22L706.53 1073.50L718.11 1074.17L729.68 1084.19L741.26 1077.51L752.83 1083.32L764.41 1069.76L775.98 1071.50L787.55 1055.73L799.13 1067.49L810.70 1065.28L822.28 1079.91" stroke="#529d3f" stroke-width="3.20" fill="none" stroke-linejoin="round" stroke-dasharray="11.9 5.2" clip-path="url(#clipE)"/>
<path d="M127.82 1073.50L139.40 939.90L150.97 939.90L162.55 939.90L174.12 939.90L179.91 939.90L185.69 948.58L197.27 1018.06L208.84 939.90L220.42 939.90L231.99 939.90L243.57 1035.42L255.14 1060.81L266.71 1032.08L278.29 1080.18L289.86 1106.23L301.44 1065.48L313.01 1080.18L324.58 1116.92L336.16 1098.88L347.73 1081.52L359.31 1088.86L370.88 1076.17L382.46 1050.79L394.03 1056.13L405.60 1042.10L417.18 1054.13L428.75 1066.82L440.33 1072.16L451.90 1100.22L463.48 1115.58L475.05 1081.52L486.62 1080.85L498.20 1082.18L521.35 1044.11L532.92 1056.13L544.50 1067.49L556.07 1068.16L567.64 1081.52L579.22 1123.60L590.79 1066.95L602.37 1078.84L613.94 1088.20L625.52 1054.80L637.09 1047.45L648.66 1079.51L660.24 1053.46L671.81 1072.16L683.39 1092.20L694.96 1084.86L706.53 1075.50L718.11 1084.46L729.68 1072.16L741.26 1056.13L752.83 1069.76L764.41 1056.27L775.98 1070.16L787.55 1064.82L799.13 1098.88L810.70 1075.50L822.28 1086.86" stroke="#bd9f4a" stroke-width="3.20" fill="none" stroke-linejoin="round" stroke-dasharray="3.2 5.3" clip-path="url(#clipE)"/>
<rect x="93.10" y="926.50" width="763.90" height="293.60" fill="none" stroke="#000" stroke-width="1.70" stroke-linejoin="miter"/>
<path d="M127.82 1220.10v7.50M243.57 1220.10v7.50M359.31 1220.10v7.50M475.05 1220.10v7.50M590.79 1220.10v7.50M706.53 1220.10v7.50M822.28 1220.10v7.50M93.10 939.90h-7.50M93.10 973.30h-7.50M93.10 1006.70h-7.50M93.10 1040.10h-7.50M93.10 1073.50h-7.50M93.10 1106.90h-7.50M93.10 1140.30h-7.50M93.10 1173.70h-7.50M93.10 1207.10h-7.50" stroke="#000" stroke-width="1.70" fill="none"/>
<g font-family="'Liberation Serif', 'DejaVu Serif', serif" font-size="16.3" letter-spacing="0.55" fill="#000"><text x="127.82" y="1245.50" text-anchor="middle">0</text><text x="243.57" y="1245.50" text-anchor="middle">100</text><text x="359.31" y="1245.50" text-anchor="middle">200</text><text x="475.05" y="1245.50" text-anchor="middle">300</text><text x="590.79" y="1245.50" text-anchor="middle">400</text><text x="706.53" y="1245.50" text-anchor="middle">500</text><text x="822.28" y="1245.50" text-anchor="middle">600</text><text x="77.60" y="944.90" text-anchor="end">0.20</text><text x="77.60" y="978.30" text-anchor="end">0.15</text><text x="77.60" y="1011.70" text-anchor="end">0.10</text><text x="77.60" y="1045.10" text-anchor="end">0.05</text><text x="77.60" y="1078.50" text-anchor="end">0.00</text><text x="77.60" y="1111.90" text-anchor="end"><tspan font-size="20" dy="2.2">−</tspan><tspan dx="0.8" dy="-2.2">0.05</tspan></text><text x="77.60" y="1145.30" text-anchor="end"><tspan font-size="20" dy="2.2">−</tspan><tspan dx="0.8" dy="-2.2">0.10</tspan></text><text x="77.60" y="1178.70" text-anchor="end"><tspan font-size="20" dy="2.2">−</tspan><tspan dx="0.8" dy="-2.2">0.15</tspan></text><text x="77.60" y="1212.10" text-anchor="end"><tspan font-size="20" dy="2.2">−</tspan><tspan dx="0.8" dy="-2.2">0.20</tspan></text></g>
<text x="475.05" y="1269.20" text-anchor="middle" font-family="'Liberation Sans', 'DejaVu Sans', sans-serif" font-size="17.2" fill="#000" textLength="60.5" lengthAdjust="spacing">Time [s]</text>
<text transform="translate(20.60 1073.30) rotate(-90)" text-anchor="middle" font-family="'Liberation Sans', 'DejaVu Sans', sans-serif" font-size="17.2" fill="#000" textLength="183.2" lengthAdjust="spacing">RW Motor Torque [Nm]</text>
<rect x="756.40" y="1130.50" width="91.80" height="80.60" rx="3.8" ry="3.8" fill="#fff" fill-opacity="0.8" stroke="#cccccc" stroke-opacity="0.9" stroke-width="1.7"/>
<path d="M762.80 1143.30H797.10" stroke="#1d6874" stroke-width="3.20" stroke-linecap="square"/>
<text x="811.60" y="1148.30" font-family="'Liberation Serif', 'DejaVu Serif', serif" fill="#000"><tspan font-style="italic" font-size="17">û</tspan><tspan font-style="italic" font-size="14" dy="3" dx="1" letter-spacing="1.2">s</tspan><tspan font-size="14" letter-spacing="1.2">,0</tspan></text>
<path d="M762.80 1168.60H797.10" stroke="#529d3f" stroke-width="3.20" stroke-dasharray="11.9 5.2"/>
<text x="811.60" y="1173.60" font-family="'Liberation Serif', 'DejaVu Serif', serif" fill="#000"><tspan font-style="italic" font-size="17">û</tspan><tspan font-style="italic" font-size="14" dy="3" dx="1" letter-spacing="1.2">s</tspan><tspan font-size="14" letter-spacing="1.2">,1</tspan></text>
<path d="M762.80 1194.10H797.10" stroke="#bd9f4a" stroke-width="3.20" stroke-dasharray="3.2 5.3"/>
<text x="811.60" y="1199.10" font-family="'Liberation Serif', 'DejaVu Serif', serif" fill="#000"><tspan font-style="italic" font-size="17">û</tspan><tspan font-style="italic" font-size="14" dy="3" dx="1" letter-spacing="1.2">s</tspan><tspan font-size="14" letter-spacing="1.2">,2</tspan></text>
<text x="5.60" y="913.10" font-family="'Liberation Sans', 'DejaVu Sans', sans-serif" font-weight="bold" font-size="37" fill="#000">E</text>
<clipPath id="clipF"><rect x="998.90" y="926.60" width="764.30" height="293.30"/></clipPath>
<path d="M1033.64 926.60V1219.90M1149.44 926.60V1219.90M1265.25 926.60V1219.90M1381.05 926.60V1219.90M1496.85 926.60V1219.90M1612.66 926.60V1219.90M1728.46 926.60V1219.90M998.90 939.80H1763.20M998.90 973.15H1763.20M998.90 1006.50H1763.20M998.90 1039.85H1763.20M998.90 1073.20H1763.20M998.90 1106.55H1763.20M998.90 1139.90H1763.20M998.90 1173.25H1763.20M998.90 1206.60H1763.20" stroke="#b0b0b0" stroke-width="1.30" fill="none"/>
<path d="M1033.64 1073.20L1034.22 1206.60L1034.80 1206.60L1035.38 1206.60L1035.96 1206.60L1036.54 1206.60L1037.12 1206.60L1037.69 1206.60L1038.27 1206.60L1038.85 1206.60L1039.43 1206.60L1040.01 1206.60L1040.59 1206.60L1041.17 1206.60L1041.75 1206.60L1042.33 1206.60L1042.91 1206.60L1043.48 1206.60L1044.06 1206.60L1044.64 1206.60L1045.22 1206.60L1045.80 1206.60L1046.38 1206.60L1046.96 1206.60L1047.54 1206.60L1048.12 1206.60L1048.70 1206.60L1049.27 1206.60L1049.85 1206.60L1050.43 1206.60L1051.01 1206.60L1051.59 1206.60L1052.17 1206.60L1052.75 1206.60L1053.33 1206.60L1053.91 1206.60L1054.49 1206.60L1055.06 1206.60L1055.64 1206.60L1056.22 1206.60L1056.80 1206.60L1057.38 1206.60L1057.96 1206.60L1058.54 1206.60L1059.12 1206.60L1059.70 1206.60L1060.28 1206.60L1060.85 1206.60L1061.43 1206.60L1062.01 1206.60L1062.59 1206.60L1063.17 1206.60L1063.75 1206.60L1064.33 1206.60L1064.91 1206.60L1065.49 1206.60L1066.07 1206.60L1066.64 1206.60L1067.22 1206.60L1067.80 1206.60L1068.38 1206.60L1068.96 1206.60L1069.54 1206.60L1070.12 1206.60L1070.70 1206.60L1071.28 1206.60L1071.86 1206.60L1072.43 1206.60L1073.01 1206.60L1073.59 1206.60L1074.17 1206.60L1074.75 1206.60L1075.33 1206.60L1075.91 1206.60L1076.49 1206.60L1077.07 1206.60L1077.65 1206.60L1078.23 1196.40L1078.80 1179.92L1079.38 1167.11L1079.96 1154.41L1080.54 1142.79L1081.12 1133.23L1081.70 1125.04L1082.28 1117.48L1082.86 1111.47L1083.44 1107.88L1084.02 1106.05L1084.59 1104.63L1085.17 1103.50L1085.75 1102.57L1086.33 1101.73L1086.91 1100.88L1087.49 1100.09L1088.07 1099.45L1088.65 1098.87L1089.23 1098.25L1089.81 1097.51L1090.38 1096.55L1090.96 1095.05L1091.54 1092.92L1092.12 1090.38L1092.70 1087.65L1093.28 1084.96L1093.86 1082.54L1094.44 1080.30L1095.02 1078.04L1095.60 1075.83L1096.17 1073.69L1096.75 1071.69L1097.33 1069.87L1097.91 1068.20L1098.49 1066.65L1099.07 1065.18L1099.65 1063.79L1100.23 1062.46L1100.81 1061.19L1101.39 1059.87L1101.96 1058.44L1102.54 1056.99L1103.12 1055.61L1103.70 1054.39L1104.28 1053.41L1104.86 1052.76L1105.44 1052.52L1106.02 1052.57L1106.60 1052.69L1107.18 1052.87L1107.75 1053.09L1108.33 1053.35L1108.91 1053.62L1109.49 1053.90L1110.07 1054.15L1110.65 1054.38L1111.23 1054.56L1111.81 1054.68L1112.39 1054.72L1112.97 1054.66L1113.55 1054.47L1114.12 1054.18L1114.70 1053.79L1115.28 1053.31L1115.86 1052.77L1116.44 1052.16L1117.02 1051.51L1117.60 1050.83L1118.18 1050.12L1118.76 1049.27L1119.34 1048.15L1119.91 1046.82L1120.49 1045.32L1121.07 1043.70L1121.65 1042.01L1122.23 1040.29L1122.81 1038.58L1123.39 1036.83L1123.97 1034.95L1124.55 1032.96L1125.13 1030.90L1125.70 1028.80L1126.28 1026.67L1126.86 1024.54L1127.44 1022.44L1128.02 1020.34L1128.60 1018.20L1129.18 1016.02L1129.76 1013.84L1130.34 1011.67L1130.92 1009.52L1131.49 1007.42L1132.07 1005.37L1132.65 1003.30L1133.23 1001.17L1133.81 999.04L1134.39 996.95L1134.97 994.95L1135.55 993.11L1136.13 991.47L1136.71 990.09L1137.28 988.87L1137.86 987.69L1138.44 986.55L1139.02 985.48L1139.60 984.49L1140.18 983.59L1140.76 982.79L1141.34 982.11L1141.92 981.56L1142.50 981.15L1143.07 980.83L1143.65 980.53L1144.23 980.24L1144.81 979.98L1145.39 979.74L1145.97 979.54L1146.55 979.38L1147.13 979.26L1147.71 979.18L1148.29 979.15L1148.86 979.18L1149.44 979.27L1150.02 979.41L1150.60 979.60L1151.18 979.81L1151.76 980.06L1152.34 980.32L1152.92 980.60L1153.50 980.88L1154.08 981.15L1154.66 981.45L1155.23 981.79L1155.81 982.16L1156.39 982.56L1156.97 983.00L1157.55 983.46L1158.13 983.94L1158.71 984.43L1159.29 984.94L1159.87 985.46L1160.45 985.97L1161.02 986.49L1161.60 987.03L1162.18 987.61L1162.76 988.22L1163.34 988.85L1163.92 989.50L1164.50 990.16L1165.08 990.82L1165.66 991.47L1166.24 992.10L1166.81 992.71L1167.39 993.29L1167.97 993.83L1168.55 994.34L1169.13 994.86L1169.71 995.36L1170.29 995.86L1170.87 996.35L1171.45 996.82L1172.03 997.28L1172.60 997.71L1173.18 998.12L1173.76 998.50L1174.34 998.85L1174.92 999.16L1175.50 999.46L1176.08 999.74L1176.66 1000.01L1177.24 1000.27L1177.82 1000.52L1178.39 1000.76L1178.97 1000.98L1179.55 1001.19L1180.13 1001.38L1180.71 1001.55L1181.29 1001.70L1181.87 1001.83L1182.45 1001.94L1183.03 1002.04L1183.61 1002.12L1184.18 1002.19L1184.76 1002.25L1185.34 1002.32L1185.92 1002.38L1186.50 1002.45L1187.08 1002.52L1187.66 1002.61L1188.24 1002.71L1188.82 1002.83L1189.40 1002.98L1189.98 1003.17L1190.55 1003.39L1191.13 1003.64L1191.71 1003.92L1192.29 1004.23L1192.87 1004.57L1193.45 1004.92L1194.03 1005.29L1194.61 1005.68L1195.19 1006.09L1195.77 1006.50L1196.34 1006.95L1196.92 1007.47L1197.50 1008.05L1198.08 1008.68L1198.66 1009.35L1199.24 1010.05L1199.82 1010.78L1200.40 1011.52L1200.98 1012.27L1201.56 1013.03L1202.13 1013.77L1202.71 1014.50L1203.29 1015.24L1203.87 1015.99L1204.45 1016.76L1205.03 1017.55L1205.61 1018.34L1206.19 1019.15L1206.77 1019.97L1207.35 1020.79L1207.92 1021.61L1208.50 1022.43L1209.08 1023.24L1209.66 1024.05L1210.24 1024.86L1210.82 1025.64L1211.40 1026.42L1211.98 1027.18L1212.56 1027.92L1213.14 1028.67L1213.71 1029.41L1214.29 1030.15L1214.87 1030.89L1215.45 1031.62L1216.03 1032.34L1216.61 1033.06L1217.19 1033.77L1217.77 1034.48L1218.35 1035.18L1218.93 1035.87L1219.50 1036.54L1220.08 1037.21L1220.66 1037.87L1221.24 1038.52L1221.82 1039.15L1222.40 1039.78L1222.98 1040.41L1223.56 1041.02L1224.14 1041.63L1224.72 1042.24L1225.29 1042.83L1225.87 1043.42L1226.45 1044.00L1227.03 1044.58L1227.61 1045.14L1228.19 1045.70L1228.77 1046.25L1229.35 1046.80L1229.93 1047.33L1230.51 1047.85L1231.09 1048.37L1231.66 1048.89L1232.24 1049.40L1232.82 1049.91L1233.40 1050.41L1233.98 1050.91L1234.56 1051.40L1235.14 1051.89L1235.72 1052.37L1236.30 1052.84L1236.88 1053.31L1237.45 1053.77L1238.03 1054.23L1238.61 1054.67L1239.19 1055.11L1239.77 1055.55L1240.35 1055.97L1240.93 1056.39L1241.51 1056.79L1242.09 1057.19L1242.67 1057.58L1243.24 1057.96L1243.82 1058.34L1244.40 1058.71L1244.98 1059.07L1245.56 1059.43L1246.14 1059.78L1246.72 1060.13L1247.30 1060.47L1247.88 1060.80L1248.46 1061.14L1249.03 1061.47L1249.61 1061.79L1250.19 1062.11L1250.77 1062.43L1251.35 1062.75L1251.93 1063.06L1252.51 1063.37L1253.09 1063.69L1253.67 1064.00L1254.25 1064.30L1254.82 1064.61L1255.40 1064.91L1255.98 1065.21L1256.56 1065.51L1257.14 1065.81L1257.72 1066.10L1258.30 1066.39L1258.88 1066.68L1259.46 1066.97L1260.04 1067.25L1260.61 1067.53L1261.19 1067.81L1261.77 1068.08L1262.35 1068.35L1262.93 1068.62L1263.51 1068.89L1264.09 1069.15L1264.67 1069.41L1265.25 1069.66L1265.83 1069.92L1266.41 1070.18L1266.98 1070.43L1267.56 1070.69L1268.14 1070.95L1268.72 1071.20L1269.30 1071.46L1269.88 1071.72L1270.46 1071.97L1271.04 1072.23L1271.62 1072.48L1272.20 1072.73L1272.77 1072.98L1273.35 1073.23L1273.93 1073.48L1274.51 1073.72L1275.09 1073.96L1275.67 1074.20L1276.25 1074.43L1276.83 1074.66L1277.41 1074.89L1277.99 1075.11L1278.56 1075.33L1279.14 1075.55L1279.72 1075.76L1280.30 1075.96L1280.88 1076.16L1281.46 1076.36L1282.04 1076.55L1282.62 1076.73L1283.20 1076.91L1283.78 1077.08L1284.35 1077.24L1284.93 1077.40L1285.51 1077.56L1286.09 1077.71L1286.67 1077.86L1287.25 1078.00L1287.83 1078.15L1288.41 1078.29L1288.99 1078.44L1289.57 1078.57L1290.14 1078.71L1290.72 1078.85L1291.30 1078.98L1291.88 1079.11L1292.46 1079.24L1293.04 1079.37L1293.62 1079.49L1294.20 1079.61L1294.78 1079.73L1295.36 1079.85L1295.93 1079.97L1296.51 1080.08L1297.09 1080.19L1297.67 1080.30L1298.25 1080.41L1298.83 1080.52L1299.41 1080.62L1299.99 1080.72L1300.57 1080.82L1301.15 1080.91L1301.72 1081.01L1302.30 1081.10L1302.88 1081.19L1303.46 1081.28L1304.04 1081.36L1304.62 1081.45L1305.20 1081.53L1305.78 1081.60L1306.36 1081.68L1306.94 1081.76L1307.52 1081.83L1308.09 1081.91L1308.67 1081.99L1309.25 1082.06L1309.83 1082.14L1310.41 1082.21L1310.99 1082.29L1311.57 1082.36L1312.15 1082.43L1312.73 1082.50L1313.31 1082.57L1313.88 1082.64L1314.46 1082.71L1315.04 1082.78L1315.62 1082.84L1316.20 1082.91L1316.78 1082.97L1317.36 1083.03L1317.94 1083.09L1318.52 1083.15L1319.10 1083.20L1319.67 1083.26L1320.25 1083.31L1320.83 1083.36L1321.41 1083.40L1321.99 1083.45L1322.57 1083.49L1323.15 1083.53L1323.73 1083.57L1324.31 1083.60L1324.89 1083.64L1325.46 1083.66L1326.04 1083.69L1326.62 1083.71L1327.20 1083.73L1327.32 1083.74L1327.78 1083.75L1328.36 1083.77L1328.94 1083.79L1329.52 1083.81L1330.10 1083.82L1330.68 1083.84L1331.25 1083.86L1331.83 1083.87L1332.41 1083.89L1332.99 1083.90L1333.57 1083.92L1334.15 1083.94L1334.73 1083.95L1335.31 1083.96L1335.89 1083.98L1336.47 1083.99L1337.04 1084.00L1337.62 1084.02L1338.20 1084.03L1338.78 1084.04L1339.36 1084.05L1339.94 1084.06L1340.52 1084.07L1341.10 1084.08L1341.68 1084.09L1342.26 1084.10L1342.84 1084.10L1343.41 1084.11L1343.99 1084.12L1344.57 1084.12L1345.15 1084.13L1345.73 1084.13L1346.31 1084.13L1346.89 1084.14L1347.47 1084.14L1348.05 1084.14L1348.63 1084.14L1349.20 1084.14L1349.78 1084.14L1350.36 1084.14L1350.94 1084.13L1351.52 1084.13L1352.10 1084.12L1352.68 1084.12L1353.26 1084.11L1353.84 1084.11L1354.42 1084.10L1354.99 1084.09L1355.57 1084.08L1356.15 1084.07L1356.73 1084.06L1357.31 1084.05L1357.89 1084.04L1358.47 1084.03L1359.05 1084.02L1359.63 1084.01L1360.21 1083.99L1360.78 1083.98L1361.36 1083.97L1361.94 1083.95L1362.52 1083.94L1363.10 1083.92L1363.68 1083.91L1364.26 1083.89L1364.84 1083.88L1365.42 1083.86L1366.00 1083.84L1366.57 1083.83L1367.15 1083.81L1367.73 1083.79L1368.31 1083.77L1368.89 1083.76L1369.47 1083.74L1370.05 1083.72L1370.63 1083.70L1371.21 1083.67L1371.79 1083.64L1372.36 1083.61L1372.94 1083.58L1373.52 1083.54L1374.10 1083.51L1374.68 1083.47L1375.26 1083.43L1375.84 1083.39L1376.42 1083.35L1377.00 1083.31L1377.58 1083.26L1378.15 1083.22L1378.73 1083.18L1379.31 1083.13L1379.89 1083.09L1380.47 1083.05L1381.05 1083.00L1381.63 1082.96L1382.21 1082.92L1382.79 1082.88L1383.37 1082.83L1383.95 1082.79L1384.52 1082.74L1385.10 1082.70L1385.68 1082.65L1386.26 1082.60L1386.84 1082.55L1387.42 1082.51L1388.00 1082.46L1388.58 1082.41L1389.16 1082.36L1389.74 1082.31L1390.31 1082.26L1390.89 1082.21L1391.47 1082.15L1392.05 1082.10L1392.63 1082.05L1393.21 1082.00L1393.79 1081.95L1394.37 1081.90L1394.95 1081.84L1395.53 1081.79L1396.10 1081.74L1396.68 1081.69L1397.26 1081.64L1397.84 1081.58L1398.42 1081.53L1399.00 1081.48L1399.58 1081.43L1400.16 1081.38L1400.74 1081.33L1401.32 1081.28L1401.89 1081.23L1402.47 1081.18L1403.05 1081.13L1403.63 1081.08L1404.21 1081.03L1404.79 1080.98L1405.37 1080.94L1405.95 1080.89L1406.53 1080.84L1407.11 1080.80L1407.68 1080.75L1408.26 1080.70L1408.84 1080.65L1409.42 1080.61L1410.00 1080.56L1410.58 1080.51L1411.16 1080.46L1411.74 1080.41L1412.32 1080.37L1412.90 1080.32L1413.47 1080.27L1414.05 1080.22L1414.63 1080.17L1415.21 1080.13L1415.79 1080.08L1416.37 1080.03L1416.95 1079.98L1417.53 1079.94L1418.11 1079.89L1418.69 1079.84L1419.27 1079.80L1419.84 1079.75L1420.42 1079.70L1421.00 1079.66L1421.58 1079.61L1422.16 1079.57L1422.74 1079.52L1423.32 1079.48L1423.90 1079.43L1424.48 1079.39L1425.06 1079.35L1425.63 1079.31L1426.21 1079.26L1426.79 1079.22L1427.37 1079.18L1427.95 1079.14L1428.53 1079.10L1429.11 1079.06L1429.69 1079.02L1430.27 1078.98L1430.85 1078.95L1431.42 1078.91L1432.00 1078.87L1432.58 1078.84L1433.16 1078.80L1433.74 1078.77L1434.32 1078.74L1434.90 1078.70L1435.48 1078.67L1436.06 1078.64L1436.64 1078.61L1437.21 1078.58L1437.79 1078.55L1438.37 1078.52L1438.95 1078.49L1439.53 1078.46L1440.11 1078.44L1440.69 1078.41L1441.27 1078.38L1441.85 1078.35L1442.43 1078.33L1443.00 1078.30L1443.58 1078.28L1444.16 1078.25L1444.74 1078.23L1445.32 1078.20L1445.90 1078.18L1446.48 1078.15L1447.06 1078.13L1447.64 1078.10L1448.22 1078.08L1448.79 1078.05L1449.37 1078.03L1449.95 1078.00L1450.53 1077.98L1451.11 1077.95L1451.69 1077.93L1452.27 1077.90L1452.85 1077.87L1453.43 1077.85L1454.01 1077.82L1454.58 1077.79L1455.16 1077.77L1455.74 1077.74L1456.32 1077.71L1456.90 1077.68L1457.48 1077.65L1458.06 1077.62L1458.64 1077.59L1459.22 1077.56L1459.80 1077.53L1460.38 1077.50L1460.95 1077.47L1461.53 1077.44L1462.11 1077.40L1462.69 1077.37L1463.27 1077.33L1463.85 1077.29L1464.43 1077.25L1465.01 1077.21L1465.59 1077.17L1466.17 1077.13L1466.74 1077.09L1467.32 1077.04L1467.90 1076.99L1468.48 1076.95L1469.06 1076.90L1469.64 1076.85L1470.22 1076.80L1470.80 1076.75L1471.38 1076.70L1471.96 1076.65L1472.53 1076.60L1473.11 1076.54L1473.69 1076.49L1474.27 1076.44L1474.85 1076.38L1475.43 1076.33L1476.01 1076.27L1476.59 1076.22L1477.17 1076.16L1477.75 1076.11L1478.32 1076.05L1478.90 1076.00L1479.48 1075.94L1480.06 1075.89L1480.64 1075.84L1481.22 1075.78L1481.80 1075.73L1482.38 1075.67L1482.96 1075.62L1483.54 1075.57L1484.11 1075.52L1484.69 1075.47L1485.27 1075.41L1485.85 1075.36L1486.43 1075.32L1487.01 1075.27L1487.59 1075.22L1488.17 1075.17L1488.75 1075.13L1489.33 1075.08L1489.90 1075.04L1490.48 1075.00L1491.06 1074.95L1491.64 1074.91L1492.22 1074.88L1492.80 1074.84L1493.38 1074.80L1493.96 1074.77L1494.54 1074.74L1495.12 1074.70L1495.70 1074.67L1496.27 1074.65L1496.85 1074.62L1497.43 1074.60L1498.01 1074.57L1498.59 1074.55L1499.17 1074.53L1499.75 1074.52L1500.33 1074.50L1500.91 1074.48L1501.49 1074.46L1502.06 1074.45L1502.64 1074.43L1503.22 1074.42L1503.80 1074.40L1504.38 1074.38L1504.96 1074.37L1505.54 1074.35L1506.12 1074.34L1506.70 1074.32L1507.28 1074.30L1507.85 1074.29L1508.43 1074.28L1509.01 1074.26L1509.59 1074.25L1510.17 1074.23L1510.75 1074.22L1511.33 1074.20L1511.91 1074.19L1512.49 1074.18L1513.07 1074.16L1513.64 1074.15L1514.22 1074.14L1514.80 1074.12L1515.38 1074.11L1515.96 1074.10L1516.54 1074.08L1517.12 1074.07L1517.70 1074.06L1518.28 1074.05L1518.86 1074.04L1519.43 1074.02L1520.01 1074.01L1520.59 1074.00L1521.17 1073.99L1521.75 1073.98L1522.33 1073.97L1522.91 1073.96L1523.49 1073.95L1524.07 1073.93L1524.65 1073.92L1525.22 1073.91L1525.80 1073.90L1526.38 1073.89L1526.96 1073.88L1527.54 1073.87L1528.12 1073.86L1528.70 1073.85L1529.28 1073.84L1529.86 1073.83L1530.44 1073.83L1531.01 1073.82L1531.59 1073.81L1532.17 1073.80L1532.75 1073.79L1533.33 1073.78L1533.91 1073.77L1534.49 1073.76L1535.07 1073.76L1535.65 1073.75L1536.23 1073.74L1536.81 1073.73L1537.38 1073.72L1537.96 1073.72L1538.54 1073.71L1539.12 1073.70L1539.70 1073.69L1540.28 1073.69L1540.86 1073.68L1541.44 1073.67L1542.02 1073.66L1542.60 1073.66L1543.17 1073.65L1543.75 1073.64L1544.33 1073.64L1544.91 1073.63L1545.49 1073.62L1546.07 1073.62L1546.65 1073.61L1547.23 1073.61L1547.81 1073.60L1548.39 1073.59L1548.96 1073.59L1549.54 1073.58L1550.12 1073.58L1550.70 1073.57L1551.28 1073.57L1551.86 1073.56L1552.44 1073.55L1553.02 1073.55L1553.60 1073.54L1554.18 1073.54L1554.75 1073.53L1555.33 1073.53L1555.91 1073.52L1556.49 1073.52L1557.07 1073.51L1557.65 1073.51L1558.23 1073.50L1558.81 1073.50L1559.39 1073.49L1559.97 1073.49L1560.54 1073.48L1561.12 1073.48L1561.70 1073.47L1562.28 1073.47L1562.86 1073.46L1563.44 1073.46L1564.02 1073.45L1564.60 1073.45L1565.18 1073.44L1565.76 1073.44L1566.33 1073.43L1566.91 1073.43L1567.49 1073.42L1568.07 1073.42L1568.65 1073.41L1569.23 1073.41L1569.81 1073.41L1570.39 1073.40L1570.97 1073.40L1571.55 1073.39L1572.13 1073.39L1572.70 1073.38L1573.28 1073.38L1573.86 1073.37L1574.44 1073.37L1575.02 1073.36L1575.60 1073.36L1576.18 1073.36L1576.76 1073.35L1577.34 1073.35L1577.92 1073.34L1578.49 1073.34L1579.07 1073.33L1579.65 1073.33L1580.23 1073.33L1580.81 1073.32L1581.39 1073.32L1581.97 1073.31L1582.55 1073.31L1583.13 1073.31L1583.71 1073.30L1584.28 1073.30L1584.86 1073.30L1585.44 1073.29L1586.02 1073.29L1586.60 1073.29L1587.18 1073.28L1587.76 1073.28L1588.34 1073.28L1588.92 1073.27L1589.50 1073.27L1590.07 1073.27L1590.65 1073.26L1591.23 1073.26L1591.81 1073.26L1592.39 1073.25L1592.97 1073.25L1593.55 1073.25L1594.13 1073.25L1594.71 1073.24L1595.29 1073.24L1595.86 1073.24L1596.44 1073.24L1597.02 1073.23L1597.60 1073.23L1598.18 1073.23L1598.76 1073.23L1599.34 1073.22L1599.92 1073.22L1600.50 1073.22L1601.08 1073.22L1601.65 1073.22L1602.23 1073.22L1602.81 1073.21L1603.39 1073.21L1603.97 1073.21L1604.55 1073.21L1605.13 1073.21L1605.71 1073.21L1606.29 1073.21L1606.87 1073.20L1607.44 1073.20L1608.02 1073.20L1608.60 1073.20L1609.18 1073.20L1609.76 1073.20L1610.34 1073.20L1610.92 1073.20L1611.50 1073.20L1612.08 1073.20L1612.66 1073.20L1613.24 1073.20L1613.81 1073.20L1614.39 1073.20L1614.97 1073.20L1615.55 1073.20L1616.13 1073.20L1616.71 1073.20L1617.29 1073.20L1617.87 1073.20L1618.45 1073.20L1619.03 1073.20L1619.60 1073.20L1620.18 1073.20L1620.76 1073.20L1621.34 1073.20L1621.92 1073.20L1622.50 1073.20L1623.08 1073.20L1623.66 1073.20L1624.24 1073.20L1624.82 1073.20L1625.39 1073.20L1625.97 1073.20L1626.55 1073.20L1627.13 1073.20L1627.71 1073.20L1628.29 1073.20L1628.87 1073.20L1629.45 1073.20L1630.03 1073.20L1630.61 1073.20L1631.18 1073.20L1631.76 1073.20L1632.34 1073.20L1632.92 1073.20L1633.50 1073.20L1634.08 1073.20L1634.66 1073.20L1635.24 1073.20L1635.82 1073.20L1636.40 1073.20L1636.97 1073.20L1637.55 1073.20L1638.13 1073.20L1638.71 1073.20L1639.29 1073.20L1639.87 1073.20L1640.45 1073.20L1641.03 1073.20L1641.61 1073.20L1642.19 1073.20L1642.76 1073.20L1643.34 1073.20L1643.92 1073.20L1644.50 1073.20L1645.08 1073.20L1645.66 1073.20L1646.24 1073.20L1646.82 1073.20L1647.40 1073.20L1647.98 1073.20L1648.56 1073.20L1649.13 1073.20L1649.71 1073.20L1650.29 1073.20L1650.87 1073.20L1651.45 1073.20L1652.03 1073.20L1652.61 1073.20L1653.19 1073.20L1653.77 1073.20L1654.35 1073.20L1654.92 1073.20L1655.50 1073.20L1656.08 1073.20L1656.66 1073.20L1657.24 1073.20L1657.82 1073.20L1658.40 1073.20L1658.98 1073.20L1659.56 1073.20L1660.14 1073.20L1660.71 1073.20L1661.29 1073.20L1661.87 1073.20L1662.45 1073.20L1663.03 1073.20L1663.61 1073.20L1664.19 1073.20L1664.77 1073.20L1665.35 1073.20L1665.93 1073.20L1666.50 1073.20L1667.08 1073.20L1667.66 1073.20L1668.24 1073.20L1668.82 1073.20L1669.40 1073.20L1669.98 1073.20L1670.56 1073.20L1671.14 1073.20L1671.72 1073.20L1672.29 1073.20L1672.87 1073.20L1673.45 1073.20L1674.03 1073.20L1674.61 1073.20L1675.19 1073.20L1675.77 1073.20L1676.35 1073.20L1676.93 1073.20L1677.51 1073.20L1678.08 1073.20L1678.66 1073.20L1679.24 1073.20L1679.82 1073.20L1680.40 1073.20L1680.98 1073.20L1681.56 1073.20L1682.14 1073.20L1682.72 1073.20L1683.30 1073.20L1683.87 1073.20L1684.45 1073.20L1685.03 1073.20L1685.61 1073.20L1686.19 1073.20L1686.77 1073.20L1687.35 1073.20L1687.93 1073.20L1688.51 1073.20L1689.09 1073.20L1689.67 1073.20L1690.24 1073.20L1690.82 1073.20L1691.40 1073.20L1691.98 1073.20L1692.56 1073.20L1693.14 1073.20L1693.72 1073.20L1694.30 1073.20L1694.88 1073.20L1695.46 1073.20L1696.03 1073.20L1696.61 1073.20L1697.19 1073.20L1697.77 1073.20L1698.35 1073.20L1698.93 1073.20L1699.51 1073.20L1700.09 1073.20L1700.67 1073.20L1701.25 1073.20L1701.82 1073.20L1702.40 1073.20L1702.98 1073.20L1703.56 1073.20L1704.14 1073.20L1704.72 1073.20L1705.30 1073.20L1705.88 1073.20L1706.46 1073.20L1707.04 1073.20L1707.61 1073.20L1708.19 1073.20L1708.77 1073.20L1709.35 1073.20L1709.93 1073.20L1710.51 1073.20L1711.09 1073.20L1711.67 1073.20L1712.25 1073.20L1712.83 1073.20L1713.40 1073.20L1713.98 1073.20L1714.56 1073.20L1715.14 1073.20L1715.72 1073.20L1716.30 1073.20L1716.88 1073.20L1717.46 1073.20L1718.04 1073.20L1718.62 1073.20L1719.19 1073.20L1719.77 1073.20L1720.35 1073.20L1720.93 1073.20L1721.51 1073.20L1722.09 1073.20L1722.67 1073.20L1723.25 1073.20L1723.83 1073.20L1724.41 1073.20L1724.99 1073.20L1725.56 1073.20L1726.14 1073.20L1726.72 1073.20L1727.30 1073.20L1727.88 1073.20L1728.46 1073.20" stroke="#1d6874" stroke-width="3.20" fill="none" stroke-linejoin="round" stroke-linecap="square" clip-path="url(#clipF)"/>
<path d="M1033.64 1073.20L1034.22 1069.59L1034.80 1065.87L1035.38 1062.02L1035.96 1058.06L1036.54 1053.99L1037.12 1049.82L1037.69 1045.55L1038.27 1041.18L1038.85 1036.66L1039.43 1031.93L1040.01 1027.05L1040.59 1022.06L1041.17 1016.99L1041.75 1011.91L1042.33 1006.84L1042.91 1001.83L1043.48 996.88L1044.06 991.93L1044.64 986.97L1045.22 981.98L1045.80 976.94L1046.38 971.82L1046.96 965.86L1047.54 958.93L1048.12 951.94L1048.70 945.81L1049.27 941.45L1049.85 939.80L1050.43 939.80L1051.01 939.80L1051.59 939.80L1052.17 939.80L1052.75 939.80L1053.33 939.80L1053.91 939.80L1054.49 939.80L1055.06 939.80L1055.64 939.80L1056.22 939.80L1056.80 939.80L1057.38 939.80L1057.96 939.80L1058.54 939.80L1059.12 939.80L1059.70 939.80L1060.28 939.80L1060.85 939.80L1061.43 939.80L1062.01 939.80L1062.59 939.80L1063.17 939.80L1063.75 939.80L1064.33 939.80L1064.91 939.80L1065.49 939.80L1066.07 939.80L1066.64 939.80L1067.22 939.80L1067.80 939.80L1068.38 939.80L1068.96 939.80L1069.54 939.80L1070.12 939.80L1070.70 939.80L1071.28 939.80L1071.86 939.80L1072.43 939.80L1073.01 939.80L1073.59 939.80L1074.17 939.80L1074.75 939.80L1075.33 939.80L1075.91 939.80L1076.49 939.80L1077.07 939.80L1077.65 939.80L1078.23 939.80L1078.80 939.80L1079.38 939.80L1079.96 939.80L1080.54 939.80L1081.12 939.80L1081.70 939.80L1082.28 939.80L1082.86 939.80L1083.44 939.80L1084.02 939.80L1084.59 939.80L1085.17 943.10L1085.75 951.21L1086.33 961.46L1086.91 971.15L1087.49 980.23L1088.07 989.94L1088.65 999.60L1089.23 1008.50L1089.81 1016.81L1090.38 1025.04L1090.96 1032.95L1091.54 1040.31L1092.12 1046.91L1092.70 1052.52L1093.28 1057.47L1093.86 1062.13L1094.44 1066.40L1095.02 1070.14L1095.60 1073.23L1096.17 1075.53L1096.75 1077.27L1097.33 1078.76L1097.91 1080.05L1098.49 1081.18L1099.07 1082.20L1099.65 1083.16L1100.23 1084.09L1100.81 1085.04L1101.39 1086.07L1101.96 1087.21L1102.54 1088.39L1103.12 1089.54L1103.70 1090.67L1104.28 1091.83L1104.86 1093.04L1105.44 1094.32L1106.02 1095.70L1106.60 1097.21L1107.18 1098.93L1107.75 1100.86L1108.33 1102.98L1108.91 1105.22L1109.49 1107.55L1110.07 1109.91L1110.65 1112.26L1111.23 1114.55L1111.81 1116.84L1112.39 1119.18L1112.97 1121.55L1113.55 1123.94L1114.12 1126.33L1114.70 1128.68L1115.28 1130.99L1115.86 1133.23L1116.44 1135.50L1117.02 1137.87L1117.60 1140.29L1118.18 1142.71L1118.76 1145.06L1119.34 1147.29L1119.91 1149.34L1120.49 1151.17L1121.07 1152.71L1121.65 1153.91L1122.23 1154.91L1122.81 1155.89L1123.39 1156.83L1123.97 1157.71L1124.55 1158.50L1125.13 1159.20L1125.70 1159.77L1126.28 1160.21L1126.86 1160.48L1127.44 1160.58L1128.02 1160.47L1128.60 1160.18L1129.18 1159.73L1129.76 1159.13L1130.34 1158.42L1130.92 1157.61L1131.49 1156.73L1132.07 1155.81L1132.65 1154.86L1133.23 1153.91L1133.81 1152.86L1134.39 1151.63L1134.97 1150.23L1135.55 1148.69L1136.13 1147.04L1136.71 1145.30L1137.28 1143.49L1137.86 1141.63L1138.44 1139.76L1139.02 1137.90L1139.60 1135.98L1140.18 1133.93L1140.76 1131.79L1141.34 1129.58L1141.92 1127.33L1142.50 1125.06L1143.07 1122.79L1143.65 1120.56L1144.23 1118.38L1144.81 1116.25L1145.39 1114.12L1145.97 1111.98L1146.55 1109.78L1147.13 1107.50L1147.71 1105.10L1148.29 1102.55L1148.86 1099.72L1149.44 1096.61L1150.02 1093.33L1150.60 1090.03L1151.18 1086.83L1151.76 1083.87L1152.34 1081.17L1152.92 1078.61L1153.50 1076.13L1154.08 1073.69L1154.66 1071.22L1155.23 1068.66L1155.81 1066.04L1156.39 1063.37L1156.97 1060.69L1157.55 1057.98L1158.13 1055.25L1158.71 1052.52L1159.29 1049.77L1159.87 1046.98L1160.45 1044.18L1161.02 1041.38L1161.60 1038.59L1162.18 1035.85L1162.76 1033.16L1163.34 1030.51L1163.92 1027.88L1164.50 1025.25L1165.08 1022.57L1165.66 1019.84L1166.24 1017.07L1166.81 1014.28L1167.39 1011.45L1167.97 1008.56L1168.55 1005.59L1169.13 1002.50L1169.71 999.20L1170.29 995.67L1170.87 991.99L1171.45 988.26L1172.03 984.55L1172.60 980.96L1173.18 977.58L1173.76 974.48L1174.34 971.61L1174.92 968.82L1175.50 966.13L1176.08 963.54L1176.66 961.08L1177.24 958.74L1177.82 956.53L1178.39 954.47L1178.97 952.50L1179.55 950.59L1180.13 948.78L1180.71 947.13L1181.29 945.67L1181.87 944.47L1182.45 943.39L1183.03 942.32L1183.61 941.34L1184.18 940.54L1184.76 940.00L1185.34 939.80L1185.92 939.80L1186.50 939.80L1187.08 939.80L1187.66 939.80L1188.24 939.80L1188.82 939.80L1189.40 939.80L1189.98 939.80L1190.55 939.80L1191.13 939.80L1191.71 939.80L1192.29 939.80L1192.87 939.80L1193.45 939.80L1194.03 939.80L1194.61 939.80L1195.19 939.80L1195.77 939.80L1196.34 939.80L1196.92 939.98L1197.50 940.47L1198.08 941.17L1198.66 942.02L1199.24 942.92L1199.82 943.80L1200.40 944.69L1200.98 945.68L1201.56 946.75L1202.13 947.91L1202.71 949.14L1203.29 950.45L1203.87 951.81L1204.45 953.30L1205.03 954.98L1205.61 956.81L1206.19 958.73L1206.77 960.70L1207.35 962.67L1207.92 964.60L1208.50 966.45L1209.08 968.16L1209.20 968.48L1209.66 969.75L1210.24 971.30L1210.82 972.82L1211.40 974.32L1211.98 975.78L1212.56 977.21L1213.14 978.62L1213.71 979.99L1214.29 981.34L1214.87 982.67L1215.45 983.97L1216.03 985.24L1216.61 986.49L1217.19 987.72L1217.77 988.93L1218.35 990.12L1218.93 991.30L1219.50 992.46L1220.08 993.60L1220.66 994.72L1221.24 995.82L1221.82 996.91L1222.40 997.97L1222.98 999.01L1223.56 1000.04L1224.14 1001.04L1224.72 1002.02L1225.29 1002.98L1225.41 1003.17L1225.87 1003.92L1226.45 1004.86L1227.03 1005.80L1227.61 1006.74L1228.19 1007.67L1228.77 1008.59L1229.35 1009.51L1229.93 1010.41L1230.51 1011.31L1231.09 1012.20L1231.66 1013.07L1232.24 1013.93L1232.82 1014.78L1233.40 1015.61L1233.98 1016.42L1234.56 1017.22L1235.14 1017.99L1235.72 1018.75L1236.30 1019.48L1236.88 1020.19L1237.45 1020.88L1238.03 1021.54L1238.61 1022.17L1239.19 1022.78L1239.77 1023.35L1240.00 1023.58L1240.35 1023.90L1240.93 1024.44L1241.51 1024.97L1242.09 1025.49L1242.67 1026.00L1243.24 1026.50L1243.82 1026.99L1244.40 1027.48L1244.98 1027.95L1245.56 1028.42L1246.14 1028.88L1246.72 1029.33L1247.30 1029.77L1247.88 1030.21L1248.46 1030.63L1249.03 1031.05L1249.61 1031.47L1250.19 1031.87L1250.77 1032.27L1251.35 1032.67L1251.93 1033.05L1252.51 1033.43L1253.09 1033.81L1253.67 1034.18L1254.25 1034.54L1254.82 1034.90L1255.40 1035.25L1255.98 1035.60L1256.56 1035.94L1257.14 1036.28L1257.72 1036.62L1258.30 1036.95L1258.88 1037.27L1259.46 1037.60L1260.04 1037.92L1260.61 1038.23L1261.19 1038.54L1261.77 1038.85L1262.35 1039.16L1262.93 1039.46L1263.16 1039.58L1263.51 1039.76L1264.09 1040.06L1264.67 1040.35L1265.25 1040.64L1265.83 1040.93L1266.41 1041.21L1266.98 1041.49L1267.56 1041.76L1268.14 1042.03L1268.72 1042.30L1269.30 1042.56L1269.88 1042.82L1270.46 1043.08L1271.04 1043.33L1271.62 1043.59L1272.20 1043.84L1272.77 1044.08L1273.35 1044.33L1273.93 1044.57L1274.51 1044.81L1275.09 1045.04L1275.67 1045.28L1276.25 1045.51L1276.83 1045.74L1277.41 1045.97L1277.99 1046.20L1278.56 1046.43L1279.14 1046.65L1279.72 1046.87L1280.30 1047.09L1280.88 1047.31L1281.46 1047.53L1282.04 1047.75L1282.62 1047.97L1283.20 1048.19L1283.78 1048.40L1284.35 1048.62L1284.93 1048.83L1285.51 1049.05L1286.09 1049.26L1286.67 1049.47L1287.25 1049.69L1287.83 1049.90L1288.41 1050.11L1288.99 1050.33L1289.57 1050.54L1290.14 1050.76L1290.72 1050.97L1291.30 1051.19L1291.88 1051.40L1292.46 1051.62L1293.04 1051.84L1293.62 1052.06L1294.20 1052.28L1294.78 1052.50L1295.01 1052.59L1295.36 1052.72L1295.93 1052.95L1296.51 1053.17L1297.09 1053.40L1297.67 1053.63L1298.25 1053.86L1298.83 1054.09L1299.41 1054.32L1299.99 1054.55L1300.57 1054.78L1301.15 1055.02L1301.72 1055.25L1302.30 1055.48L1302.88 1055.72L1303.46 1055.95L1304.04 1056.19L1304.62 1056.42L1305.20 1056.66L1305.78 1056.89L1306.36 1057.13L1306.94 1057.36L1307.52 1057.60L1308.09 1057.83L1308.67 1058.06L1309.25 1058.30L1309.83 1058.53L1310.41 1058.76L1310.99 1058.99L1311.57 1059.22L1312.15 1059.45L1312.73 1059.67L1313.31 1059.90L1313.88 1060.12L1314.46 1060.34L1315.04 1060.56L1315.62 1060.78L1316.20 1061.00L1316.78 1061.22L1317.36 1061.43L1317.94 1061.64L1318.52 1061.85L1319.10 1062.06L1319.67 1062.26L1320.25 1062.46L1320.83 1062.66L1321.41 1062.86L1321.99 1063.06L1322.57 1063.25L1323.15 1063.44L1323.73 1063.62L1324.31 1063.81L1324.89 1063.99L1325.46 1064.16L1326.04 1064.34L1326.62 1064.50L1327.20 1064.67L1327.78 1064.83L1328.36 1064.99L1328.94 1065.15L1329.52 1065.30L1330.10 1065.45L1330.68 1065.59L1331.25 1065.73L1331.83 1065.87L1332.41 1066.00L1332.99 1066.14L1333.57 1066.27L1334.15 1066.41L1334.73 1066.54L1335.31 1066.67L1335.89 1066.81L1336.47 1066.94L1337.04 1067.07L1337.62 1067.20L1338.20 1067.33L1338.78 1067.46L1339.36 1067.59L1339.94 1067.72L1340.52 1067.84L1341.10 1067.97L1341.68 1068.10L1342.26 1068.22L1342.84 1068.34L1343.41 1068.47L1343.99 1068.59L1344.57 1068.71L1345.15 1068.83L1345.73 1068.95L1346.31 1069.07L1346.89 1069.19L1347.47 1069.31L1348.05 1069.43L1348.63 1069.54L1349.20 1069.66L1349.78 1069.77L1350.36 1069.88L1350.94 1070.00L1351.52 1070.11L1352.10 1070.22L1352.68 1070.33L1353.26 1070.44L1353.84 1070.54L1354.42 1070.65L1354.99 1070.76L1355.57 1070.86L1356.15 1070.96L1356.73 1071.07L1357.31 1071.17L1357.89 1071.27L1358.47 1071.37L1359.05 1071.47L1359.63 1071.56L1360.21 1071.66L1360.78 1071.75L1361.36 1071.85L1361.94 1071.94L1362.52 1072.03L1363.10 1072.12L1363.68 1072.21L1364.26 1072.30L1364.84 1072.39L1365.42 1072.48L1366.00 1072.56L1366.57 1072.64L1367.15 1072.73L1367.73 1072.81L1368.31 1072.89L1368.89 1072.97L1369.47 1073.04L1370.05 1073.12L1370.63 1073.19L1371.21 1073.27L1371.79 1073.34L1372.36 1073.41L1372.94 1073.48L1373.52 1073.55L1374.10 1073.62L1374.68 1073.68L1375.26 1073.75L1375.84 1073.81L1376.42 1073.87L1377.00 1073.93L1377.58 1073.99L1378.15 1074.05L1378.73 1074.10L1379.31 1074.16L1379.89 1074.21L1380.47 1074.26L1381.05 1074.31L1381.63 1074.36L1382.09 1074.40L1382.21 1074.41L1382.79 1074.46L1383.37 1074.50L1383.95 1074.54L1384.52 1074.59L1385.10 1074.63L1385.68 1074.67L1386.26 1074.71L1386.84 1074.75L1387.42 1074.78L1388.00 1074.82L1388.58 1074.86L1389.16 1074.89L1389.74 1074.93L1390.31 1074.96L1390.89 1074.99L1391.47 1075.02L1392.05 1075.06L1392.63 1075.09L1393.21 1075.12L1393.79 1075.15L1394.37 1075.18L1394.95 1075.21L1395.53 1075.24L1396.10 1075.27L1396.68 1075.30L1397.26 1075.33L1397.84 1075.35L1398.42 1075.38L1399.00 1075.41L1399.58 1075.44L1400.16 1075.47L1400.74 1075.50L1401.32 1075.53L1401.89 1075.55L1402.47 1075.58L1403.05 1075.61L1403.63 1075.64L1404.21 1075.67L1404.79 1075.70L1405.37 1075.73L1405.95 1075.77L1406.53 1075.80L1407.11 1075.83L1407.68 1075.87L1408.26 1075.90L1408.84 1075.94L1409.42 1075.97L1410.00 1076.01L1410.58 1076.05L1411.16 1076.09L1411.74 1076.12L1412.32 1076.16L1412.90 1076.20L1413.47 1076.24L1414.05 1076.28L1414.63 1076.32L1415.21 1076.36L1415.79 1076.40L1416.37 1076.44L1416.95 1076.47L1417.53 1076.51L1418.11 1076.55L1418.69 1076.59L1419.27 1076.62L1419.84 1076.66L1420.42 1076.69L1421.00 1076.73L1421.58 1076.76L1422.16 1076.79L1422.74 1076.82L1423.32 1076.85L1423.90 1076.88L1424.48 1076.91L1425.06 1076.94L1425.63 1076.96L1426.21 1076.99L1426.79 1077.01L1427.37 1077.03L1427.95 1077.05L1428.53 1077.07L1429.11 1077.08L1429.69 1077.10L1430.27 1077.11L1430.85 1077.12L1431.42 1077.13L1432.00 1077.13L1432.58 1077.13L1433.16 1077.14L1433.74 1077.14L1434.32 1077.14L1434.90 1077.14L1435.48 1077.14L1436.06 1077.14L1436.64 1077.14L1437.21 1077.14L1437.79 1077.14L1438.37 1077.14L1438.95 1077.14L1439.53 1077.14L1440.11 1077.14L1440.69 1077.14L1441.27 1077.14L1441.85 1077.14L1442.43 1077.14L1443.00 1077.14L1443.58 1077.14L1444.16 1077.14L1444.74 1077.14L1445.32 1077.14L1445.90 1077.14L1446.48 1077.14L1447.06 1077.14L1447.64 1077.14L1448.22 1077.14L1448.79 1077.14L1449.37 1077.14L1449.95 1077.14L1450.53 1077.14L1451.11 1077.14L1451.69 1077.14L1452.27 1077.14L1452.85 1077.14L1453.43 1077.14L1454.01 1077.14L1454.58 1077.14L1455.16 1077.14L1455.74 1077.14L1456.32 1077.14L1456.90 1077.14L1457.48 1077.14L1458.06 1077.14L1458.64 1077.14L1459.22 1077.14L1459.80 1077.14L1460.38 1077.14L1460.95 1077.14L1461.53 1077.14L1462.11 1077.14L1462.69 1077.13L1463.27 1077.13L1463.85 1077.13L1464.43 1077.12L1465.01 1077.12L1465.59 1077.11L1466.17 1077.10L1466.74 1077.10L1467.32 1077.09L1467.90 1077.07L1468.48 1077.06L1469.06 1077.05L1469.64 1077.03L1470.22 1077.02L1470.80 1077.00L1471.38 1076.99L1471.96 1076.97L1472.53 1076.95L1473.11 1076.93L1473.69 1076.91L1474.27 1076.89L1474.85 1076.87L1475.43 1076.85L1476.01 1076.83L1476.59 1076.80L1477.17 1076.78L1477.75 1076.76L1478.32 1076.73L1478.90 1076.71L1479.48 1076.68L1480.06 1076.66L1480.64 1076.63L1481.22 1076.61L1481.80 1076.58L1482.38 1076.56L1482.96 1076.53L1483.54 1076.50L1484.11 1076.48L1484.69 1076.45L1485.27 1076.42L1485.85 1076.40L1486.43 1076.37L1487.01 1076.34L1487.59 1076.32L1488.17 1076.29L1488.75 1076.27L1489.33 1076.24L1489.90 1076.21L1490.48 1076.19L1491.06 1076.16L1491.64 1076.14L1492.22 1076.12L1492.80 1076.09L1493.38 1076.07L1493.96 1076.05L1494.54 1076.02L1495.12 1076.00L1495.70 1075.98L1496.27 1075.96L1496.85 1075.94L1497.43 1075.92L1498.01 1075.90L1498.59 1075.88L1499.17 1075.87L1499.75 1075.85L1500.33 1075.83L1500.91 1075.82L1501.49 1075.80L1502.06 1075.79L1502.64 1075.77L1503.22 1075.75L1503.80 1075.74L1504.38 1075.72L1504.96 1075.70L1505.54 1075.69L1506.12 1075.67L1506.70 1075.65L1507.28 1075.64L1507.85 1075.62L1508.43 1075.61L1509.01 1075.59L1509.59 1075.57L1510.17 1075.56L1510.75 1075.54L1511.33 1075.53L1511.91 1075.51L1512.49 1075.49L1513.07 1075.48L1513.64 1075.46L1514.22 1075.45L1514.80 1075.43L1515.38 1075.41L1515.96 1075.40L1516.54 1075.38L1517.12 1075.37L1517.70 1075.35L1518.28 1075.34L1518.86 1075.32L1519.43 1075.31L1520.01 1075.29L1520.59 1075.27L1521.17 1075.26L1521.75 1075.24L1522.33 1075.23L1522.91 1075.21L1523.49 1075.20L1524.07 1075.18L1524.65 1075.17L1525.22 1075.15L1525.80 1075.14L1526.38 1075.13L1526.96 1075.11L1527.54 1075.10L1528.12 1075.08L1528.70 1075.07L1529.28 1075.05L1529.86 1075.04L1530.44 1075.03L1531.01 1075.01L1531.59 1075.00L1532.17 1074.98L1532.75 1074.97L1533.33 1074.96L1533.91 1074.94L1534.49 1074.93L1535.07 1074.92L1535.65 1074.90L1536.23 1074.89L1536.81 1074.88L1537.38 1074.87L1537.96 1074.85L1538.54 1074.84L1539.12 1074.83L1539.70 1074.81L1540.28 1074.80L1540.86 1074.79L1541.44 1074.78L1542.02 1074.77L1542.60 1074.75L1543.17 1074.74L1543.75 1074.73L1544.33 1074.72L1544.91 1074.71L1545.49 1074.70L1546.07 1074.69L1546.65 1074.67L1547.23 1074.66L1547.81 1074.65L1548.39 1074.64L1548.96 1074.63L1549.54 1074.62L1550.12 1074.61L1550.70 1074.60L1551.28 1074.59L1551.86 1074.58L1552.44 1074.57L1553.02 1074.56L1553.60 1074.55L1554.18 1074.54L1554.75 1074.53L1555.33 1074.52L1555.91 1074.52L1556.49 1074.51L1557.07 1074.50L1557.65 1074.49L1558.23 1074.48L1558.81 1074.47L1559.39 1074.46L1559.97 1074.45L1560.54 1074.45L1561.12 1074.44L1561.70 1074.43L1562.28 1074.42L1562.86 1074.41L1563.44 1074.40L1564.02 1074.40L1564.60 1074.39L1565.18 1074.38L1565.76 1074.37L1566.33 1074.36L1566.91 1074.36L1567.49 1074.35L1568.07 1074.34L1568.65 1074.33L1569.23 1074.32L1569.81 1074.32L1570.39 1074.31L1570.97 1074.30L1571.55 1074.29L1572.13 1074.29L1572.70 1074.28L1573.28 1074.27L1573.86 1074.26L1574.44 1074.26L1575.02 1074.25L1575.60 1074.24L1576.18 1074.23L1576.76 1074.23L1577.34 1074.22L1577.92 1074.21L1578.49 1074.21L1579.07 1074.20L1579.65 1074.19L1580.23 1074.19L1580.81 1074.18L1581.39 1074.17L1581.97 1074.17L1582.55 1074.16L1583.13 1074.15L1583.71 1074.15L1584.28 1074.14L1584.86 1074.13L1585.44 1074.13L1586.02 1074.12L1586.60 1074.11L1587.18 1074.11L1587.76 1074.10L1588.34 1074.09L1588.92 1074.09L1589.50 1074.08L1590.07 1074.08L1590.65 1074.07L1591.23 1074.06L1591.81 1074.06L1592.39 1074.05L1592.97 1074.05L1593.55 1074.04L1594.13 1074.03L1594.71 1074.03L1595.29 1074.02L1595.86 1074.02L1596.44 1074.01L1597.02 1074.00L1597.60 1074.00L1598.18 1073.99L1598.76 1073.99L1599.34 1073.98L1599.92 1073.98L1600.50 1073.97L1601.08 1073.97L1601.65 1073.96L1602.23 1073.96L1602.81 1073.95L1603.39 1073.95L1603.97 1073.94L1604.55 1073.94L1605.13 1073.93L1605.71 1073.92L1606.29 1073.92L1606.87 1073.91L1607.44 1073.91L1608.02 1073.91L1608.60 1073.90L1609.18 1073.90L1609.76 1073.89L1610.34 1073.89L1610.92 1073.88L1611.50 1073.88L1612.08 1073.87L1612.66 1073.87L1613.24 1073.86L1613.81 1073.86L1614.39 1073.85L1614.97 1073.85L1615.55 1073.84L1616.13 1073.84L1616.71 1073.83L1617.29 1073.83L1617.87 1073.83L1618.45 1073.82L1619.03 1073.82L1619.60 1073.81L1620.18 1073.81L1620.76 1073.80L1621.34 1073.80L1621.92 1073.79L1622.50 1073.79L1623.08 1073.78L1623.66 1073.78L1624.24 1073.78L1624.82 1073.77L1625.39 1073.77L1625.97 1073.76L1626.55 1073.76L1627.13 1073.75L1627.71 1073.75L1628.29 1073.74L1628.87 1073.74L1629.45 1073.74L1630.03 1073.73L1630.61 1073.73L1631.18 1073.72L1631.76 1073.72L1632.34 1073.71L1632.92 1073.71L1633.50 1073.70L1634.08 1073.70L1634.66 1073.70L1635.24 1073.69L1635.82 1073.69L1636.40 1073.68L1636.97 1073.68L1637.55 1073.67L1638.13 1073.67L1638.71 1073.66L1639.29 1073.66L1639.87 1073.66L1640.45 1073.65L1641.03 1073.65L1641.61 1073.64L1642.19 1073.64L1642.76 1073.63L1643.34 1073.63L1643.92 1073.63L1644.50 1073.62L1645.08 1073.62L1645.66 1073.61L1646.24 1073.61L1646.82 1073.61L1647.40 1073.60L1647.98 1073.60L1648.56 1073.59L1649.13 1073.59L1649.71 1073.58L1650.29 1073.58L1650.87 1073.58L1651.45 1073.57L1652.03 1073.57L1652.61 1073.56L1653.19 1073.56L1653.77 1073.56L1654.35 1073.55L1654.92 1073.55L1655.50 1073.54L1656.08 1073.54L1656.66 1073.54L1657.24 1073.53L1657.82 1073.53L1658.40 1073.52L1658.98 1073.52L1659.56 1073.52L1660.14 1073.51L1660.71 1073.51L1661.29 1073.51L1661.87 1073.50L1662.45 1073.50L1663.03 1073.49L1663.61 1073.49L1664.19 1073.49L1664.77 1073.48L1665.35 1073.48L1665.93 1073.47L1666.50 1073.47L1667.08 1073.47L1667.66 1073.46L1668.24 1073.46L1668.82 1073.46L1669.40 1073.45L1669.98 1073.45L1670.56 1073.45L1671.14 1073.44L1671.72 1073.44L1672.29 1073.44L1672.87 1073.43L1673.45 1073.43L1674.03 1073.42L1674.61 1073.42L1675.19 1073.42L1675.77 1073.41L1676.35 1073.41L1676.93 1073.41L1677.51 1073.40L1678.08 1073.40L1678.66 1073.40L1679.24 1073.39L1679.82 1073.39L1680.40 1073.39L1680.98 1073.38L1681.56 1073.38L1682.14 1073.38L1682.72 1073.37L1683.30 1073.37L1683.87 1073.37L1684.45 1073.37L1685.03 1073.36L1685.61 1073.36L1686.19 1073.36L1686.77 1073.35L1687.35 1073.35L1687.93 1073.35L1688.51 1073.34L1689.09 1073.34L1689.67 1073.34L1690.24 1073.34L1690.82 1073.33L1691.40 1073.33L1691.98 1073.33L1692.56 1073.32L1693.14 1073.32L1693.72 1073.32L1694.30 1073.32L1694.88 1073.31L1695.46 1073.31L1696.03 1073.31L1696.61 1073.31L1697.19 1073.30L1697.77 1073.30L1698.35 1073.30L1698.93 1073.29L1699.51 1073.29L1700.09 1073.29L1700.67 1073.29L1701.25 1073.28L1701.82 1073.28L1702.40 1073.28L1702.98 1073.28L1703.56 1073.28L1704.14 1073.27L1704.72 1073.27L1705.30 1073.27L1705.88 1073.27L1706.46 1073.26L1707.04 1073.26L1707.61 1073.26L1708.19 1073.26L1708.77 1073.26L1709.35 1073.25L1709.93 1073.25L1710.51 1073.25L1711.09 1073.25L1711.67 1073.24L1712.25 1073.24L1712.83 1073.24L1713.40 1073.24L1713.98 1073.24L1714.56 1073.24L1715.14 1073.23L1715.72 1073.23L1716.30 1073.23L1716.88 1073.23L1717.46 1073.23L1718.04 1073.22L1718.62 1073.22L1719.19 1073.22L1719.77 1073.22L1720.35 1073.22L1720.93 1073.22L1721.51 1073.22L1722.09 1073.21L1722.67 1073.21L1723.25 1073.21L1723.83 1073.21L1724.41 1073.21L1724.99 1073.21L1725.56 1073.21L1726.14 1073.20L1726.72 1073.20L1727.30 1073.20L1727.88 1073.20L1728.46 1073.20" stroke="#529d3f" stroke-width="3.20" fill="none" stroke-linejoin="round" stroke-dasharray="11.9 5.2" clip-path="url(#clipF)"/>
<path d="M1033.64 1073.20L1034.22 1075.72L1034.80 1078.18L1035.38 1080.55L1035.96 1082.86L1036.54 1085.07L1037.12 1087.21L1037.69 1089.33L1038.27 1091.46L1038.85 1093.53L1039.43 1095.45L1040.01 1097.15L1040.59 1098.55L1041.17 1099.78L1041.75 1101.01L1042.33 1102.19L1042.91 1103.27L1043.48 1104.19L1044.06 1104.91L1044.64 1105.38L1045.22 1105.55L1045.80 1105.53L1046.38 1105.45L1046.96 1105.34L1047.54 1105.17L1048.12 1104.96L1048.70 1104.70L1049.27 1104.40L1049.85 1104.05L1050.43 1103.65L1051.01 1103.22L1051.59 1102.23L1052.17 1100.32L1052.75 1097.68L1053.33 1094.49L1053.91 1090.94L1054.49 1087.21L1055.06 1082.53L1055.64 1076.53L1056.22 1070.04L1056.80 1063.86L1057.38 1058.25L1057.96 1052.77L1058.54 1047.16L1059.12 1041.18L1059.70 1034.64L1060.28 1027.65L1060.85 1020.49L1061.43 1013.44L1062.01 1006.49L1062.59 999.52L1063.17 992.61L1063.75 985.82L1064.33 978.92L1064.91 971.95L1065.49 965.41L1066.07 959.81L1066.64 954.82L1067.22 950.13L1067.80 946.27L1068.38 943.80L1068.96 942.28L1069.54 941.00L1070.12 940.13L1070.70 939.80L1071.28 939.80L1071.86 939.80L1072.43 939.80L1073.01 939.80L1073.59 939.80L1074.17 939.80L1074.75 939.80L1075.33 939.80L1075.91 939.80L1076.49 939.80L1077.07 939.80L1077.65 939.80L1078.23 939.80L1078.80 939.80L1079.38 939.80L1079.96 939.80L1080.54 939.80L1081.12 939.80L1081.70 939.80L1082.28 939.80L1082.86 939.80L1083.44 939.80L1084.02 939.80L1084.59 939.80L1085.17 939.80L1085.75 939.80L1086.33 939.80L1086.91 939.80L1087.49 939.80L1088.07 939.80L1088.65 939.80L1089.23 939.80L1089.81 939.80L1090.38 939.80L1090.96 939.80L1091.54 939.80L1092.12 939.80L1092.70 939.80L1093.28 939.80L1093.86 939.80L1094.44 939.80L1095.02 939.80L1095.60 939.80L1096.17 939.80L1096.75 939.80L1097.33 939.80L1097.91 939.80L1098.49 939.80L1099.07 939.80L1099.65 939.80L1100.23 939.80L1100.81 939.80L1101.39 939.80L1101.96 939.80L1102.54 939.80L1103.12 939.80L1103.70 939.80L1104.28 939.80L1104.86 939.80L1105.44 939.80L1106.02 939.80L1106.60 939.80L1107.18 939.80L1107.75 939.80L1108.33 939.80L1108.91 939.80L1109.49 939.80L1110.07 939.80L1110.65 939.80L1111.23 939.80L1111.81 939.80L1112.39 939.80L1112.97 939.80L1113.55 939.80L1114.12 939.80L1114.70 939.80L1115.28 939.80L1115.86 939.80L1116.44 939.80L1117.02 939.80L1117.60 939.80L1118.18 939.80L1118.76 939.80L1119.34 939.80L1119.91 939.80L1120.49 939.80L1121.07 939.80L1121.65 939.80L1122.23 939.80L1122.81 939.80L1123.39 939.80L1123.97 939.80L1124.55 939.80L1125.13 939.80L1125.70 939.80L1126.28 939.80L1126.86 939.80L1127.44 939.80L1128.02 939.80L1128.60 939.80L1129.18 939.80L1129.76 939.80L1130.34 939.80L1130.92 939.80L1131.49 939.80L1132.07 939.80L1132.65 939.80L1133.23 939.80L1133.81 939.80L1134.39 939.80L1134.97 939.80L1135.55 939.80L1136.13 939.80L1136.71 939.80L1137.28 939.80L1137.86 939.80L1138.44 939.80L1139.02 939.80L1139.60 939.80L1140.18 939.80L1140.76 939.80L1141.34 939.80L1141.92 939.80L1142.50 939.80L1143.07 939.80L1143.65 939.80L1144.23 939.80L1144.81 939.80L1145.39 939.80L1145.97 939.80L1146.55 939.80L1147.13 939.80L1147.71 939.80L1148.29 939.80L1148.86 939.80L1149.44 939.80L1150.02 939.80L1150.60 939.80L1151.18 939.80L1151.76 939.80L1152.34 939.80L1152.92 939.80L1153.50 939.80L1154.08 939.80L1154.66 939.80L1155.23 939.80L1155.81 939.80L1156.39 939.80L1156.97 939.80L1157.55 939.80L1158.13 939.80L1158.71 939.80L1159.29 939.80L1159.87 939.80L1160.45 939.80L1161.02 939.80L1161.60 939.80L1162.18 939.80L1162.76 939.80L1163.34 939.80L1163.92 939.80L1164.50 939.80L1165.08 939.80L1165.66 939.80L1166.24 939.80L1166.81 939.80L1167.39 939.80L1167.97 939.80L1168.55 939.80L1169.13 939.80L1169.71 939.80L1170.29 939.80L1170.87 939.80L1171.45 939.80L1172.03 939.80L1172.60 939.80L1173.18 939.80L1173.76 939.80L1174.34 939.80L1174.92 939.80L1175.50 939.80L1176.08 939.80L1176.66 939.80L1177.24 939.80L1177.82 939.80L1178.39 939.80L1178.97 939.80L1179.55 939.80L1180.13 942.93L1180.71 948.47L1181.29 953.97L1181.87 960.18L1182.45 966.21L1183.03 971.15L1183.61 975.03L1184.18 978.51L1184.76 981.67L1185.34 984.56L1185.92 987.26L1186.50 989.83L1187.08 992.27L1187.66 994.57L1188.24 996.75L1188.82 998.83L1189.40 1000.82L1189.98 1002.76L1190.55 1004.64L1191.13 1006.50L1191.71 1008.29L1192.29 1009.97L1192.87 1011.59L1193.45 1013.17L1194.03 1014.75L1194.61 1016.37L1195.19 1018.05L1195.77 1019.84L1196.34 1021.75L1196.92 1023.76L1197.50 1025.85L1198.08 1027.99L1198.66 1030.15L1199.24 1032.31L1199.82 1034.44L1200.40 1036.52L1200.98 1038.56L1201.56 1040.62L1202.13 1042.67L1202.71 1044.71L1203.29 1046.73L1203.87 1048.71L1204.45 1050.64L1205.03 1052.52L1205.61 1054.36L1206.19 1056.16L1206.77 1057.93L1207.35 1059.67L1207.92 1061.37L1208.50 1063.04L1209.08 1064.67L1209.66 1066.26L1210.24 1067.82L1210.82 1069.36L1211.40 1070.87L1211.98 1072.35L1212.56 1073.79L1213.14 1075.19L1213.71 1076.55L1214.29 1077.87L1214.87 1079.16L1215.45 1080.43L1216.03 1081.67L1216.61 1082.89L1217.19 1084.05L1217.77 1085.17L1218.35 1086.22L1218.93 1087.21L1219.50 1088.14L1220.08 1089.06L1220.66 1089.95L1221.24 1090.82L1221.82 1091.66L1222.40 1092.47L1222.98 1093.25L1223.56 1093.99L1224.14 1094.69L1224.72 1095.35L1225.29 1095.97L1225.87 1096.55L1226.45 1097.09L1227.03 1097.61L1227.61 1098.12L1228.19 1098.62L1228.77 1099.10L1229.35 1099.56L1229.93 1100.00L1230.51 1100.43L1231.09 1100.84L1231.66 1101.23L1232.24 1101.60L1232.82 1101.96L1233.40 1102.30L1233.98 1102.62L1234.56 1102.93L1235.14 1103.22L1235.72 1103.50L1236.30 1103.78L1236.88 1104.07L1237.45 1104.36L1238.03 1104.65L1238.61 1104.92L1239.19 1105.19L1239.77 1105.44L1240.35 1105.67L1240.93 1105.89L1241.51 1106.08L1242.09 1106.24L1242.67 1106.37L1243.24 1106.47L1243.82 1106.53L1244.40 1106.55L1244.98 1106.55L1245.56 1106.55L1246.14 1106.55L1246.72 1106.55L1247.30 1106.55L1247.88 1106.55L1248.46 1106.55L1249.03 1106.55L1249.61 1106.55L1250.19 1106.55L1250.77 1106.55L1251.35 1106.55L1251.93 1106.55L1252.51 1106.55L1253.09 1106.55L1253.67 1106.55L1254.25 1106.55L1254.82 1106.53L1255.40 1106.52L1255.98 1106.49L1256.56 1106.46L1257.14 1106.42L1257.72 1106.38L1258.30 1106.33L1258.88 1106.27L1259.46 1106.21L1260.04 1106.15L1260.61 1106.09L1261.19 1106.02L1261.77 1105.95L1262.35 1105.87L1262.93 1105.80L1263.51 1105.72L1264.09 1105.64L1264.67 1105.56L1265.25 1105.48L1265.83 1105.40L1266.41 1105.29L1266.98 1105.17L1267.56 1105.04L1268.14 1104.90L1268.72 1104.74L1269.30 1104.57L1269.88 1104.40L1270.46 1104.21L1271.04 1104.01L1271.62 1103.81L1272.20 1103.60L1272.77 1103.38L1273.35 1103.17L1273.93 1102.94L1274.51 1102.72L1275.09 1102.49L1275.67 1102.26L1276.25 1102.03L1276.83 1101.80L1277.41 1101.57L1277.99 1101.35L1278.56 1101.13L1279.14 1100.91L1279.72 1100.70L1280.30 1100.50L1280.88 1100.30L1281.46 1100.12L1282.04 1099.94L1282.62 1099.77L1283.20 1099.61L1283.78 1099.46L1284.35 1099.33L1284.93 1099.21L1285.51 1099.10L1286.09 1099.00L1286.67 1098.90L1287.25 1098.80L1287.83 1098.71L1288.41 1098.62L1288.99 1098.53L1289.57 1098.45L1290.14 1098.37L1290.72 1098.29L1291.30 1098.21L1291.88 1098.14L1292.46 1098.07L1293.04 1097.99L1293.62 1097.92L1294.20 1097.86L1294.78 1097.79L1295.36 1097.72L1295.93 1097.65L1296.51 1097.59L1297.09 1097.52L1297.67 1097.45L1298.25 1097.39L1298.83 1097.32L1299.41 1097.25L1299.99 1097.18L1300.57 1097.11L1301.15 1097.03L1301.72 1096.95L1302.30 1096.88L1302.88 1096.80L1303.46 1096.71L1304.04 1096.63L1304.62 1096.54L1305.20 1096.44L1305.78 1096.34L1306.36 1096.24L1306.94 1096.14L1307.52 1096.03L1308.09 1095.92L1308.67 1095.81L1309.25 1095.69L1309.83 1095.57L1310.41 1095.44L1310.99 1095.32L1311.57 1095.19L1312.15 1095.06L1312.73 1094.93L1313.31 1094.80L1313.88 1094.66L1314.46 1094.52L1315.04 1094.39L1315.62 1094.25L1316.20 1094.11L1316.78 1093.97L1317.36 1093.82L1317.94 1093.68L1318.52 1093.54L1319.10 1093.40L1319.67 1093.26L1320.25 1093.12L1320.83 1092.97L1321.41 1092.83L1321.99 1092.69L1322.57 1092.55L1323.15 1092.42L1323.73 1092.28L1324.31 1092.15L1324.89 1092.01L1325.46 1091.88L1326.04 1091.75L1326.62 1091.63L1327.20 1091.50L1327.32 1091.48L1327.78 1091.38L1328.36 1091.25L1328.94 1091.13L1329.52 1091.01L1330.10 1090.89L1330.68 1090.77L1331.25 1090.64L1331.83 1090.52L1332.41 1090.40L1332.99 1090.28L1333.57 1090.16L1334.15 1090.04L1334.73 1089.92L1335.31 1089.80L1335.89 1089.68L1336.47 1089.57L1337.04 1089.45L1337.62 1089.33L1338.20 1089.21L1338.78 1089.10L1339.36 1088.98L1339.94 1088.87L1340.52 1088.75L1341.10 1088.64L1341.68 1088.52L1342.26 1088.41L1342.84 1088.30L1343.41 1088.18L1343.99 1088.07L1344.57 1087.96L1345.15 1087.85L1345.73 1087.74L1346.31 1087.63L1346.89 1087.53L1347.47 1087.42L1348.05 1087.31L1348.63 1087.21L1349.20 1087.10L1349.78 1087.00L1350.36 1086.89L1350.94 1086.79L1351.52 1086.68L1352.10 1086.58L1352.68 1086.47L1353.26 1086.37L1353.84 1086.27L1354.42 1086.16L1354.99 1086.06L1355.57 1085.96L1356.15 1085.86L1356.73 1085.76L1357.31 1085.66L1357.89 1085.56L1358.47 1085.46L1359.05 1085.36L1359.63 1085.26L1360.21 1085.16L1360.78 1085.07L1361.36 1084.97L1361.94 1084.88L1362.52 1084.78L1363.10 1084.69L1363.68 1084.60L1364.26 1084.51L1364.84 1084.42L1365.42 1084.33L1366.00 1084.24L1366.57 1084.15L1367.15 1084.07L1367.73 1083.98L1368.31 1083.90L1368.89 1083.82L1369.47 1083.74L1370.05 1083.66L1370.63 1083.58L1371.21 1083.51L1371.79 1083.44L1372.36 1083.37L1372.94 1083.30L1373.52 1083.24L1374.10 1083.17L1374.68 1083.11L1375.26 1083.04L1375.84 1082.98L1376.42 1082.91L1377.00 1082.84L1377.58 1082.78L1378.15 1082.71L1378.73 1082.64L1379.31 1082.57L1379.89 1082.49L1380.47 1082.42L1381.05 1082.34L1381.63 1082.26L1382.21 1082.17L1382.79 1082.08L1383.37 1081.99L1383.95 1081.90L1384.52 1081.80L1385.10 1081.71L1385.68 1081.61L1386.26 1081.51L1386.84 1081.40L1387.42 1081.30L1388.00 1081.19L1388.58 1081.09L1389.16 1080.98L1389.74 1080.87L1390.31 1080.76L1390.89 1080.65L1391.47 1080.54L1392.05 1080.43L1392.63 1080.31L1393.21 1080.20L1393.79 1080.09L1394.37 1079.98L1394.95 1079.87L1395.53 1079.76L1396.10 1079.65L1396.68 1079.54L1397.26 1079.44L1397.84 1079.33L1398.42 1079.23L1399.00 1079.12L1399.58 1079.02L1400.16 1078.92L1400.74 1078.82L1401.32 1078.73L1401.89 1078.64L1402.47 1078.55L1403.05 1078.46L1403.63 1078.37L1404.21 1078.29L1404.79 1078.21L1405.37 1078.14L1405.95 1078.06L1406.53 1077.99L1407.11 1077.92L1407.68 1077.85L1408.26 1077.77L1408.84 1077.70L1409.42 1077.64L1410.00 1077.57L1410.58 1077.50L1411.16 1077.43L1411.74 1077.37L1412.32 1077.30L1412.90 1077.24L1413.47 1077.17L1414.05 1077.11L1414.63 1077.04L1415.21 1076.98L1415.79 1076.92L1416.37 1076.86L1416.95 1076.80L1417.53 1076.74L1418.11 1076.68L1418.69 1076.62L1419.27 1076.56L1419.84 1076.51L1420.42 1076.45L1421.00 1076.39L1421.58 1076.34L1422.16 1076.28L1422.74 1076.23L1423.32 1076.17L1423.90 1076.12L1424.48 1076.07L1425.06 1076.02L1425.63 1075.96L1426.21 1075.91L1426.79 1075.86L1427.37 1075.81L1427.95 1075.76L1428.53 1075.71L1429.11 1075.66L1429.69 1075.62L1430.27 1075.57L1430.85 1075.52L1431.42 1075.47L1432.00 1075.43L1432.58 1075.38L1433.16 1075.33L1433.74 1075.29L1434.32 1075.24L1434.90 1075.20L1435.48 1075.15L1436.06 1075.11L1436.64 1075.07L1437.21 1075.02L1437.79 1074.98L1438.37 1074.94L1438.95 1074.90L1439.53 1074.85L1440.11 1074.81L1440.69 1074.77L1441.27 1074.73L1441.85 1074.69L1442.43 1074.65L1443.00 1074.61L1443.58 1074.57L1444.16 1074.53L1444.74 1074.49L1445.32 1074.46L1445.90 1074.42L1446.48 1074.38L1447.06 1074.34L1447.64 1074.30L1448.22 1074.27L1448.79 1074.23L1449.37 1074.19L1449.95 1074.16L1450.53 1074.12L1451.11 1074.09L1451.69 1074.05L1452.27 1074.02L1452.85 1073.98L1453.43 1073.95L1454.01 1073.91L1454.58 1073.88L1455.16 1073.85L1455.74 1073.81L1456.32 1073.78L1456.90 1073.75L1457.48 1073.72L1458.06 1073.68L1458.64 1073.65L1459.22 1073.62L1459.80 1073.59L1460.38 1073.56L1460.95 1073.53L1461.53 1073.50L1462.11 1073.47L1462.69 1073.44L1463.27 1073.41L1463.85 1073.37L1464.43 1073.34L1465.01 1073.31L1465.59 1073.28L1466.17 1073.25L1466.74 1073.21L1467.32 1073.18L1467.90 1073.15L1468.48 1073.11L1469.06 1073.08L1469.64 1073.05L1470.22 1073.01L1470.80 1072.98L1471.38 1072.94L1471.96 1072.91L1472.53 1072.88L1473.11 1072.84L1473.69 1072.81L1474.27 1072.78L1474.85 1072.74L1475.43 1072.71L1476.01 1072.68L1476.59 1072.64L1477.17 1072.61L1477.75 1072.58L1478.32 1072.55L1478.90 1072.52L1479.48 1072.49L1480.06 1072.45L1480.64 1072.42L1481.22 1072.40L1481.80 1072.37L1482.38 1072.34L1482.96 1072.31L1483.54 1072.28L1484.11 1072.25L1484.69 1072.23L1485.27 1072.20L1485.85 1072.18L1486.43 1072.15L1487.01 1072.13L1487.59 1072.11L1488.17 1072.09L1488.75 1072.06L1489.33 1072.04L1489.90 1072.03L1490.48 1072.01L1491.06 1071.99L1491.64 1071.97L1492.22 1071.96L1492.80 1071.94L1493.38 1071.93L1493.96 1071.92L1494.54 1071.91L1495.12 1071.90L1495.70 1071.89L1496.27 1071.88L1496.85 1071.88L1497.43 1071.87L1498.01 1071.87L1498.59 1071.87L1499.17 1071.87L1499.75 1071.87L1500.33 1071.87L1500.91 1071.87L1501.49 1071.87L1502.06 1071.87L1502.64 1071.87L1503.22 1071.87L1503.80 1071.87L1504.38 1071.88L1504.96 1071.88L1505.54 1071.88L1506.12 1071.89L1506.70 1071.89L1507.28 1071.89L1507.85 1071.90L1508.43 1071.90L1509.01 1071.90L1509.59 1071.91L1510.17 1071.91L1510.75 1071.92L1511.33 1071.92L1511.91 1071.93L1512.49 1071.93L1513.07 1071.94L1513.64 1071.95L1514.22 1071.95L1514.80 1071.96L1515.38 1071.96L1515.96 1071.97L1516.54 1071.98L1517.12 1071.98L1517.70 1071.99L1518.28 1072.00L1518.86 1072.00L1519.43 1072.01L1520.01 1072.02L1520.59 1072.03L1521.17 1072.03L1521.75 1072.04L1522.33 1072.05L1522.91 1072.06L1523.49 1072.07L1524.07 1072.08L1524.65 1072.08L1525.22 1072.09L1525.80 1072.10L1526.38 1072.11L1526.96 1072.12L1527.54 1072.13L1528.12 1072.14L1528.70 1072.14L1529.28 1072.15L1529.86 1072.16L1530.44 1072.17L1531.01 1072.18L1531.59 1072.19L1532.17 1072.20L1532.75 1072.21L1533.33 1072.22L1533.91 1072.23L1534.49 1072.24L1535.07 1072.24L1535.65 1072.25L1536.23 1072.26L1536.81 1072.27L1537.38 1072.28L1537.96 1072.29L1538.54 1072.30L1539.12 1072.31L1539.70 1072.32L1540.28 1072.33L1540.86 1072.34L1541.44 1072.35L1542.02 1072.35L1542.60 1072.36L1543.17 1072.37L1543.75 1072.38L1544.33 1072.39L1544.91 1072.40L1545.49 1072.41L1546.07 1072.42L1546.65 1072.43L1547.23 1072.43L1547.81 1072.44L1548.39 1072.45L1548.96 1072.46L1549.54 1072.47L1550.12 1072.47L1550.70 1072.48L1551.28 1072.49L1551.86 1072.50L1552.44 1072.50L1553.02 1072.51L1553.60 1072.52L1554.18 1072.53L1554.75 1072.53L1555.33 1072.54L1555.91 1072.55L1556.49 1072.55L1557.07 1072.56L1557.65 1072.57L1558.23 1072.58L1558.81 1072.58L1559.39 1072.59L1559.97 1072.60L1560.54 1072.61L1561.12 1072.61L1561.70 1072.62L1562.28 1072.63L1562.86 1072.64L1563.44 1072.65L1564.02 1072.66L1564.60 1072.66L1565.18 1072.67L1565.76 1072.68L1566.33 1072.69L1566.91 1072.70L1567.49 1072.71L1568.07 1072.72L1568.65 1072.72L1569.23 1072.73L1569.81 1072.74L1570.39 1072.75L1570.97 1072.76L1571.55 1072.77L1572.13 1072.78L1572.70 1072.79L1573.28 1072.79L1573.86 1072.80L1574.44 1072.81L1575.02 1072.82L1575.60 1072.83L1576.18 1072.84L1576.76 1072.85L1577.34 1072.86L1577.92 1072.87L1578.49 1072.87L1579.07 1072.88L1579.65 1072.89L1580.23 1072.90L1580.81 1072.91L1581.39 1072.92L1581.97 1072.93L1582.55 1072.93L1583.13 1072.94L1583.71 1072.95L1584.28 1072.96L1584.86 1072.97L1585.44 1072.98L1586.02 1072.98L1586.60 1072.99L1587.18 1073.00L1587.76 1073.01L1588.34 1073.02L1588.92 1073.02L1589.50 1073.03L1590.07 1073.04L1590.65 1073.05L1591.23 1073.05L1591.81 1073.06L1592.39 1073.07L1592.97 1073.07L1593.55 1073.08L1594.13 1073.09L1594.71 1073.09L1595.29 1073.10L1595.86 1073.10L1596.44 1073.11L1597.02 1073.12L1597.60 1073.12L1598.18 1073.13L1598.76 1073.13L1599.34 1073.14L1599.92 1073.14L1600.50 1073.15L1601.08 1073.15L1601.65 1073.16L1602.23 1073.16L1602.81 1073.17L1603.39 1073.17L1603.97 1073.17L1604.55 1073.18L1605.13 1073.18L1605.71 1073.18L1606.29 1073.18L1606.87 1073.19L1607.44 1073.19L1608.02 1073.19L1608.60 1073.19L1609.18 1073.20L1609.76 1073.20L1610.34 1073.20L1610.92 1073.20L1611.50 1073.20L1612.08 1073.20L1612.66 1073.20L1613.24 1073.20L1613.81 1073.20L1614.39 1073.20L1614.97 1073.20L1615.55 1073.20L1616.13 1073.20L1616.71 1073.20L1617.29 1073.20L1617.87 1073.20L1618.45 1073.20L1619.03 1073.20L1619.60 1073.20L1620.18 1073.20L1620.76 1073.20L1621.34 1073.20L1621.92 1073.20L1622.50 1073.20L1623.08 1073.20L1623.66 1073.20L1624.24 1073.20L1624.82 1073.20L1625.39 1073.20L1625.97 1073.20L1626.55 1073.20L1627.13 1073.20L1627.71 1073.20L1628.29 1073.20L1628.87 1073.20L1629.45 1073.20L1630.03 1073.20L1630.61 1073.20L1631.18 1073.20L1631.76 1073.20L1632.34 1073.20L1632.92 1073.20L1633.50 1073.20L1634.08 1073.20L1634.66 1073.20L1635.24 1073.20L1635.82 1073.20L1636.40 1073.20L1636.97 1073.20L1637.55 1073.20L1638.13 1073.20L1638.71 1073.20L1639.29 1073.20L1639.87 1073.20L1640.45 1073.20L1641.03 1073.20L1641.61 1073.20L1642.19 1073.20L1642.76 1073.20L1643.34 1073.20L1643.92 1073.20L1644.50 1073.20L1645.08 1073.20L1645.66 1073.20L1646.24 1073.20L1646.82 1073.20L1647.40 1073.20L1647.98 1073.20L1648.56 1073.20L1649.13 1073.20L1649.71 1073.20L1650.29 1073.20L1650.87 1073.20L1651.45 1073.20L1652.03 1073.20L1652.61 1073.20L1653.19 1073.20L1653.77 1073.20L1654.35 1073.20L1654.92 1073.20L1655.50 1073.20L1656.08 1073.20L1656.66 1073.20L1657.24 1073.20L1657.82 1073.20L1658.40 1073.20L1658.98 1073.20L1659.56 1073.20L1660.14 1073.20L1660.71 1073.20L1661.29 1073.20L1661.87 1073.20L1662.45 1073.20L1663.03 1073.20L1663.61 1073.20L1664.19 1073.20L1664.77 1073.20L1665.35 1073.20L1665.93 1073.20L1666.50 1073.20L1667.08 1073.20L1667.66 1073.20L1668.24 1073.20L1668.82 1073.20L1669.40 1073.20L1669.98 1073.20L1670.56 1073.20L1671.14 1073.20L1671.72 1073.20L1672.29 1073.20L1672.87 1073.20L1673.45 1073.20L1674.03 1073.20L1674.61 1073.20L1675.19 1073.20L1675.77 1073.20L1676.35 1073.20L1676.93 1073.20L1677.51 1073.20L1678.08 1073.20L1678.66 1073.20L1679.24 1073.20L1679.82 1073.20L1680.40 1073.20L1680.98 1073.20L1681.56 1073.20L1682.14 1073.20L1682.72 1073.20L1683.30 1073.20L1683.87 1073.20L1684.45 1073.20L1685.03 1073.20L1685.61 1073.20L1686.19 1073.20L1686.77 1073.20L1687.35 1073.20L1687.93 1073.20L1688.51 1073.20L1689.09 1073.20L1689.67 1073.20L1690.24 1073.20L1690.82 1073.20L1691.40 1073.20L1691.98 1073.20L1692.56 1073.20L1693.14 1073.20L1693.72 1073.20L1694.30 1073.20L1694.88 1073.20L1695.46 1073.20L1696.03 1073.20L1696.61 1073.20L1697.19 1073.20L1697.77 1073.20L1698.35 1073.20L1698.93 1073.20L1699.51 1073.20L1700.09 1073.20L1700.67 1073.20L1701.25 1073.20L1701.82 1073.20L1702.40 1073.20L1702.98 1073.20L1703.56 1073.20L1704.14 1073.20L1704.72 1073.20L1705.30 1073.20L1705.88 1073.20L1706.46 1073.20L1707.04 1073.20L1707.61 1073.20L1708.19 1073.20L1708.77 1073.20L1709.35 1073.20L1709.93 1073.20L1710.51 1073.20L1711.09 1073.20L1711.67 1073.20L1712.25 1073.20L1712.83 1073.20L1713.40 1073.20L1713.98 1073.20L1714.56 1073.20L1715.14 1073.20L1715.72 1073.20L1716.30 1073.20L1716.88 1073.20L1717.46 1073.20L1718.04 1073.20L1718.62 1073.20L1719.19 1073.20L1719.77 1073.20L1720.35 1073.20L1720.93 1073.20L1721.51 1073.20L1722.09 1073.20L1722.67 1073.20L1723.25 1073.20L1723.83 1073.20L1724.41 1073.20L1724.99 1073.20L1725.56 1073.20L1726.14 1073.20L1726.72 1073.20L1727.30 1073.20L1727.88 1073.20L1728.46 1073.20" stroke="#bd9f4a" stroke-width="3.20" fill="none" stroke-linejoin="round" stroke-dasharray="3.2 5.3" clip-path="url(#clipF)"/>
<rect x="998.90" y="926.60" width="764.30" height="293.30" fill="none" stroke="#000" stroke-width="1.70" stroke-linejoin="miter"/>
<path d="M1033.64 1219.90v7.50M1149.44 1219.90v7.50M1265.25 1219.90v7.50M1381.05 1219.90v7.50M1496.85 1219.90v7.50M1612.66 1219.90v7.50M1728.46 1219.90v7.50M998.90 939.80h-7.50M998.90 973.15h-7.50M998.90 1006.50h-7.50M998.90 1039.85h-7.50M998.90 1073.20h-7.50M998.90 1106.55h-7.50M998.90 1139.90h-7.50M998.90 1173.25h-7.50M998.90 1206.60h-7.50" stroke="#000" stroke-width="1.70" fill="none"/>
<g font-family="'Liberation Serif', 'DejaVu Serif', serif" font-size="16.3" letter-spacing="0.55" fill="#000"><text x="1033.64" y="1245.30" text-anchor="middle">0</text><text x="1149.44" y="1245.30" text-anchor="middle">100</text><text x="1265.25" y="1245.30" text-anchor="middle">200</text><text x="1381.05" y="1245.30" text-anchor="middle">300</text><text x="1496.85" y="1245.30" text-anchor="middle">400</text><text x="1612.66" y="1245.30" text-anchor="middle">500</text><text x="1728.46" y="1245.30" text-anchor="middle">600</text><text x="983.40" y="944.80" text-anchor="end">0.20</text><text x="983.40" y="978.15" text-anchor="end">0.15</text><text x="983.40" y="1011.50" text-anchor="end">0.10</text><text x="983.40" y="1044.85" text-anchor="end">0.05</text><text x="983.40" y="1078.20" text-anchor="end">0.00</text><text x="983.40" y="1111.55" text-anchor="end"><tspan font-size="20" dy="2.2">−</tspan><tspan dx="0.8" dy="-2.2">0.05</tspan></text><text x="983.40" y="1144.90" text-anchor="end"><tspan font-size="20" dy="2.2">−</tspan><tspan dx="0.8" dy="-2.2">0.10</tspan></text><text x="983.40" y="1178.25" text-anchor="end"><tspan font-size="20" dy="2.2">−</tspan><tspan dx="0.8" dy="-2.2">0.15</tspan></text><text x="983.40" y="1211.60" text-anchor="end"><tspan font-size="20" dy="2.2">−</tspan><tspan dx="0.8" dy="-2.2">0.20</tspan></text></g>
<text x="1381.05" y="1269.00" text-anchor="middle" font-family="'Liberation Sans', 'DejaVu Sans', sans-serif" font-size="17.2" fill="#000" textLength="60.5" lengthAdjust="spacing">Time [s]</text>
<text transform="translate(926.60 1073.25) rotate(-90)" text-anchor="middle" font-family="'Liberation Sans', 'DejaVu Sans', sans-serif" font-size="17.2" fill="#000" textLength="183.2" lengthAdjust="spacing">RW Motor Torque [Nm]</text>
<rect x="1662.20" y="1130.30" width="91.80" height="80.60" rx="3.8" ry="3.8" fill="#fff" fill-opacity="0.8" stroke="#cccccc" stroke-opacity="0.9" stroke-width="1.7"/>
<path d="M1668.60 1143.10H1702.90" stroke="#1d6874" stroke-width="3.20" stroke-linecap="square"/>
<text x="1717.40" y="1148.10" font-family="'Liberation Serif', 'DejaVu Serif', serif" fill="#000"><tspan font-style="italic" font-size="17">û</tspan><tspan font-style="italic" font-size="14" dy="3" dx="1" letter-spacing="1.2">s</tspan><tspan font-size="14" letter-spacing="1.2">,0</tspan></text>
<path d="M1668.60 1168.40H1702.90" stroke="#529d3f" stroke-width="3.20" stroke-dasharray="11.9 5.2"/>
<text x="1717.40" y="1173.40" font-family="'Liberation Serif', 'DejaVu Serif', serif" fill="#000"><tspan font-style="italic" font-size="17">û</tspan><tspan font-style="italic" font-size="14" dy="3" dx="1" letter-spacing="1.2">s</tspan><tspan font-size="14" letter-spacing="1.2">,1</tspan></text>
<path d="M1668.60 1193.90H1702.90" stroke="#bd9f4a" stroke-width="3.20" stroke-dasharray="3.2 5.3"/>
<text x="1717.40" y="1198.90" font-family="'Liberation Serif', 'DejaVu Serif', serif" fill="#000"><tspan font-style="italic" font-size="17">û</tspan><tspan font-style="italic" font-size="14" dy="3" dx="1" letter-spacing="1.2">s</tspan><tspan font-size="14" letter-spacing="1.2">,2</tspan></text>
<text x="911.30" y="908.20" font-family="'Liberation Sans', 'DejaVu Sans', sans-serif" font-weight="bold" font-size="37" fill="#000">F</text>
</svg>
</body></html>
